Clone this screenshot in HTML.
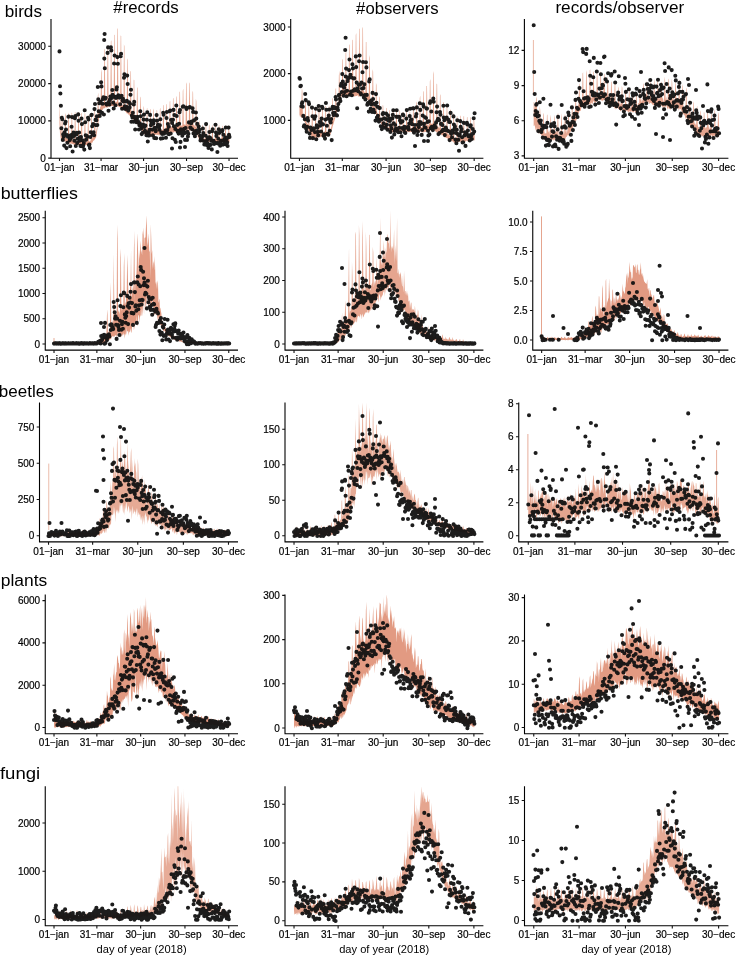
<!DOCTYPE html><html><head><meta charset="utf-8"><style>html,body{margin:0;padding:0;background:#fff;}svg{display:block;will-change:transform;}text{font-family:"Liberation Sans",sans-serif;}</style></head><body>
<svg width="736" height="955" viewBox="0 0 736 955"><g opacity="0.999">
<rect width="736" height="955" fill="#fff"/>
<polygon points="59.50,101.4 59.97,115.6 60.43,123.3 60.90,135.1 61.37,136.4 61.84,115.4 62.30,114.4 62.77,136.5 63.24,136.5 63.70,136.8 64.17,137.2 64.64,136.4 65.10,114.9 65.57,113.0 66.04,137.2 66.51,137.6 66.97,138.4 67.44,138.9 67.91,137.8 68.37,114.3 68.84,112.5 69.31,139.7 69.77,140.2 70.24,139.9 70.71,139.6 71.18,139.3 71.64,112.5 72.11,113.3 72.58,140.7 73.04,140.6 73.51,140.7 73.98,141.3 74.45,140.8 74.91,111.8 75.38,112.5 75.85,141.9 76.31,141.6 76.78,141.5 77.25,140.6 77.71,142.5 78.18,111.9 78.65,112.1 79.12,141.6 79.58,142.1 80.05,140.9 80.52,141.5 80.98,142.5 81.45,113.0 81.92,113.2 82.38,141.3 82.85,141.1 83.32,142.1 83.79,140.6 84.25,141.8 84.72,113.2 85.19,113.4 85.65,142.5 86.12,140.9 86.59,141.3 87.05,142.0 87.52,141.2 87.99,115.3 88.46,115.2 88.92,141.7 89.39,141.1 89.86,141.5 90.32,141.0 90.79,139.6 91.26,112.8 91.73,114.3 92.19,138.8 92.66,137.6 93.13,136.6 93.59,136.2 94.06,135.4 94.53,110.9 94.99,110.2 95.46,135.4 95.93,133.0 96.40,130.0 96.86,127.6 97.33,125.3 97.80,96.3 98.26,92.5 98.73,114.6 99.20,112.7 99.66,109.5 100.13,106.7 100.60,107.5 101.07,72.5 101.53,68.7 102.00,105.5 102.47,105.8 102.93,105.1 103.40,104.9 103.87,102.9 104.34,50.0 104.80,48.4 105.27,102.9 105.74,102.7 106.20,102.5 106.67,102.8 107.14,102.4 107.60,46.3 108.07,45.0 108.54,103.1 109.01,103.4 109.47,101.5 109.94,102.5 110.41,102.8 110.87,41.5 111.34,40.3 111.81,100.9 112.27,101.6 112.74,101.7 113.21,102.0 113.68,102.0 114.14,34.7 114.61,35.1 115.08,102.8 115.54,102.0 116.01,101.1 116.48,102.0 116.95,102.0 117.41,29.3 117.88,28.1 118.35,102.4 118.81,102.6 119.28,102.4 119.75,103.3 120.21,103.3 120.68,35.6 121.15,35.9 121.62,104.4 122.08,104.7 122.55,105.0 123.02,105.9 123.48,105.3 123.95,44.3 124.42,46.5 124.88,107.3 125.35,106.7 125.82,107.2 126.29,107.3 126.75,108.9 127.22,58.2 127.69,59.9 128.15,111.2 128.62,110.9 129.09,111.4 129.55,110.4 130.02,112.7 130.49,71.0 130.96,71.4 131.42,113.9 131.89,113.6 132.36,114.2 132.82,114.2 133.29,116.9 133.76,79.7 134.23,79.9 134.69,116.9 135.16,117.0 135.63,118.0 136.09,116.6 136.56,119.1 137.03,87.0 137.49,88.2 137.96,120.8 138.43,121.5 138.90,121.9 139.36,122.5 139.83,124.0 140.30,96.6 140.76,97.8 141.23,124.0 141.70,125.1 142.16,126.2 142.63,125.9 143.10,128.0 143.57,105.8 144.03,108.0 144.50,128.7 144.97,131.1 145.43,131.3 145.90,129.4 146.37,130.8 146.84,108.7 147.30,108.0 147.77,129.7 148.24,130.1 148.70,130.9 149.17,131.1 149.64,129.6 150.10,108.7 150.57,109.6 151.04,130.0 151.51,129.6 151.97,130.2 152.44,129.6 152.91,130.1 153.37,108.4 153.84,110.2 154.31,131.1 154.77,129.3 155.24,129.4 155.71,129.4 156.18,130.1 156.64,110.1 157.11,110.4 157.58,128.9 158.04,129.1 158.51,131.2 158.98,129.3 159.45,130.0 159.91,108.8 160.38,107.9 160.85,129.2 161.31,129.7 161.78,129.5 162.25,130.3 162.71,130.1 163.18,104.8 163.65,105.5 164.12,128.5 164.58,129.7 165.05,128.1 165.52,127.4 165.98,128.7 166.45,104.0 166.92,104.6 167.38,126.7 167.85,127.3 168.32,128.5 168.79,128.1 169.25,128.0 169.72,101.8 170.19,100.7 170.65,127.4 171.12,127.1 171.59,126.1 172.05,128.1 172.52,125.5 172.99,98.4 173.46,98.1 173.92,127.1 174.39,127.5 174.86,126.2 175.32,125.8 175.79,125.6 176.26,97.4 176.73,95.8 177.19,126.1 177.66,126.3 178.13,124.5 178.59,125.9 179.06,124.9 179.53,92.0 179.99,91.5 180.46,125.1 180.93,125.9 181.40,125.7 181.86,125.3 182.33,125.7 182.80,91.0 183.26,88.4 183.73,124.5 184.20,124.5 184.66,124.6 185.13,124.8 185.60,124.9 186.07,84.1 186.53,82.2 187.00,123.9 187.47,124.5 187.93,124.3 188.40,122.5 188.87,121.7 189.34,82.3 189.80,83.5 190.27,124.5 190.74,125.2 191.20,125.0 191.67,125.4 192.14,124.6 192.60,90.7 193.07,92.6 193.54,125.2 194.01,124.9 194.47,125.3 194.94,126.8 195.41,127.3 195.87,98.6 196.34,101.6 196.81,131.1 197.27,131.3 197.74,131.8 198.21,134.2 198.68,136.2 199.14,119.9 199.61,122.7 200.08,139.4 200.54,138.4 201.01,139.4 201.48,138.7 201.95,139.1 202.41,125.6 202.88,124.5 203.35,139.2 203.81,138.3 204.28,138.4 204.75,138.4 205.21,139.5 205.68,125.7 206.15,124.7 206.62,139.3 207.08,138.6 207.55,138.2 208.02,138.8 208.48,139.9 208.95,125.5 209.42,124.6 209.88,138.7 210.35,138.9 210.82,138.5 211.29,139.3 211.75,138.9 212.22,126.1 212.69,125.1 213.15,139.1 213.62,140.2 214.09,138.6 214.55,138.7 215.02,138.7 215.49,125.9 215.96,125.5 216.42,138.2 216.89,139.1 217.36,138.1 217.82,139.0 218.29,138.7 218.76,125.8 219.23,124.9 219.69,138.6 220.16,138.9 220.63,139.0 221.09,137.7 221.56,138.3 222.03,126.1 222.49,125.8 222.96,138.3 223.43,138.9 223.90,138.7 224.36,138.4 224.83,139.4 225.30,124.9 225.76,125.9 226.23,138.1 226.70,139.3 227.16,138.3 227.63,139.1 228.10,139.0 228.57,126.1 229.03,125.6 229.50,138.8 229.50,142.2 229.03,142.0 228.57,141.6 228.10,142.1 227.63,141.6 227.16,142.8 226.70,142.1 226.23,141.9 225.76,141.8 225.30,141.2 224.83,142.0 224.36,142.3 223.90,142.0 223.43,141.7 222.96,141.8 222.49,141.8 222.03,142.0 221.56,141.9 221.09,142.0 220.63,141.7 220.16,141.2 219.69,142.5 219.23,142.5 218.76,142.1 218.29,142.0 217.82,141.9 217.36,142.3 216.89,142.0 216.42,141.6 215.96,142.4 215.49,141.5 215.02,142.0 214.55,141.8 214.09,141.6 213.62,141.2 213.15,142.1 212.69,142.1 212.22,141.8 211.75,142.4 211.29,141.6 210.82,142.0 210.35,141.7 209.88,142.3 209.42,142.0 208.95,142.0 208.48,142.4 208.02,141.5 207.55,142.0 207.08,141.6 206.62,141.6 206.15,141.8 205.68,141.8 205.21,142.3 204.75,141.7 204.28,142.0 203.81,141.8 203.35,142.3 202.88,141.6 202.41,142.2 201.95,141.9 201.48,141.6 201.01,142.4 200.54,141.9 200.08,141.5 199.61,141.3 199.14,139.6 198.68,138.8 198.21,136.9 197.74,136.7 197.27,134.6 196.81,133.9 196.34,132.6 195.87,131.6 195.41,132.0 194.94,131.5 194.47,131.6 194.01,130.1 193.54,131.4 193.07,132.1 192.60,131.8 192.14,130.7 191.67,130.5 191.20,130.7 190.74,129.1 190.27,130.9 189.80,131.5 189.34,130.8 188.87,129.6 188.40,129.4 187.93,129.6 187.47,130.1 187.00,129.6 186.53,130.2 186.07,130.4 185.60,130.7 185.13,130.1 184.66,130.9 184.20,130.5 183.73,130.2 183.26,131.1 182.80,131.2 182.33,130.6 181.86,130.8 181.40,131.2 180.93,132.1 180.46,132.5 179.99,130.2 179.53,131.7 179.06,131.8 178.59,131.6 178.13,131.9 177.66,131.1 177.19,132.1 176.73,131.4 176.26,132.0 175.79,132.0 175.32,131.6 174.86,132.2 174.39,131.0 173.92,132.5 173.46,132.7 172.99,131.5 172.52,132.5 172.05,132.8 171.59,132.5 171.12,133.1 170.65,133.4 170.19,132.8 169.72,132.8 169.25,133.7 168.79,133.9 168.32,133.8 167.85,133.4 167.38,133.3 166.92,133.3 166.45,133.5 165.98,132.9 165.52,133.8 165.05,133.0 164.58,133.9 164.12,133.8 163.65,134.6 163.18,134.2 162.71,134.6 162.25,135.2 161.78,134.2 161.31,134.6 160.85,135.3 160.38,134.8 159.91,134.5 159.45,135.2 158.98,135.7 158.51,134.4 158.04,134.8 157.58,134.7 157.11,134.9 156.64,134.1 156.18,135.4 155.71,134.8 155.24,134.4 154.77,135.3 154.31,135.1 153.84,135.1 153.37,135.5 152.91,134.2 152.44,135.5 151.97,135.7 151.51,134.9 151.04,135.3 150.57,135.6 150.10,135.9 149.64,135.3 149.17,135.1 148.70,135.2 148.24,134.4 147.77,134.7 147.30,135.1 146.84,134.8 146.37,134.8 145.90,134.8 145.43,134.6 144.97,134.7 144.50,134.3 144.03,134.0 143.57,133.7 143.10,131.8 142.63,131.9 142.16,131.3 141.70,129.8 141.23,130.0 140.76,128.6 140.30,128.1 139.83,127.6 139.36,127.5 138.90,126.4 138.43,126.2 137.96,124.6 137.49,123.9 137.03,124.2 136.56,123.7 136.09,122.9 135.63,122.9 135.16,122.0 134.69,121.6 134.23,120.7 133.76,120.8 133.29,119.8 132.82,118.5 132.36,118.7 131.89,118.3 131.42,117.3 130.96,117.6 130.49,116.7 130.02,116.1 129.55,115.2 129.09,114.6 128.62,114.4 128.15,114.4 127.69,113.6 127.22,113.2 126.75,113.4 126.29,112.6 125.82,112.1 125.35,111.7 124.88,110.2 124.42,110.0 123.95,109.6 123.48,110.0 123.02,108.9 122.55,109.5 122.08,108.1 121.62,108.1 121.15,107.4 120.68,108.0 120.21,107.6 119.75,107.0 119.28,107.2 118.81,106.8 118.35,106.4 117.88,105.7 117.41,106.8 116.95,105.8 116.48,106.0 116.01,106.3 115.54,105.9 115.08,105.9 114.61,106.0 114.14,105.6 113.68,105.9 113.21,106.4 112.74,106.0 112.27,106.0 111.81,105.9 111.34,106.1 110.87,106.1 110.41,106.4 109.94,106.8 109.47,106.7 109.01,106.6 108.54,106.8 108.07,107.1 107.60,107.5 107.14,107.4 106.67,107.5 106.20,107.5 105.74,107.1 105.27,107.8 104.80,108.1 104.34,108.4 103.87,107.9 103.40,108.7 102.93,109.1 102.47,110.2 102.00,110.0 101.53,110.1 101.07,110.7 100.60,111.2 100.13,112.2 99.66,114.7 99.20,117.0 98.73,120.4 98.26,123.8 97.80,126.7 97.33,129.4 96.86,132.8 96.40,135.9 95.93,137.9 95.46,138.1 94.99,139.4 94.53,139.5 94.06,140.6 93.59,140.5 93.13,141.0 92.66,142.2 92.19,142.7 91.73,142.4 91.26,143.9 90.79,143.8 90.32,144.7 89.86,144.8 89.39,145.5 88.92,145.0 88.46,144.7 87.99,144.5 87.52,145.3 87.05,144.7 86.59,145.1 86.12,144.9 85.65,145.0 85.19,145.0 84.72,145.3 84.25,145.2 83.79,145.0 83.32,144.2 82.85,144.9 82.38,145.5 81.92,145.5 81.45,145.1 80.98,144.8 80.52,144.9 80.05,144.9 79.58,144.6 79.12,144.9 78.65,145.0 78.18,145.2 77.71,145.0 77.25,145.3 76.78,144.0 76.31,145.4 75.85,145.0 75.38,144.7 74.91,144.3 74.45,145.2 73.98,145.1 73.51,144.3 73.04,144.2 72.58,144.0 72.11,144.0 71.64,143.5 71.18,143.8 70.71,143.4 70.24,143.4 69.77,143.9 69.31,143.3 68.84,142.4 68.37,142.4 67.91,143.3 67.44,142.4 66.97,142.3 66.51,142.4 66.04,141.9 65.57,141.1 65.10,142.0 64.64,141.5 64.17,141.1 63.70,141.3 63.24,140.4 62.77,141.2 62.30,139.8 61.84,139.7 61.37,140.4 60.90,139.7 60.43,135.9 59.97,132.9 59.50,123.6" fill="#E0957B" fill-opacity="0.9"/>
<path d="M59.5 51.4h0M60.0 86.2h0M60.4 93.5h0M60.9 105.7h0M61.4 128.2h0M61.8 117.7h0M62.3 119.2h0M62.8 139.9h0M63.2 134.4h0M63.7 136.7h0M64.2 145.6h0M64.6 132.4h0M65.1 123.5h0M65.6 121.7h0M66.0 129.5h0M66.5 148.1h0M67.0 135.1h0M67.4 142.7h0M67.9 136.8h0M68.4 116.8h0M68.8 116.6h0M69.3 136.2h0M69.8 140.1h0M70.2 146.3h0M70.7 138.3h0M71.2 135.1h0M71.6 126.8h0M72.1 117.1h0M72.6 151.5h0M73.0 136.7h0M73.5 132.5h0M74.0 135.9h0M74.4 140.7h0M74.9 118.3h0M75.4 116.1h0M75.8 146.0h0M76.3 134.4h0M76.8 132.8h0M77.2 143.1h0M77.7 138.7h0M78.2 114.4h0M78.6 120.8h0M79.1 132.5h0M79.6 140.8h0M80.0 137.3h0M80.5 145.9h0M81.0 137.0h0M81.5 118.5h0M81.9 124.1h0M82.4 140.2h0M82.9 146.6h0M83.3 145.2h0M83.8 143.0h0M84.3 149.6h0M84.7 110.3h0M85.2 122.3h0M85.7 135.3h0M86.1 139.8h0M86.6 135.8h0M87.1 136.7h0M87.5 136.7h0M88.0 117.7h0M88.5 119.5h0M88.9 145.1h0M89.4 144.6h0M89.9 148.1h0M90.3 137.0h0M90.8 132.3h0M91.3 115.2h0M91.7 114.8h0M92.2 126.2h0M92.7 134.6h0M93.1 124.1h0M93.6 132.2h0M94.1 135.3h0M94.5 109.1h0M95.0 104.0h0M95.5 119.9h0M95.9 125.1h0M96.4 120.3h0M96.9 116.4h0M97.3 125.0h0M97.8 87.0h0M98.3 99.2h0M98.7 111.3h0M99.2 103.3h0M99.7 115.9h0M100.1 111.6h0M100.6 101.9h0M101.1 82.3h0M101.5 86.4h0M102.0 112.8h0M102.5 103.7h0M102.9 99.1h0M103.4 97.2h0M103.9 114.5h0M104.3 58.6h0M104.8 68.2h0M105.3 98.8h0M105.7 97.7h0M106.2 103.7h0M106.7 104.6h0M107.1 103.5h0M107.6 52.9h0M108.1 47.4h0M108.5 110.7h0M109.0 101.7h0M109.5 104.5h0M109.9 99.6h0M110.4 96.6h0M110.9 47.3h0M111.3 50.4h0M111.8 97.9h0M112.3 90.0h0M112.7 94.9h0M113.2 102.6h0M113.7 108.5h0M114.1 63.5h0M114.6 55.5h0M115.1 96.9h0M115.5 105.3h0M116.0 97.9h0M116.5 89.5h0M116.9 87.2h0M117.4 57.1h0M117.9 63.7h0M118.3 95.3h0M118.8 96.0h0M119.3 97.6h0M119.7 97.3h0M120.2 104.3h0M120.7 56.3h0M121.1 53.9h0M121.6 95.9h0M122.1 108.7h0M122.5 100.5h0M123.0 98.9h0M123.5 101.5h0M124.0 77.7h0M124.4 74.2h0M124.9 106.2h0M125.4 109.0h0M125.8 101.5h0M126.3 106.7h0M126.8 100.8h0M127.2 75.6h0M127.7 84.0h0M128.2 110.6h0M128.6 108.9h0M129.1 102.4h0M129.6 107.4h0M130.0 103.8h0M130.5 94.8h0M131.0 89.8h0M131.4 121.8h0M131.9 115.5h0M132.4 117.5h0M132.8 112.7h0M133.3 121.8h0M133.8 104.5h0M134.2 101.9h0M134.7 116.7h0M135.2 129.5h0M135.6 118.4h0M136.1 122.1h0M136.6 121.1h0M137.0 118.5h0M137.5 116.8h0M138.0 121.3h0M138.4 122.7h0M138.9 129.5h0M139.4 125.3h0M139.8 123.2h0M140.3 111.3h0M140.8 116.2h0M141.2 128.6h0M141.7 134.1h0M142.2 126.9h0M142.6 132.7h0M143.1 124.6h0M143.6 119.6h0M144.0 114.6h0M144.5 127.0h0M145.0 130.7h0M145.4 125.6h0M145.9 131.9h0M146.4 135.3h0M146.8 119.7h0M147.3 112.3h0M147.8 141.5h0M148.2 135.5h0M148.7 132.4h0M149.2 135.4h0M149.6 129.9h0M150.1 114.9h0M150.6 120.5h0M151.0 125.2h0M151.5 123.3h0M152.0 123.4h0M152.4 129.6h0M152.9 135.4h0M153.4 123.6h0M153.8 120.4h0M154.3 137.9h0M154.8 127.8h0M155.2 129.8h0M155.7 131.2h0M156.2 138.3h0M156.6 115.1h0M157.1 120.7h0M157.6 126.8h0M158.0 124.8h0M158.5 125.0h0M159.0 127.9h0M159.4 129.7h0M159.9 125.3h0M160.4 119.3h0M160.8 138.6h0M161.3 132.8h0M161.8 132.6h0M162.2 133.9h0M162.7 138.2h0M163.2 112.8h0M163.6 114.7h0M164.1 133.6h0M164.6 132.9h0M165.0 132.2h0M165.5 130.5h0M166.0 137.8h0M166.5 118.0h0M166.9 112.0h0M167.4 130.0h0M167.9 124.0h0M168.3 133.9h0M168.8 126.7h0M169.3 134.1h0M169.7 111.2h0M170.2 110.5h0M170.7 133.5h0M171.1 120.0h0M171.6 119.7h0M172.1 122.9h0M172.5 138.2h0M173.0 119.8h0M173.5 109.9h0M173.9 126.2h0M174.4 115.1h0M174.9 139.8h0M175.3 128.9h0M175.8 142.0h0M176.3 105.5h0M176.7 116.0h0M177.2 124.9h0M177.7 131.7h0M178.1 130.7h0M178.6 133.6h0M179.1 123.7h0M179.5 112.3h0M180.0 110.1h0M180.5 141.9h0M180.9 129.4h0M181.4 131.7h0M181.9 133.5h0M182.3 135.8h0M182.8 106.7h0M183.3 106.3h0M183.7 130.1h0M184.2 128.7h0M184.7 133.1h0M185.1 139.9h0M185.6 128.0h0M186.1 107.5h0M186.5 108.9h0M187.0 140.0h0M187.5 131.7h0M187.9 136.4h0M188.4 133.7h0M188.9 122.4h0M189.3 107.5h0M189.8 107.0h0M190.3 127.6h0M190.7 127.9h0M191.2 123.2h0M191.7 121.6h0M192.1 129.3h0M192.6 108.2h0M193.1 111.9h0M193.5 133.4h0M194.0 120.4h0M194.5 132.2h0M194.9 136.3h0M195.4 131.0h0M195.9 112.5h0M196.3 118.6h0M196.8 133.1h0M197.3 123.9h0M197.7 132.3h0M198.2 129.8h0M198.7 126.5h0M199.1 131.9h0M199.6 129.9h0M200.1 135.7h0M200.5 140.4h0M201.0 138.6h0M201.5 139.9h0M201.9 137.5h0M202.4 135.9h0M202.9 128.5h0M203.3 133.0h0M203.8 141.0h0M204.3 144.5h0M204.7 141.5h0M205.2 143.0h0M205.7 135.8h0M206.1 124.1h0M206.6 145.0h0M207.1 140.0h0M207.5 143.3h0M208.0 138.0h0M208.5 147.9h0M209.0 137.4h0M209.4 132.0h0M209.9 137.6h0M210.4 144.9h0M210.8 138.9h0M211.3 140.8h0M211.8 149.4h0M212.2 131.3h0M212.7 129.3h0M213.2 141.5h0M213.6 140.7h0M214.1 143.9h0M214.6 142.6h0M215.0 143.2h0M215.5 124.8h0M216.0 132.6h0M216.4 135.9h0M216.9 143.0h0M217.4 152.0h0M217.8 143.4h0M218.3 138.8h0M218.8 129.2h0M219.2 132.9h0M219.7 142.8h0M220.2 145.7h0M220.6 143.2h0M221.1 140.8h0M221.6 144.7h0M222.0 131.4h0M222.5 130.1h0M223.0 144.6h0M223.4 134.7h0M223.9 140.8h0M224.4 139.0h0M224.8 142.0h0M225.3 137.5h0M225.8 127.5h0M226.2 144.5h0M226.7 138.9h0M227.2 142.4h0M227.6 146.0h0M228.1 137.1h0M228.6 127.6h0M229.0 134.8h0M229.5 136.9h0M104.6 34.0h0M104.2 40.0h0M185.0 147.0h0M180.0 147.5h0M172.0 148.5h0" stroke="#111" stroke-opacity="0.95" stroke-width="4.10" stroke-linecap="round" fill="none"/>
<polygon points="299.46,105.5 299.94,107.1 300.42,106.4 300.90,108.5 301.38,107.9 301.87,87.3 302.35,91.0 302.83,113.7 303.31,115.5 303.79,115.9 304.27,116.4 304.75,119.5 305.23,97.1 305.72,99.4 306.20,122.0 306.68,122.5 307.16,123.3 307.64,124.1 308.12,125.3 308.60,103.4 309.08,104.4 309.57,127.3 310.05,128.5 310.53,129.3 311.01,130.1 311.49,131.2 311.97,107.9 312.45,108.4 312.93,132.2 313.42,133.3 313.90,132.8 314.38,131.3 314.86,131.7 315.34,107.5 315.82,106.0 316.30,133.6 316.78,131.5 317.27,132.9 317.75,131.5 318.23,133.5 318.71,106.9 319.19,106.4 319.67,130.8 320.15,131.3 320.63,132.5 321.12,131.7 321.60,132.8 322.08,106.5 322.56,105.8 323.04,131.8 323.52,133.0 324.00,131.3 324.49,131.7 324.97,131.5 325.45,105.5 325.93,106.0 326.41,131.3 326.89,131.9 327.37,131.7 327.85,131.6 328.34,132.0 328.82,106.5 329.30,105.4 329.78,129.7 330.26,131.9 330.74,128.7 331.22,127.0 331.70,125.8 332.19,97.9 332.67,98.5 333.15,120.9 333.63,118.0 334.11,117.7 334.59,117.1 335.07,114.2 335.55,89.5 336.04,87.8 336.52,108.3 337.00,106.4 337.48,106.8 337.96,103.9 338.44,102.4 338.92,74.9 339.40,70.6 339.89,97.7 340.37,95.6 340.85,95.0 341.33,93.2 341.81,90.3 342.29,59.7 342.77,58.9 343.25,89.1 343.74,89.2 344.22,90.9 344.70,91.0 345.18,90.5 345.66,53.2 346.14,51.6 346.62,89.9 347.10,91.4 347.59,89.8 348.07,90.2 348.55,89.9 349.03,45.6 349.51,44.1 349.99,90.9 350.47,90.8 350.95,90.3 351.44,89.1 351.92,89.8 352.40,40.3 352.88,39.4 353.36,90.4 353.84,90.6 354.32,91.9 354.80,91.7 355.29,90.1 355.77,35.0 356.25,33.1 356.73,90.9 357.21,89.6 357.69,89.9 358.17,92.1 358.66,89.2 359.14,28.7 359.62,28.8 360.10,92.3 360.58,90.6 361.06,89.9 361.54,90.5 362.02,90.6 362.51,26.7 362.99,28.6 363.47,90.4 363.95,91.3 364.43,93.2 364.91,91.1 365.39,94.0 365.87,42.1 366.36,42.0 366.84,93.7 367.32,95.0 367.80,95.0 368.28,94.3 368.76,97.2 369.24,55.1 369.72,57.8 370.21,98.6 370.69,99.4 371.17,100.3 371.65,101.3 372.13,103.0 372.61,69.3 373.09,71.5 373.57,106.3 374.06,105.1 374.54,106.8 375.02,107.3 375.50,110.8 375.98,82.9 376.46,85.0 376.94,112.5 377.42,113.1 377.91,113.7 378.39,114.9 378.87,116.3 379.35,96.3 379.83,97.5 380.31,118.9 380.79,119.6 381.27,122.3 381.76,121.8 382.24,122.6 382.72,105.1 383.20,105.6 383.68,123.8 384.16,123.5 384.64,124.4 385.12,124.3 385.61,125.3 386.09,108.1 386.57,107.9 387.05,126.2 387.53,127.1 388.01,127.1 388.49,126.9 388.98,128.9 389.46,110.3 389.94,110.0 390.42,128.6 390.90,128.3 391.38,129.0 391.86,128.4 392.34,128.5 392.83,109.8 393.31,108.8 393.79,128.9 394.27,128.9 394.75,128.7 395.23,128.4 395.71,128.6 396.19,110.8 396.68,110.9 397.16,128.8 397.64,127.9 398.12,129.3 398.60,128.5 399.08,128.7 399.56,110.5 400.04,110.5 400.53,128.8 401.01,128.6 401.49,127.6 401.97,129.5 402.45,127.5 402.93,111.7 403.41,112.3 403.89,128.8 404.38,128.3 404.86,127.6 405.34,128.1 405.82,129.8 406.30,111.1 406.78,110.8 407.26,128.5 407.74,127.6 408.23,129.0 408.71,128.6 409.19,127.7 409.67,111.3 410.15,111.8 410.63,128.3 411.11,128.7 411.59,128.2 412.08,127.3 412.56,126.8 413.04,107.7 413.52,106.5 414.00,127.1 414.48,128.0 414.96,128.0 415.44,127.3 415.93,127.0 416.41,102.9 416.89,101.4 417.37,127.2 417.85,126.5 418.33,126.0 418.81,126.9 419.30,126.2 419.78,98.0 420.26,95.4 420.74,126.7 421.22,126.8 421.70,127.2 422.18,126.7 422.66,126.2 423.15,92.0 423.63,90.8 424.11,126.0 424.59,125.6 425.07,126.2 425.55,125.2 426.03,126.3 426.51,86.0 427.00,86.0 427.48,125.3 427.96,125.0 428.44,126.1 428.92,122.4 429.40,123.7 429.88,81.4 430.36,79.0 430.85,123.6 431.33,123.4 431.81,124.0 432.29,124.0 432.77,122.8 433.25,71.0 433.73,73.9 434.21,122.6 434.70,122.6 435.18,124.7 435.66,126.3 436.14,127.2 436.62,83.5 437.10,84.3 437.58,126.5 438.06,128.0 438.55,126.3 439.03,127.7 439.51,128.4 439.99,93.9 440.47,95.6 440.95,128.4 441.43,129.9 441.91,130.6 442.40,130.7 442.88,131.2 443.36,102.2 443.84,102.0 444.32,131.5 444.80,133.2 445.28,132.2 445.76,131.9 446.25,133.4 446.73,105.6 447.21,105.3 447.69,134.3 448.17,133.5 448.65,134.6 449.13,134.9 449.61,136.1 450.10,109.4 450.58,109.8 451.06,136.5 451.54,137.3 452.02,137.7 452.50,136.2 452.98,137.8 453.47,112.4 453.95,114.3 454.43,137.8 454.91,138.5 455.39,139.2 455.87,139.0 456.35,138.4 456.83,116.4 457.32,116.2 457.80,138.6 458.28,138.0 458.76,138.0 459.24,138.4 459.72,138.1 460.20,115.4 460.68,115.9 461.17,139.0 461.65,138.2 462.13,138.3 462.61,137.4 463.09,138.4 463.57,116.5 464.05,116.1 464.53,137.5 465.02,137.6 465.50,136.9 465.98,137.2 466.46,136.5 466.94,117.5 467.42,116.8 467.90,136.8 468.38,137.1 468.87,136.9 469.35,135.6 469.83,136.5 470.31,117.5 470.79,116.9 471.27,137.7 471.75,136.5 472.23,136.8 472.72,136.4 473.20,135.7 473.68,118.0 474.16,117.4 474.64,136.1 474.64,140.0 474.16,140.5 473.68,140.3 473.20,139.6 472.72,140.5 472.23,140.0 471.75,140.0 471.27,140.1 470.79,140.6 470.31,140.8 469.83,140.4 469.35,140.1 468.87,140.9 468.38,141.3 467.90,140.8 467.42,141.4 466.94,141.1 466.46,140.2 465.98,141.2 465.50,141.4 465.02,141.9 464.53,141.5 464.05,142.1 463.57,142.0 463.09,141.8 462.61,141.5 462.13,142.1 461.65,141.7 461.17,141.7 460.68,141.7 460.20,141.8 459.72,141.6 459.24,141.9 458.76,142.3 458.28,141.9 457.80,142.6 457.32,142.7 456.83,143.0 456.35,142.6 455.87,142.6 455.39,143.1 454.91,143.2 454.43,142.6 453.95,143.1 453.47,141.8 452.98,141.8 452.50,141.1 452.02,141.5 451.54,141.3 451.06,139.8 450.58,140.8 450.10,140.2 449.61,139.8 449.13,139.1 448.65,139.3 448.17,138.7 447.69,138.5 447.21,138.7 446.73,137.8 446.25,138.0 445.76,137.9 445.28,137.0 444.80,136.6 444.32,136.9 443.84,136.6 443.36,135.5 442.88,135.6 442.40,134.8 441.91,135.6 441.43,135.0 440.95,133.3 440.47,133.3 439.99,133.8 439.51,134.1 439.03,133.6 438.55,133.1 438.06,132.6 437.58,132.9 437.10,131.2 436.62,132.7 436.14,132.1 435.66,131.4 435.18,130.9 434.70,130.3 434.21,130.7 433.73,129.5 433.25,129.9 432.77,129.4 432.29,131.3 431.81,130.7 431.33,129.6 430.85,130.4 430.36,130.0 429.88,131.7 429.40,131.2 428.92,132.0 428.44,130.7 427.96,130.3 427.48,131.9 427.00,130.9 426.51,131.8 426.03,131.6 425.55,132.0 425.07,131.7 424.59,131.7 424.11,132.3 423.63,132.5 423.15,131.9 422.66,132.8 422.18,132.2 421.70,132.0 421.22,131.6 420.74,131.4 420.26,131.8 419.78,132.2 419.30,132.2 418.81,132.3 418.33,131.3 417.85,131.9 417.37,132.0 416.89,132.2 416.41,131.9 415.93,131.8 415.44,132.7 414.96,132.3 414.48,131.4 414.00,132.4 413.52,132.4 413.04,131.8 412.56,131.8 412.08,131.6 411.59,132.1 411.11,132.2 410.63,131.8 410.15,132.0 409.67,132.2 409.19,131.7 408.71,132.3 408.23,131.4 407.74,131.6 407.26,132.3 406.78,132.1 406.30,131.6 405.82,131.6 405.34,132.1 404.86,132.2 404.38,131.9 403.89,132.4 403.41,132.2 402.93,132.0 402.45,131.6 401.97,132.0 401.49,131.6 401.01,131.8 400.53,131.9 400.04,132.1 399.56,131.6 399.08,131.5 398.60,132.0 398.12,132.5 397.64,131.8 397.16,131.8 396.68,131.8 396.19,132.4 395.71,131.6 395.23,131.9 394.75,131.7 394.27,131.7 393.79,132.0 393.31,132.2 392.83,132.2 392.34,132.2 391.86,132.6 391.38,132.0 390.90,131.9 390.42,132.0 389.94,131.7 389.46,131.7 388.98,130.9 388.49,130.6 388.01,130.8 387.53,130.1 387.05,129.6 386.57,129.5 386.09,129.4 385.61,128.0 385.12,128.1 384.64,127.6 384.16,128.1 383.68,127.5 383.20,127.2 382.72,126.6 382.24,126.4 381.76,125.4 381.27,124.3 380.79,123.1 380.31,122.7 379.83,121.4 379.35,120.5 378.87,119.8 378.39,118.7 377.91,117.7 377.42,116.9 376.94,116.4 376.46,115.1 375.98,114.0 375.50,114.1 375.02,111.9 374.54,111.0 374.06,110.5 373.57,109.7 373.09,109.0 372.61,107.6 372.13,107.1 371.65,106.4 371.17,105.9 370.69,103.6 370.21,103.4 369.72,102.6 369.24,101.6 368.76,100.7 368.28,100.1 367.80,99.9 367.32,99.7 366.84,99.0 366.36,98.5 365.87,97.9 365.39,97.7 364.91,98.0 364.43,98.0 363.95,97.2 363.47,97.3 362.99,96.8 362.51,96.1 362.02,95.7 361.54,95.7 361.06,95.7 360.58,95.8 360.10,96.1 359.62,96.7 359.14,96.2 358.66,97.1 358.17,95.4 357.69,95.6 357.21,95.3 356.73,96.1 356.25,95.9 355.77,95.8 355.29,96.2 354.80,96.4 354.32,96.3 353.84,96.3 353.36,96.1 352.88,96.0 352.40,96.0 351.92,96.2 351.44,95.4 350.95,95.6 350.47,95.4 349.99,96.4 349.51,95.0 349.03,95.6 348.55,95.8 348.07,96.1 347.59,95.1 347.10,95.6 346.62,94.8 346.14,95.6 345.66,95.7 345.18,95.7 344.70,94.6 344.22,94.5 343.74,95.9 343.25,94.0 342.77,95.1 342.29,95.0 341.81,95.6 341.33,97.1 340.85,98.6 340.37,100.7 339.89,102.3 339.40,103.4 338.92,105.4 338.44,106.8 337.96,108.5 337.48,109.7 337.00,111.8 336.52,113.3 336.04,114.0 335.55,117.1 335.07,118.2 334.59,120.0 334.11,121.8 333.63,123.2 333.15,125.1 332.67,126.3 332.19,128.4 331.70,129.4 331.22,131.5 330.74,133.8 330.26,134.8 329.78,136.1 329.30,136.1 328.82,136.9 328.34,135.6 327.85,136.9 327.37,136.1 326.89,136.1 326.41,136.2 325.93,136.4 325.45,137.1 324.97,136.9 324.49,136.0 324.00,136.4 323.52,137.5 323.04,137.6 322.56,137.1 322.08,137.2 321.60,136.3 321.12,136.8 320.63,136.9 320.15,137.0 319.67,137.3 319.19,137.4 318.71,137.7 318.23,137.5 317.75,137.3 317.27,136.9 316.78,137.9 316.30,138.0 315.82,137.6 315.34,137.6 314.86,137.4 314.38,138.0 313.90,137.6 313.42,138.3 312.93,138.2 312.45,137.9 311.97,138.1 311.49,136.2 311.01,135.5 310.53,134.4 310.05,133.4 309.57,132.6 309.08,131.3 308.60,130.8 308.12,129.6 307.64,127.3 307.16,127.4 306.68,125.9 306.20,125.2 305.72,124.7 305.23,122.9 304.75,122.1 304.27,121.2 303.79,119.9 303.31,119.1 302.83,117.5 302.35,117.9 301.87,116.9 301.38,117.9 300.90,117.0 300.42,116.5 299.94,114.4 299.46,117.0" fill="#E0957B" fill-opacity="0.9"/>
<path d="M299.5 78.0h0M299.9 78.8h0M300.4 86.2h0M300.9 85.7h0M301.4 106.2h0M301.9 103.4h0M302.3 102.2h0M302.8 106.8h0M303.3 115.9h0M303.8 126.4h0M304.3 125.4h0M304.8 119.3h0M305.2 94.0h0M305.7 100.1h0M306.2 128.8h0M306.7 131.8h0M307.2 126.9h0M307.6 118.0h0M308.1 120.6h0M308.6 102.3h0M309.1 104.1h0M309.6 133.6h0M310.0 137.9h0M310.5 127.5h0M311.0 128.2h0M311.5 129.9h0M312.0 107.6h0M312.5 116.2h0M312.9 138.1h0M313.4 128.8h0M313.9 128.4h0M314.4 118.7h0M314.9 132.1h0M315.3 116.3h0M315.8 108.7h0M316.3 139.2h0M316.8 125.2h0M317.3 127.8h0M317.7 131.9h0M318.2 135.2h0M318.7 106.0h0M319.2 110.2h0M319.7 122.1h0M320.2 125.7h0M320.6 122.2h0M321.1 131.5h0M321.6 118.6h0M322.1 106.7h0M322.6 108.1h0M323.0 124.4h0M323.5 135.7h0M324.0 134.3h0M324.5 135.3h0M325.0 138.6h0M325.4 119.6h0M325.9 103.0h0M326.4 109.7h0M326.9 125.7h0M327.4 133.8h0M327.9 118.6h0M328.3 134.7h0M328.8 115.6h0M329.3 109.5h0M329.8 130.7h0M330.3 121.6h0M330.7 122.5h0M331.2 119.0h0M331.7 140.1h0M332.2 108.7h0M332.7 106.8h0M333.1 113.1h0M333.6 115.1h0M334.1 107.1h0M334.6 112.8h0M335.1 108.2h0M335.6 97.0h0M336.0 99.4h0M336.5 115.1h0M337.0 115.5h0M337.5 107.5h0M338.0 110.0h0M338.4 104.0h0M338.9 95.1h0M339.4 94.9h0M339.9 98.7h0M340.4 101.1h0M340.8 85.8h0M341.3 83.9h0M341.8 92.0h0M342.3 74.1h0M342.8 81.6h0M343.3 86.6h0M343.7 95.8h0M344.2 87.8h0M344.7 92.1h0M345.2 84.4h0M345.7 76.5h0M346.1 68.6h0M346.6 96.2h0M347.1 90.8h0M347.6 81.1h0M348.1 78.6h0M348.5 77.6h0M349.0 70.1h0M349.5 59.5h0M350.0 94.7h0M350.5 74.8h0M351.0 91.6h0M351.4 77.5h0M351.9 95.2h0M352.4 64.2h0M352.9 68.4h0M353.4 90.8h0M353.8 78.4h0M354.3 78.2h0M354.8 89.3h0M355.3 90.3h0M355.8 56.4h0M356.2 67.1h0M356.7 82.6h0M357.2 108.2h0M357.7 88.3h0M358.2 91.3h0M358.7 84.6h0M359.1 61.3h0M359.6 55.5h0M360.1 84.6h0M360.6 93.3h0M361.1 94.4h0M361.5 82.5h0M362.0 88.5h0M362.5 72.3h0M363.0 62.0h0M363.5 88.1h0M363.9 97.4h0M364.4 84.3h0M364.9 95.0h0M365.4 99.4h0M365.9 62.3h0M366.4 67.4h0M366.8 94.9h0M367.3 104.8h0M367.8 103.2h0M368.3 102.9h0M368.8 111.6h0M369.2 81.4h0M369.7 79.4h0M370.2 101.3h0M370.7 108.8h0M371.2 104.4h0M371.6 100.4h0M372.1 111.9h0M372.6 92.9h0M373.1 99.0h0M373.6 109.7h0M374.1 103.7h0M374.5 112.2h0M375.0 104.4h0M375.5 120.6h0M376.0 94.1h0M376.5 102.7h0M376.9 117.5h0M377.4 106.7h0M377.9 115.8h0M378.4 119.3h0M378.9 121.6h0M379.3 107.9h0M379.8 108.0h0M380.3 119.9h0M380.8 126.2h0M381.3 119.5h0M381.8 129.1h0M382.2 126.5h0M382.7 114.1h0M383.2 113.0h0M383.7 123.3h0M384.2 118.2h0M384.6 118.6h0M385.1 127.8h0M385.6 127.1h0M386.1 113.6h0M386.6 119.2h0M387.0 124.8h0M387.5 129.7h0M388.0 115.4h0M388.5 120.6h0M389.0 120.4h0M389.5 118.5h0M389.9 120.9h0M390.4 131.9h0M390.9 125.2h0M391.4 128.4h0M391.9 137.6h0M392.3 118.4h0M392.8 114.8h0M393.3 110.3h0M393.8 123.4h0M394.3 134.5h0M394.8 130.9h0M395.2 125.0h0M395.7 128.7h0M396.2 116.7h0M396.7 110.3h0M397.2 116.9h0M397.6 128.9h0M398.1 132.1h0M398.6 116.7h0M399.1 127.7h0M399.6 117.1h0M400.0 120.4h0M400.5 132.3h0M401.0 122.6h0M401.5 136.3h0M402.0 128.0h0M402.5 121.3h0M402.9 114.6h0M403.4 115.2h0M403.9 129.6h0M404.4 126.7h0M404.9 132.5h0M405.3 132.9h0M405.8 127.5h0M406.3 118.6h0M406.8 110.1h0M407.3 127.2h0M407.7 128.1h0M408.2 127.0h0M408.7 129.4h0M409.2 123.5h0M409.7 116.1h0M410.2 108.8h0M410.6 120.4h0M411.1 122.4h0M411.6 119.6h0M412.1 124.3h0M412.6 130.0h0M413.0 108.2h0M413.5 108.4h0M414.0 132.6h0M414.5 128.9h0M415.0 125.0h0M415.4 129.9h0M415.9 116.4h0M416.4 114.0h0M416.9 107.4h0M417.4 135.0h0M417.9 131.4h0M418.3 124.6h0M418.8 127.1h0M419.3 122.1h0M419.8 103.3h0M420.3 109.9h0M420.7 122.2h0M421.2 123.9h0M421.7 134.9h0M422.2 130.0h0M422.7 115.6h0M423.1 104.3h0M423.6 106.6h0M424.1 123.8h0M424.6 127.1h0M425.1 117.3h0M425.6 127.7h0M426.0 118.0h0M426.5 108.4h0M427.0 108.6h0M427.5 121.9h0M428.0 130.7h0M428.4 135.5h0M428.9 121.2h0M429.4 134.4h0M429.9 103.0h0M430.4 101.4h0M430.8 128.1h0M431.3 111.5h0M431.8 126.9h0M432.3 127.7h0M432.8 130.1h0M433.3 98.5h0M433.7 101.8h0M434.2 127.0h0M434.7 125.3h0M435.2 127.0h0M435.7 127.5h0M436.1 122.4h0M436.6 112.3h0M437.1 106.6h0M437.6 120.1h0M438.1 118.8h0M438.5 134.1h0M439.0 120.1h0M439.5 133.0h0M440.0 112.0h0M440.5 114.8h0M441.0 123.9h0M441.4 123.8h0M441.9 131.2h0M442.4 125.1h0M442.9 129.7h0M443.4 105.7h0M443.8 117.5h0M444.3 120.2h0M444.8 135.1h0M445.3 130.2h0M445.8 127.5h0M446.2 128.8h0M446.7 117.6h0M447.2 105.5h0M447.7 130.8h0M448.2 119.6h0M448.7 131.3h0M449.1 122.0h0M449.6 140.1h0M450.1 122.0h0M450.6 112.9h0M451.1 133.6h0M451.5 132.0h0M452.0 137.3h0M452.5 130.6h0M453.0 132.6h0M453.5 116.4h0M453.9 124.6h0M454.4 128.9h0M454.9 126.4h0M455.4 139.6h0M455.9 133.0h0M456.4 143.2h0M456.8 129.8h0M457.3 120.3h0M457.8 134.1h0M458.3 139.7h0M458.8 135.1h0M459.2 135.6h0M459.7 134.4h0M460.2 121.1h0M460.7 126.9h0M461.2 131.4h0M461.6 129.0h0M462.1 137.3h0M462.6 142.5h0M463.1 142.3h0M463.6 122.7h0M464.1 123.0h0M464.5 135.5h0M465.0 132.2h0M465.5 145.9h0M466.0 133.9h0M466.5 133.1h0M466.9 122.8h0M467.4 124.4h0M467.9 130.5h0M468.4 135.9h0M468.9 136.4h0M469.3 135.4h0M469.8 140.5h0M470.3 126.4h0M470.8 125.4h0M471.3 135.5h0M471.8 139.0h0M472.2 134.0h0M472.7 129.0h0M473.2 133.3h0M473.7 118.3h0M474.2 131.6h0M474.6 113.3h0M345.6 37.8h0M345.2 50.0h0M415.0 146.0h0M424.0 141.0h0M428.0 141.0h0M459.0 150.7h0" stroke="#111" stroke-opacity="0.95" stroke-width="4.10" stroke-linecap="round" fill="none"/>
<polygon points="533.67,102.2 534.18,101.7 534.69,109.5 535.20,103.0 535.71,104.3 536.22,96.5 536.73,98.9 537.24,118.2 537.75,120.5 538.26,117.4 538.77,121.6 539.28,122.8 539.79,105.6 540.30,111.0 540.81,126.2 541.32,124.2 541.82,126.0 542.33,129.3 542.84,131.1 543.35,112.7 543.86,114.5 544.37,131.5 544.88,133.8 545.39,133.3 545.90,133.3 546.41,133.3 546.92,115.6 547.43,114.3 547.94,132.4 548.45,132.1 548.96,130.0 549.47,131.2 549.98,134.8 550.49,114.6 551.00,118.2 551.50,132.3 552.01,135.5 552.52,130.9 553.03,132.8 553.54,131.5 554.05,118.0 554.56,114.9 555.07,131.6 555.58,132.7 556.09,130.4 556.60,130.8 557.11,134.8 557.62,114.3 558.13,112.8 558.64,135.8 559.15,135.7 559.66,130.9 560.17,132.7 560.68,135.1 561.19,117.3 561.69,113.2 562.20,130.7 562.71,132.2 563.22,130.6 563.73,134.4 564.24,133.3 564.75,114.5 565.26,114.9 565.77,132.4 566.28,128.5 566.79,133.5 567.30,130.7 567.81,127.8 568.32,113.1 568.83,112.5 569.34,126.8 569.85,124.8 570.36,122.5 570.87,121.9 571.38,123.7 571.88,106.5 572.39,104.2 572.90,119.2 573.41,118.5 573.92,118.6 574.43,112.6 574.94,114.1 575.45,98.2 575.96,99.5 576.47,109.8 576.98,108.0 577.49,107.6 578.00,105.5 578.51,104.3 579.02,83.3 579.53,85.1 580.04,102.9 580.55,99.1 581.06,106.5 581.56,101.6 582.07,101.6 582.58,73.4 583.09,72.2 583.60,97.8 584.11,98.3 584.62,100.4 585.13,97.6 585.64,97.4 586.15,69.9 586.66,73.0 587.17,100.4 587.68,100.1 588.19,101.2 588.70,97.2 589.21,98.3 589.72,70.3 590.23,69.3 590.74,96.6 591.25,97.2 591.75,98.2 592.26,97.6 592.77,96.2 593.28,71.2 593.79,72.2 594.30,97.7 594.81,95.0 595.32,95.8 595.83,98.4 596.34,96.3 596.85,71.6 597.36,74.4 597.87,93.8 598.38,95.0 598.89,93.4 599.40,94.1 599.91,92.7 600.42,70.9 600.93,72.4 601.43,93.1 601.94,94.9 602.45,94.9 602.96,91.7 603.47,91.1 603.98,73.6 604.49,74.3 605.00,92.5 605.51,92.7 606.02,93.0 606.53,94.5 607.04,94.3 607.55,75.2 608.06,80.8 608.57,98.6 609.08,98.0 609.59,97.9 610.10,97.4 610.61,98.7 611.12,82.3 611.62,81.2 612.13,99.4 612.64,101.4 613.15,100.0 613.66,103.0 614.17,100.1 614.68,84.2 615.19,81.6 615.70,102.7 616.21,101.9 616.72,102.1 617.23,103.5 617.74,104.0 618.25,88.2 618.76,86.5 619.27,105.2 619.78,102.6 620.29,103.0 620.80,105.1 621.31,102.8 621.81,85.7 622.32,87.7 622.83,108.2 623.34,107.2 623.85,105.8 624.36,104.0 624.87,108.1 625.38,90.2 625.89,89.4 626.40,103.8 626.91,105.9 627.42,104.3 627.93,107.0 628.44,107.9 628.95,90.0 629.46,90.7 629.97,105.8 630.48,108.0 630.99,108.1 631.49,104.7 632.00,105.5 632.51,95.0 633.02,90.8 633.53,105.3 634.04,106.5 634.55,106.7 635.06,106.7 635.57,106.6 636.08,92.2 636.59,93.9 637.10,106.2 637.61,105.8 638.12,103.4 638.63,102.7 639.14,103.9 639.65,88.0 640.16,89.4 640.67,100.4 641.18,98.4 641.68,102.3 642.19,100.8 642.70,99.3 643.21,84.7 643.72,83.1 644.23,98.2 644.74,96.3 645.25,96.3 645.76,94.5 646.27,94.9 646.78,80.4 647.29,83.8 647.80,98.4 648.31,98.4 648.82,96.3 649.33,98.4 649.84,96.8 650.35,83.0 650.86,81.6 651.37,97.9 651.87,99.4 652.38,98.4 652.89,100.8 653.40,96.0 653.91,82.8 654.42,78.6 654.93,99.5 655.44,97.3 655.95,98.0 656.46,99.8 656.97,98.8 657.48,80.4 657.99,80.0 658.50,98.8 659.01,99.5 659.52,97.5 660.03,97.5 660.54,97.3 661.05,81.7 661.55,81.9 662.06,96.4 662.57,98.3 663.08,98.3 663.59,103.8 664.10,98.0 664.61,76.4 665.12,80.8 665.63,97.7 666.14,101.7 666.65,96.1 667.16,99.3 667.67,99.9 668.18,78.5 668.69,79.7 669.20,97.2 669.71,96.8 670.22,99.3 670.73,100.4 671.24,99.0 671.74,78.4 672.25,82.7 672.76,101.2 673.27,94.5 673.78,101.2 674.29,101.9 674.80,99.0 675.31,84.3 675.82,81.7 676.33,99.9 676.84,96.9 677.35,102.1 677.86,97.6 678.37,101.9 678.88,79.3 679.39,80.7 679.90,102.1 680.41,102.1 680.92,103.2 681.42,103.6 681.93,104.8 682.44,87.1 682.95,84.0 683.46,109.4 683.97,106.6 684.48,108.1 684.99,110.0 685.50,108.5 686.01,88.8 686.52,88.0 687.03,114.2 687.54,113.9 688.05,114.0 688.56,112.4 689.07,114.1 689.58,100.0 690.09,101.0 690.60,118.7 691.11,117.5 691.61,115.7 692.12,120.7 692.63,123.1 693.14,101.2 693.65,103.6 694.16,119.9 694.67,123.7 695.18,123.2 695.69,124.7 696.20,125.0 696.71,108.2 697.22,105.6 697.73,124.9 698.24,126.9 698.75,127.1 699.26,129.8 699.77,129.2 700.28,112.1 700.79,110.3 701.30,127.8 701.80,126.9 702.31,129.6 702.82,127.6 703.33,126.9 703.84,112.2 704.35,112.4 704.86,125.4 705.37,128.1 705.88,128.5 706.39,126.6 706.90,127.9 707.41,112.3 707.92,111.1 708.43,124.8 708.94,127.7 709.45,129.5 709.96,126.4 710.47,128.3 710.98,114.8 711.48,111.4 711.99,130.3 712.50,130.2 713.01,129.8 713.52,129.3 714.03,131.3 714.54,108.9 715.05,111.5 715.56,129.5 716.07,129.7 716.58,128.8 717.09,127.4 717.60,127.0 718.11,112.1 718.62,114.2 719.13,127.5 719.13,135.2 718.62,136.9 718.11,136.3 717.60,138.1 717.09,134.9 716.58,136.3 716.07,135.1 715.56,137.2 715.05,134.7 714.54,136.7 714.03,135.8 713.52,135.6 713.01,136.7 712.50,136.3 711.99,136.5 711.48,135.3 710.98,134.7 710.47,137.2 709.96,137.5 709.45,135.5 708.94,136.9 708.43,135.9 707.92,135.9 707.41,134.4 706.90,136.3 706.39,137.4 705.88,137.4 705.37,136.1 704.86,134.8 704.35,135.9 703.84,135.4 703.33,135.9 702.82,136.2 702.31,136.4 701.80,135.7 701.30,135.1 700.79,137.2 700.28,135.3 699.77,134.6 699.26,135.5 698.75,135.9 698.24,132.8 697.73,135.1 697.22,132.6 696.71,134.9 696.20,131.1 695.69,131.5 695.18,132.1 694.67,129.2 694.16,128.0 693.65,129.3 693.14,125.6 692.63,127.8 692.12,126.7 691.61,125.7 691.11,126.8 690.60,125.4 690.09,125.4 689.58,123.3 689.07,123.6 688.56,119.9 688.05,120.5 687.54,120.4 687.03,119.4 686.52,117.2 686.01,117.6 685.50,118.9 684.99,116.5 684.48,115.0 683.97,114.8 683.46,114.2 682.95,113.3 682.44,112.8 681.93,111.2 681.42,110.8 680.92,108.7 680.41,109.5 679.90,108.2 679.39,108.8 678.88,111.0 678.37,108.5 677.86,108.6 677.35,107.3 676.84,107.0 676.33,109.1 675.82,107.1 675.31,108.9 674.80,108.9 674.29,108.9 673.78,108.7 673.27,108.7 672.76,106.4 672.25,108.7 671.74,106.2 671.24,106.6 670.73,108.3 670.22,110.2 669.71,108.8 669.20,109.0 668.69,108.4 668.18,106.7 667.67,109.8 667.16,108.0 666.65,106.4 666.14,103.5 665.63,107.5 665.12,107.2 664.61,106.3 664.10,108.3 663.59,105.9 663.08,107.7 662.57,107.4 662.06,106.0 661.55,106.0 661.05,105.1 660.54,104.7 660.03,105.2 659.52,107.7 659.01,104.9 658.50,107.3 657.99,106.7 657.48,103.9 656.97,104.2 656.46,104.8 655.95,105.1 655.44,104.1 654.93,104.2 654.42,104.7 653.91,104.6 653.40,105.7 652.89,104.8 652.38,104.8 651.87,103.8 651.37,103.3 650.86,103.0 650.35,102.6 649.84,104.1 649.33,103.8 648.82,101.7 648.31,103.0 647.80,101.6 647.29,102.7 646.78,103.2 646.27,102.6 645.76,101.3 645.25,103.4 644.74,102.0 644.23,102.7 643.72,103.9 643.21,104.9 642.70,104.8 642.19,105.9 641.68,106.7 641.18,107.1 640.67,107.4 640.16,107.2 639.65,108.7 639.14,110.0 638.63,110.1 638.12,110.0 637.61,111.8 637.10,111.1 636.59,112.5 636.08,112.7 635.57,113.1 635.06,111.6 634.55,110.0 634.04,112.6 633.53,111.5 633.02,112.8 632.51,112.1 632.00,111.6 631.49,111.1 630.99,112.0 630.48,111.4 629.97,111.7 629.46,111.1 628.95,112.9 628.44,111.7 627.93,112.2 627.42,110.8 626.91,110.4 626.40,111.2 625.89,109.9 625.38,111.7 624.87,110.3 624.36,112.1 623.85,110.3 623.34,110.9 622.83,109.4 622.32,109.4 621.81,110.3 621.31,110.3 620.80,111.4 620.29,110.7 619.78,109.4 619.27,109.5 618.76,108.7 618.25,109.6 617.74,108.0 617.23,107.6 616.72,108.2 616.21,108.8 615.70,107.7 615.19,109.8 614.68,108.2 614.17,107.1 613.66,106.7 613.15,106.3 612.64,105.1 612.13,106.9 611.62,104.3 611.12,103.6 610.61,105.0 610.10,103.9 609.59,105.0 609.08,106.3 608.57,104.6 608.06,102.3 607.55,103.5 607.04,102.9 606.53,102.7 606.02,101.1 605.51,100.9 605.00,100.1 604.49,99.9 603.98,100.1 603.47,100.1 602.96,101.4 602.45,100.7 601.94,99.9 601.43,100.7 600.93,100.6 600.42,99.5 599.91,99.0 599.40,100.5 598.89,100.3 598.38,99.2 597.87,100.2 597.36,99.5 596.85,101.4 596.34,102.0 595.83,101.8 595.32,102.7 594.81,101.9 594.30,103.2 593.79,101.1 593.28,101.3 592.77,103.0 592.26,104.2 591.75,103.4 591.25,102.5 590.74,103.4 590.23,105.2 589.72,103.4 589.21,104.5 588.70,104.3 588.19,104.7 587.68,104.3 587.17,105.0 586.66,104.6 586.15,104.0 585.64,106.3 585.13,104.8 584.62,105.2 584.11,105.4 583.60,106.4 583.09,105.6 582.58,107.1 582.07,105.8 581.56,106.2 581.06,108.9 580.55,111.1 580.04,111.1 579.53,110.5 579.02,112.2 578.51,113.4 578.00,112.9 577.49,114.8 576.98,118.5 576.47,120.4 575.96,120.3 575.45,121.8 574.94,121.4 574.43,124.3 573.92,126.0 573.41,126.0 572.90,128.2 572.39,128.7 571.88,129.1 571.38,129.5 570.87,132.5 570.36,130.9 569.85,134.2 569.34,133.1 568.83,136.2 568.32,134.7 567.81,136.0 567.30,134.6 566.79,137.1 566.28,136.7 565.77,137.6 565.26,139.8 564.75,139.2 564.24,140.3 563.73,140.2 563.22,140.3 562.71,140.9 562.20,141.4 561.69,139.7 561.19,139.4 560.68,141.6 560.17,140.1 559.66,140.1 559.15,141.4 558.64,140.4 558.13,140.1 557.62,141.2 557.11,139.8 556.60,139.7 556.09,140.6 555.58,137.9 555.07,140.8 554.56,139.0 554.05,140.4 553.54,140.4 553.03,138.6 552.52,140.1 552.01,140.5 551.50,140.3 551.00,139.7 550.49,139.5 549.98,140.1 549.47,142.7 548.96,139.7 548.45,141.1 547.94,139.5 547.43,142.3 546.92,141.1 546.41,137.8 545.90,140.8 545.39,138.4 544.88,138.1 544.37,139.9 543.86,140.5 543.35,135.6 542.84,135.7 542.33,136.2 541.82,136.2 541.32,135.1 540.81,134.3 540.30,133.9 539.79,133.0 539.28,133.1 538.77,134.2 538.26,130.1 537.75,130.1 537.24,129.2 536.73,132.4 536.22,127.3 535.71,130.8 535.20,128.1 534.69,124.5 534.18,126.2 533.67,125.8" fill="#E0957B" fill-opacity="0.85"/>
<path d="M533.40 40.0V95.0" stroke="#E0957B" stroke-width="0.8" stroke-opacity="0.85"/>
<path d="M533.7 25.3h0M534.2 72.0h0M534.7 94.0h0M535.2 115.0h0M535.7 111.0h0M536.2 104.8h0M536.7 104.1h0M537.2 112.3h0M537.7 116.4h0M538.3 131.1h0M538.8 115.7h0M539.3 120.9h0M539.8 102.2h0M540.3 122.9h0M540.8 120.5h0M541.3 131.9h0M541.8 129.4h0M542.3 125.5h0M542.8 137.6h0M543.4 98.7h0M543.9 127.4h0M544.4 126.6h0M544.9 125.9h0M545.4 138.0h0M545.9 145.6h0M546.4 127.1h0M546.9 140.0h0M547.4 122.9h0M547.9 144.7h0M548.4 139.9h0M549.0 145.1h0M549.5 141.1h0M550.0 140.6h0M550.5 104.7h0M551.0 126.3h0M551.5 124.2h0M552.0 136.6h0M552.5 131.2h0M553.0 146.4h0M553.5 132.0h0M554.1 123.1h0M554.6 126.3h0M555.1 144.5h0M555.6 146.3h0M556.1 136.3h0M556.6 136.7h0M557.1 139.7h0M557.6 129.4h0M558.1 116.9h0M558.6 148.9h0M559.1 137.7h0M559.7 140.8h0M560.2 138.0h0M560.7 139.2h0M561.2 133.0h0M561.7 105.0h0M562.2 127.4h0M562.7 141.7h0M563.2 140.0h0M563.7 141.6h0M564.2 143.7h0M564.8 126.2h0M565.3 118.4h0M565.8 127.7h0M566.3 146.8h0M566.8 145.8h0M567.3 122.1h0M567.8 143.9h0M568.3 112.5h0M568.8 115.2h0M569.3 123.5h0M569.8 125.8h0M570.4 124.3h0M570.9 134.8h0M571.4 140.9h0M571.9 107.4h0M572.4 121.9h0M572.9 130.1h0M573.4 117.4h0M573.9 122.3h0M574.4 113.8h0M574.9 124.9h0M575.5 99.9h0M576.0 92.5h0M576.5 114.1h0M577.0 107.7h0M577.5 117.0h0M578.0 108.9h0M578.5 98.7h0M579.0 80.1h0M579.5 88.1h0M580.0 100.9h0M580.5 101.8h0M581.1 103.0h0M581.6 105.3h0M582.1 104.5h0M582.6 49.0h0M583.1 52.1h0M583.6 91.3h0M584.1 98.5h0M584.6 106.8h0M585.1 98.0h0M585.6 103.7h0M586.2 53.9h0M586.7 48.9h0M587.2 102.9h0M587.7 97.2h0M588.2 100.6h0M588.7 98.9h0M589.2 107.0h0M589.7 61.2h0M590.2 75.8h0M590.7 106.5h0M591.2 83.8h0M591.8 91.8h0M592.3 92.1h0M592.8 95.1h0M593.3 77.2h0M593.8 57.9h0M594.3 93.4h0M594.8 95.4h0M595.3 104.6h0M595.8 94.1h0M596.3 99.5h0M596.8 71.5h0M597.4 62.7h0M597.9 94.5h0M598.4 95.7h0M598.9 103.0h0M599.4 88.6h0M599.9 97.6h0M600.4 63.0h0M600.9 74.3h0M601.4 93.1h0M601.9 88.1h0M602.5 84.7h0M603.0 85.5h0M603.5 96.3h0M604.0 57.1h0M604.5 56.5h0M605.0 94.4h0M605.5 79.2h0M606.0 103.3h0M606.5 99.6h0M607.0 81.5h0M607.5 99.1h0M608.1 73.2h0M608.6 98.6h0M609.1 102.3h0M609.6 106.1h0M610.1 105.4h0M610.6 95.0h0M611.1 75.6h0M611.6 74.0h0M612.1 102.1h0M612.6 99.3h0M613.2 95.1h0M613.7 105.0h0M614.2 104.0h0M614.7 71.5h0M615.2 82.5h0M615.7 103.2h0M616.2 124.6h0M616.7 106.3h0M617.2 104.9h0M617.7 95.0h0M618.2 92.6h0M618.8 76.3h0M619.3 99.4h0M619.8 97.3h0M620.3 97.4h0M620.8 108.3h0M621.3 98.0h0M621.8 96.2h0M622.3 101.3h0M622.8 100.9h0M623.3 116.3h0M623.9 111.5h0M624.4 106.1h0M624.9 115.1h0M625.4 83.8h0M625.9 91.9h0M626.4 106.0h0M626.9 107.9h0M627.4 99.3h0M627.9 106.4h0M628.4 106.6h0M628.9 89.2h0M629.5 99.9h0M630.0 114.2h0M630.5 103.9h0M631.0 99.5h0M631.5 103.1h0M632.0 116.7h0M632.5 93.3h0M633.0 95.6h0M633.5 109.1h0M634.0 108.4h0M634.6 101.9h0M635.1 105.9h0M635.6 93.5h0M636.1 94.5h0M636.6 88.8h0M637.1 109.7h0M637.6 112.7h0M638.1 113.8h0M638.6 108.8h0M639.1 106.9h0M639.6 91.1h0M640.2 96.1h0M640.7 108.6h0M641.2 105.5h0M641.7 112.7h0M642.2 104.8h0M642.7 106.5h0M643.2 93.8h0M643.7 89.9h0M644.2 95.2h0M644.7 98.3h0M645.3 98.9h0M645.8 107.6h0M646.3 103.3h0M646.8 84.2h0M647.3 84.4h0M647.8 89.0h0M648.3 97.6h0M648.8 92.6h0M649.3 88.7h0M649.8 91.1h0M650.3 80.0h0M650.9 85.6h0M651.4 92.4h0M651.9 95.1h0M652.4 99.1h0M652.9 87.4h0M653.4 96.1h0M653.9 101.0h0M654.4 86.6h0M654.9 107.9h0M655.4 98.9h0M656.0 104.4h0M656.5 86.6h0M657.0 93.3h0M657.5 92.8h0M658.0 79.8h0M658.5 96.3h0M659.0 105.7h0M659.5 102.8h0M660.0 90.1h0M660.5 95.4h0M661.0 84.7h0M661.6 88.1h0M662.1 94.1h0M662.6 88.4h0M663.1 103.7h0M663.6 87.6h0M664.1 109.2h0M664.6 63.3h0M665.1 71.0h0M665.6 103.6h0M666.1 114.4h0M666.6 84.0h0M667.2 102.1h0M667.7 91.5h0M668.2 102.6h0M668.7 67.4h0M669.2 104.4h0M669.7 88.5h0M670.2 98.3h0M670.7 95.7h0M671.2 106.6h0M671.7 70.1h0M672.3 92.3h0M672.8 106.1h0M673.3 96.2h0M673.8 102.4h0M674.3 94.5h0M674.8 109.6h0M675.3 75.7h0M675.8 80.4h0M676.3 100.6h0M676.8 106.6h0M677.3 100.0h0M677.9 93.4h0M678.4 100.7h0M678.9 86.9h0M679.4 82.9h0M679.9 91.7h0M680.4 115.7h0M680.9 113.6h0M681.4 102.9h0M681.9 99.6h0M682.4 91.9h0M683.0 99.6h0M683.5 96.8h0M684.0 108.5h0M684.5 111.1h0M685.0 110.8h0M685.5 94.4h0M686.0 94.1h0M686.5 111.7h0M687.0 107.0h0M687.5 120.7h0M688.0 123.1h0M688.6 116.7h0M689.1 121.7h0M689.6 109.4h0M690.1 102.8h0M690.6 116.5h0M691.1 121.3h0M691.6 121.0h0M692.1 126.5h0M692.6 113.5h0M693.1 118.5h0M693.7 117.2h0M694.2 135.7h0M694.7 129.2h0M695.2 118.7h0M695.7 133.0h0M696.2 110.3h0M696.7 112.7h0M697.2 116.0h0M697.7 118.9h0M698.2 135.1h0M698.7 116.6h0M699.3 136.0h0M699.8 130.8h0M700.3 117.4h0M700.8 122.8h0M701.3 128.3h0M701.8 123.6h0M702.3 123.6h0M702.8 122.7h0M703.3 125.2h0M703.8 121.4h0M704.4 120.7h0M704.9 142.4h0M705.4 136.7h0M705.9 138.9h0M706.4 123.1h0M706.9 134.6h0M707.4 84.4h0M707.9 111.1h0M708.4 143.7h0M708.9 120.4h0M709.4 137.4h0M710.0 123.0h0M710.5 131.5h0M711.0 111.8h0M711.5 109.4h0M712.0 125.4h0M712.5 120.0h0M713.0 131.2h0M713.5 138.0h0M714.0 119.6h0M714.5 115.5h0M715.1 128.8h0M715.6 131.4h0M716.1 129.5h0M716.6 128.0h0M717.1 135.4h0M717.6 128.5h0M718.1 106.5h0M718.6 108.9h0M719.1 133.2h0M641.0 72.0h0M625.0 78.0h0M635.0 119.0h0M639.0 125.0h0M656.0 134.0h0M663.0 137.0h0M670.0 140.0h0M663.0 118.0h0M702.0 148.5h0M688.0 79.0h0M689.0 85.0h0M696.0 90.0h0M703.0 106.0h0" stroke="#111" stroke-opacity="0.95" stroke-width="4.10" stroke-linecap="round" fill="none"/>
<polygon points="54.01,343.0 54.49,343.0 54.97,343.0 55.46,343.1 55.94,342.9 56.42,343.0 56.90,343.0 57.38,342.9 57.86,342.7 58.34,342.8 58.83,342.8 59.31,342.9 59.79,343.0 60.27,342.7 60.75,343.0 61.23,343.2 61.71,342.7 62.20,343.2 62.68,342.9 63.16,343.2 63.64,342.9 64.12,343.1 64.60,342.9 65.08,342.9 65.56,342.9 66.05,343.1 66.53,342.5 67.01,342.6 67.49,343.1 67.97,342.9 68.45,343.0 68.93,343.1 69.42,343.0 69.90,342.2 70.38,343.1 70.86,343.2 71.34,343.0 71.82,343.0 72.30,343.1 72.79,342.9 73.27,342.4 73.75,342.3 74.23,343.0 74.71,343.1 75.19,343.1 75.67,343.1 76.16,343.4 76.64,342.9 77.12,343.0 77.60,343.0 78.08,343.3 78.56,343.3 79.04,343.2 79.53,342.8 80.01,342.7 80.49,342.4 80.97,343.1 81.45,342.9 81.93,343.0 82.41,343.0 82.89,343.1 83.38,342.8 83.86,341.5 84.34,343.2 84.82,343.2 85.30,343.2 85.78,343.1 86.26,343.1 86.75,342.1 87.23,342.8 87.71,343.0 88.19,343.0 88.67,343.2 89.15,342.8 89.63,343.0 90.12,342.8 90.60,341.4 91.08,343.3 91.56,343.2 92.04,342.9 92.52,342.9 93.00,343.1 93.49,342.5 93.97,341.6 94.45,343.2 94.93,342.9 95.41,343.1 95.89,342.9 96.37,342.8 96.86,341.6 97.34,342.1 97.82,342.8 98.30,343.3 98.78,342.5 99.26,341.8 99.74,341.6 100.23,338.8 100.71,337.5 101.19,340.1 101.67,339.3 102.15,340.0 102.63,339.3 103.11,339.5 103.59,335.2 104.08,333.9 104.56,337.9 105.04,336.1 105.52,336.7 106.00,336.2 106.48,333.1 106.96,314.9 107.45,309.2 107.93,334.4 108.41,333.1 108.89,330.7 109.37,330.5 109.85,329.4 110.33,300.5 110.82,282.3 111.30,325.8 111.78,326.0 112.26,325.1 112.74,320.1 113.22,322.5 113.70,252.8 114.19,297.1 114.67,317.3 115.15,315.7 115.63,309.9 116.11,314.3 116.59,320.2 117.07,238.5 117.56,224.8 118.04,309.4 118.52,311.5 119.00,311.8 119.48,314.5 119.96,309.1 120.44,248.5 120.93,257.4 121.41,307.9 121.89,310.7 122.37,308.7 122.85,303.9 123.33,304.3 123.81,266.3 124.29,253.1 124.78,304.2 125.26,301.7 125.74,305.6 126.22,290.6 126.70,298.3 127.18,254.6 127.66,267.0 128.15,285.3 128.63,299.9 129.11,303.5 129.59,301.0 130.07,286.2 130.55,286.7 131.03,249.5 131.52,297.9 132.00,295.5 132.48,286.1 132.96,291.2 133.44,286.0 133.92,248.1 134.40,230.8 134.89,300.7 135.37,277.7 135.85,281.9 136.33,277.4 136.81,264.2 137.29,233.0 137.77,241.6 138.26,257.0 138.74,275.5 139.22,249.3 139.70,259.0 140.18,249.2 140.66,240.5 141.14,250.2 141.62,252.0 142.11,255.2 142.59,230.6 143.07,234.9 143.55,227.3 144.03,248.7 144.51,237.9 144.99,237.6 145.48,237.6 145.96,226.7 146.44,215.2 146.92,227.4 147.40,246.3 147.88,242.6 148.36,233.3 148.85,242.4 149.33,252.0 149.81,250.5 150.29,278.7 150.77,224.1 151.25,237.7 151.73,254.0 152.22,249.9 152.70,269.3 153.18,261.0 153.66,263.3 154.14,270.5 154.62,256.1 155.10,266.6 155.59,284.3 156.07,281.2 156.55,284.5 157.03,289.4 157.51,280.3 157.99,283.3 158.47,303.1 158.96,301.0 159.44,298.6 159.92,309.3 160.40,307.4 160.88,311.2 161.36,313.5 161.84,320.5 162.32,320.5 162.81,323.6 163.29,323.8 163.77,324.4 164.25,324.3 164.73,325.4 165.21,327.1 165.69,328.2 166.18,329.4 166.66,331.5 167.14,332.5 167.62,329.8 168.10,328.2 168.58,333.5 169.06,333.7 169.55,333.7 170.03,334.8 170.51,334.9 170.99,330.2 171.47,332.7 171.95,336.2 172.43,335.8 172.92,335.8 173.40,337.2 173.88,337.0 174.36,336.1 174.84,335.5 175.32,338.5 175.80,338.0 176.29,338.7 176.77,338.8 177.25,339.0 177.73,336.2 178.21,337.3 178.69,339.6 179.17,339.4 179.66,340.2 180.14,339.8 180.62,340.5 181.10,338.7 181.58,339.1 182.06,341.0 182.54,341.2 183.02,341.6 183.51,341.4 183.99,341.7 184.47,341.2 184.95,341.3 185.43,342.2 185.91,342.2 186.39,341.9 186.88,342.2 187.36,342.0 187.84,341.3 188.32,342.0 188.80,342.4 189.28,342.0 189.76,342.3 190.25,341.9 190.73,341.8 191.21,340.9 191.69,341.3 192.17,342.1 192.65,342.0 193.13,342.1 193.62,342.3 194.10,342.3 194.58,341.5 195.06,341.6 195.54,342.4 196.02,342.3 196.50,342.5 196.99,342.5 197.47,342.3 197.95,341.8 198.43,341.7 198.91,342.3 199.39,342.2 199.87,342.4 200.36,342.2 200.84,342.4 201.32,341.3 201.80,342.4 202.28,342.3 202.76,342.4 203.24,342.3 203.72,342.5 204.21,342.4 204.69,342.3 205.17,341.3 205.65,342.6 206.13,342.6 206.61,342.6 207.09,342.1 207.58,342.5 208.06,342.0 208.54,342.1 209.02,342.7 209.50,342.7 209.98,342.7 210.46,342.6 210.95,342.5 211.43,342.5 211.91,342.1 212.39,342.6 212.87,342.7 213.35,342.7 213.83,342.6 214.32,342.7 214.80,342.6 215.28,342.1 215.76,342.5 216.24,342.7 216.72,342.8 217.20,342.2 217.69,342.9 218.17,341.8 218.65,343.1 219.13,342.8 219.61,343.0 220.09,342.7 220.57,342.8 221.05,342.8 221.54,342.7 222.02,342.4 222.50,342.8 222.98,342.9 223.46,342.9 223.94,342.9 224.42,342.8 224.91,342.9 225.39,342.2 225.87,342.8 226.35,343.0 226.83,343.0 227.31,342.9 227.79,342.9 228.28,343.8 228.76,343.5 229.24,343.0 229.24,344.2 228.76,344.0 228.28,343.8 227.79,343.9 227.31,344.0 226.83,343.9 226.35,343.9 225.87,344.0 225.39,343.8 224.91,343.9 224.42,344.0 223.94,344.0 223.46,343.9 222.98,343.9 222.50,343.8 222.02,343.9 221.54,343.9 221.05,343.9 220.57,343.8 220.09,343.7 219.61,343.8 219.13,343.6 218.65,343.8 218.17,343.9 217.69,343.7 217.20,343.6 216.72,343.7 216.24,343.6 215.76,343.7 215.28,343.7 214.80,343.5 214.32,343.7 213.83,343.8 213.35,343.7 212.87,343.7 212.39,343.6 211.91,343.7 211.43,343.5 210.95,343.5 210.46,343.5 209.98,343.6 209.50,343.6 209.02,343.5 208.54,343.6 208.06,343.5 207.58,343.5 207.09,343.4 206.61,343.4 206.13,343.7 205.65,343.3 205.17,343.4 204.69,343.3 204.21,343.6 203.72,343.4 203.24,343.4 202.76,343.5 202.28,343.3 201.80,343.4 201.32,343.4 200.84,343.4 200.36,343.4 199.87,343.3 199.39,343.5 198.91,343.4 198.43,343.5 197.95,343.2 197.47,343.4 196.99,343.2 196.50,343.2 196.02,343.4 195.54,343.2 195.06,343.3 194.58,343.3 194.10,343.2 193.62,343.3 193.13,343.1 192.65,343.3 192.17,343.2 191.69,343.1 191.21,343.1 190.73,343.1 190.25,343.2 189.76,343.3 189.28,343.3 188.80,343.0 188.32,343.2 187.84,343.0 187.36,343.1 186.88,343.1 186.39,343.1 185.91,342.9 185.43,343.0 184.95,343.1 184.47,342.9 183.99,342.7 183.51,342.6 183.02,342.6 182.54,342.3 182.06,341.9 181.58,342.0 181.10,341.6 180.62,341.5 180.14,341.5 179.66,341.4 179.17,341.5 178.69,341.0 178.21,340.9 177.73,341.0 177.25,340.6 176.77,340.9 176.29,340.6 175.80,340.3 175.32,340.0 174.84,339.8 174.36,339.7 173.88,339.4 173.40,339.3 172.92,338.4 172.43,338.5 171.95,338.2 171.47,337.7 170.99,337.5 170.51,337.2 170.03,336.6 169.55,336.5 169.06,336.5 168.58,335.8 168.10,335.9 167.62,335.4 167.14,335.1 166.66,334.3 166.18,332.9 165.69,333.1 165.21,332.4 164.73,331.3 164.25,330.6 163.77,331.3 163.29,331.0 162.81,328.5 162.32,329.7 161.84,326.3 161.36,325.8 160.88,324.7 160.40,325.4 159.92,322.8 159.44,324.0 158.96,321.5 158.47,318.7 157.99,316.1 157.51,321.2 157.03,315.1 156.55,313.5 156.07,307.2 155.59,312.9 155.10,315.2 154.62,313.2 154.14,315.6 153.66,304.4 153.18,311.9 152.70,300.2 152.22,301.5 151.73,306.6 151.25,307.5 150.77,300.5 150.29,307.4 149.81,314.3 149.33,298.3 148.85,309.1 148.36,304.4 147.88,304.7 147.40,292.7 146.92,292.8 146.44,306.6 145.96,299.9 145.48,310.9 144.99,302.3 144.51,298.5 144.03,314.7 143.55,302.0 143.07,304.5 142.59,310.7 142.11,315.8 141.62,315.5 141.14,307.3 140.66,316.5 140.18,314.9 139.70,322.8 139.22,316.9 138.74,315.3 138.26,314.9 137.77,325.7 137.29,325.6 136.81,314.7 136.33,324.6 135.85,322.3 135.37,324.8 134.89,322.1 134.40,327.2 133.92,330.5 133.44,322.9 132.96,324.5 132.48,324.8 132.00,327.5 131.52,332.3 131.03,332.8 130.55,328.3 130.07,331.0 129.59,332.8 129.11,331.2 128.63,335.8 128.15,331.1 127.66,331.3 127.18,331.2 126.70,334.9 126.22,326.5 125.74,335.6 125.26,333.6 124.78,338.7 124.29,333.8 123.81,335.3 123.33,332.5 122.85,335.9 122.37,333.7 121.89,337.3 121.41,333.4 120.93,337.5 120.44,336.7 119.96,334.7 119.48,335.8 119.00,335.8 118.52,334.9 118.04,331.4 117.56,334.1 117.07,337.3 116.59,336.1 116.11,335.2 115.63,335.8 115.15,334.8 114.67,337.4 114.19,335.6 113.70,337.5 113.22,336.1 112.74,336.8 112.26,335.9 111.78,336.6 111.30,338.5 110.82,339.0 110.33,338.9 109.85,339.9 109.37,339.6 108.89,340.8 108.41,339.4 107.93,340.5 107.45,341.9 106.96,341.0 106.48,340.9 106.00,341.2 105.52,343.3 105.04,342.6 104.56,341.9 104.08,342.9 103.59,343.6 103.11,343.3 102.63,343.7 102.15,343.6 101.67,343.5 101.19,343.8 100.71,343.6 100.23,343.9 99.74,344.2 99.26,343.8 98.78,344.1 98.30,344.0 97.82,344.0 97.34,344.2 96.86,344.2 96.37,344.1 95.89,343.9 95.41,344.0 94.93,343.9 94.45,344.0 93.97,344.0 93.49,344.0 93.00,344.0 92.52,344.0 92.04,344.0 91.56,343.9 91.08,344.0 90.60,344.0 90.12,344.0 89.63,344.0 89.15,344.0 88.67,344.0 88.19,344.1 87.71,343.9 87.23,344.0 86.75,344.1 86.26,344.0 85.78,343.9 85.30,343.8 84.82,343.9 84.34,344.0 83.86,344.0 83.38,344.0 82.89,344.1 82.41,343.9 81.93,343.9 81.45,344.1 80.97,343.9 80.49,344.0 80.01,343.9 79.53,344.0 79.04,344.0 78.56,344.0 78.08,343.9 77.60,344.0 77.12,343.9 76.64,344.0 76.16,343.9 75.67,344.1 75.19,343.9 74.71,344.0 74.23,343.9 73.75,344.1 73.27,344.0 72.79,344.1 72.30,344.2 71.82,344.1 71.34,343.9 70.86,343.9 70.38,343.9 69.90,344.0 69.42,343.9 68.93,344.0 68.45,344.1 67.97,343.9 67.49,344.1 67.01,344.0 66.53,344.1 66.05,344.0 65.56,344.2 65.08,344.1 64.60,344.0 64.12,344.0 63.64,343.9 63.16,343.8 62.68,344.0 62.20,344.0 61.71,344.0 61.23,344.0 60.75,344.1 60.27,344.1 59.79,344.1 59.31,344.1 58.83,344.1 58.34,344.0 57.86,343.9 57.38,344.1 56.90,344.1 56.42,343.9 55.94,343.9 55.46,344.1 54.97,344.2 54.49,343.9 54.01,343.9" fill="#E0957B" fill-opacity="0.95"/>
<path d="M54.00 338.0V344.0" stroke="#E0957B" stroke-width="0.8" stroke-opacity="0.95"/>
<path d="M54.0 343.6h0M54.5 343.3h0M55.0 343.5h0M55.5 343.4h0M55.9 343.4h0M56.4 343.5h0M56.9 343.6h0M57.4 343.5h0M57.9 343.4h0M58.3 343.6h0M58.8 343.4h0M59.3 343.4h0M59.8 343.4h0M60.3 343.7h0M60.8 343.5h0M61.2 343.7h0M61.7 343.5h0M62.2 343.4h0M62.7 343.3h0M63.2 343.5h0M63.6 343.5h0M64.1 343.6h0M64.6 343.5h0M65.1 343.3h0M65.6 343.4h0M66.0 343.6h0M66.5 343.5h0M67.0 343.4h0M67.5 343.5h0M68.0 343.5h0M68.5 343.4h0M68.9 343.4h0M69.4 343.5h0M69.9 343.5h0M70.4 343.3h0M70.9 343.5h0M71.3 343.5h0M71.8 343.4h0M72.3 343.4h0M72.8 343.3h0M73.3 343.4h0M73.7 343.3h0M74.2 343.5h0M74.7 343.5h0M75.2 343.3h0M75.7 343.5h0M76.2 343.2h0M76.6 343.3h0M77.1 343.4h0M77.6 343.5h0M78.1 343.3h0M78.6 343.6h0M79.0 343.4h0M79.5 343.6h0M80.0 343.6h0M80.5 343.4h0M81.0 343.4h0M81.5 343.2h0M81.9 343.4h0M82.4 343.2h0M82.9 343.6h0M83.4 343.4h0M83.9 343.6h0M84.3 343.2h0M84.8 343.3h0M85.3 343.5h0M85.8 343.4h0M86.3 343.5h0M86.7 343.4h0M87.2 343.5h0M87.7 343.4h0M88.2 343.5h0M88.7 343.6h0M89.2 343.3h0M89.6 343.3h0M90.1 343.4h0M90.6 343.3h0M91.1 343.5h0M91.6 343.3h0M92.0 343.5h0M92.5 343.4h0M93.0 343.4h0M93.5 343.6h0M94.0 343.2h0M94.4 343.3h0M94.9 343.4h0M95.4 343.2h0M95.9 343.4h0M96.4 343.5h0M96.9 343.5h0M97.3 343.1h0M97.8 342.7h0M98.3 341.8h0M98.8 342.5h0M99.3 341.9h0M99.7 342.5h0M100.2 340.7h0M100.7 343.5h0M101.2 336.1h0M101.7 340.8h0M102.2 339.6h0M102.6 335.5h0M103.1 337.6h0M103.6 337.4h0M104.1 334.9h0M104.6 343.7h0M105.0 322.9h0M105.5 343.1h0M106.0 337.6h0M106.5 335.5h0M107.0 340.1h0M107.4 338.0h0M107.9 335.8h0M108.4 336.5h0M108.9 334.2h0M109.4 336.4h0M109.9 344.3h0M110.3 325.0h0M110.8 330.0h0M111.3 324.3h0M111.8 324.9h0M112.3 328.0h0M112.7 327.2h0M113.2 329.1h0M113.7 302.0h0M114.2 307.0h0M114.7 312.2h0M115.1 318.6h0M115.6 316.4h0M116.1 324.8h0M116.6 338.9h0M117.1 318.6h0M117.6 300.2h0M118.0 325.0h0M118.5 327.0h0M119.0 330.0h0M119.5 335.0h0M120.0 320.8h0M120.4 306.1h0M120.9 295.2h0M121.4 329.7h0M121.9 324.2h0M122.4 321.8h0M122.9 328.7h0M123.3 307.2h0M123.8 292.6h0M124.3 293.3h0M124.8 314.4h0M125.3 317.8h0M125.7 322.8h0M126.2 316.1h0M126.7 312.4h0M127.2 295.9h0M127.7 306.0h0M128.1 324.1h0M128.6 303.3h0M129.1 307.6h0M129.6 297.7h0M130.1 302.5h0M130.6 291.8h0M131.0 284.1h0M131.5 312.9h0M132.0 303.1h0M132.5 313.1h0M133.0 324.9h0M133.4 313.4h0M133.9 282.5h0M134.4 282.4h0M134.9 292.1h0M135.4 306.4h0M135.8 305.4h0M136.3 310.7h0M136.8 322.9h0M137.3 282.4h0M137.8 276.5h0M138.3 309.3h0M138.7 284.6h0M139.2 305.3h0M139.7 300.3h0M140.2 286.3h0M140.7 267.1h0M141.1 269.9h0M141.6 304.5h0M142.1 299.9h0M142.6 300.1h0M143.1 271.8h0M143.6 285.1h0M144.0 278.3h0M144.5 282.6h0M145.0 294.5h0M145.5 292.7h0M146.0 285.4h0M146.4 293.8h0M146.9 308.4h0M147.4 286.6h0M147.9 280.8h0M148.4 302.2h0M148.8 297.1h0M149.3 298.6h0M149.8 306.8h0M150.3 307.1h0M150.8 310.0h0M151.3 298.9h0M151.7 305.0h0M152.2 314.7h0M152.7 297.8h0M153.2 309.9h0M153.7 303.9h0M154.1 304.2h0M154.6 310.6h0M155.1 311.7h0M155.6 326.9h0M156.1 324.8h0M156.5 308.9h0M157.0 322.8h0M157.5 312.3h0M158.0 313.4h0M158.5 322.9h0M159.0 322.6h0M159.4 331.1h0M159.9 320.4h0M160.4 334.6h0M160.9 318.1h0M161.4 322.5h0M161.8 332.9h0M162.3 340.2h0M162.8 326.7h0M163.3 327.6h0M163.8 335.9h0M164.3 324.5h0M164.7 319.0h0M165.2 335.0h0M165.7 336.0h0M166.2 339.5h0M166.7 333.7h0M167.1 330.3h0M167.6 319.8h0M168.1 329.5h0M168.6 339.6h0M169.1 333.7h0M169.5 331.1h0M170.0 341.1h0M170.5 333.2h0M171.0 327.7h0M171.5 328.9h0M172.0 334.9h0M172.4 329.6h0M172.9 337.6h0M173.4 324.3h0M173.9 331.4h0M174.4 328.7h0M174.8 325.6h0M175.3 323.4h0M175.8 338.0h0M176.3 331.2h0M176.8 337.8h0M177.2 339.8h0M177.7 331.1h0M178.2 333.7h0M178.7 330.5h0M179.2 337.7h0M179.7 334.0h0M180.1 338.3h0M180.6 338.5h0M181.1 333.9h0M181.6 335.1h0M182.1 336.4h0M182.5 336.1h0M183.0 336.5h0M183.5 332.6h0M184.0 339.1h0M184.5 340.9h0M185.0 340.8h0M185.4 341.8h0M185.9 337.1h0M186.4 337.2h0M186.9 344.3h0M187.4 335.1h0M187.8 342.8h0M188.3 341.1h0M188.8 344.3h0M189.3 337.7h0M189.8 339.3h0M190.2 342.6h0M190.7 342.2h0M191.2 343.1h0M191.7 339.3h0M192.2 340.6h0M192.7 342.5h0M193.1 341.0h0M193.6 342.4h0M194.1 341.6h0M194.6 342.7h0M195.1 342.5h0M195.5 343.7h0M196.0 343.2h0M196.5 343.4h0M197.0 343.6h0M197.5 343.6h0M197.9 343.4h0M198.4 343.4h0M198.9 343.2h0M199.4 343.3h0M199.9 343.3h0M200.4 343.3h0M200.8 343.2h0M201.3 343.2h0M201.8 343.6h0M202.3 343.2h0M202.8 343.5h0M203.2 343.7h0M203.7 343.7h0M204.2 343.5h0M204.7 343.3h0M205.2 343.6h0M205.7 343.4h0M206.1 343.4h0M206.6 343.1h0M207.1 343.3h0M207.6 343.3h0M208.1 343.4h0M208.5 343.3h0M209.0 343.4h0M209.5 343.4h0M210.0 343.4h0M210.5 343.3h0M210.9 343.5h0M211.4 343.8h0M211.9 343.5h0M212.4 343.4h0M212.9 343.3h0M213.4 343.4h0M213.8 343.4h0M214.3 343.5h0M214.8 343.3h0M215.3 343.4h0M215.8 343.5h0M216.2 343.6h0M216.7 343.4h0M217.2 343.7h0M217.7 343.6h0M218.2 343.1h0M218.6 343.6h0M219.1 343.2h0M219.6 343.5h0M220.1 343.7h0M220.6 343.5h0M221.1 343.6h0M221.5 343.6h0M222.0 343.4h0M222.5 343.5h0M223.0 343.7h0M223.5 343.5h0M223.9 343.5h0M224.4 343.5h0M224.9 343.5h0M225.4 343.5h0M225.9 343.3h0M226.4 343.4h0M226.8 343.5h0M227.3 343.5h0M227.8 343.6h0M228.3 343.4h0M228.8 343.4h0M229.2 343.5h0M101.0 323.0h0M104.0 327.0h0M144.5 248.0h0" stroke="#111" stroke-opacity="0.95" stroke-width="4.10" stroke-linecap="round" fill="none"/>
<polygon points="294.02,343.4 294.51,343.4 295.01,343.4 295.50,343.4 296.00,343.4 296.50,342.9 296.99,342.6 297.49,343.3 297.98,343.3 298.48,343.5 298.97,343.6 299.47,343.5 299.96,343.2 300.46,342.7 300.96,343.4 301.45,343.3 301.95,343.5 302.44,343.3 302.94,343.6 303.43,342.9 303.93,342.9 304.42,343.4 304.92,343.3 305.41,343.4 305.91,343.2 306.41,343.5 306.90,342.7 307.40,342.7 307.89,343.2 308.39,343.4 308.88,343.5 309.38,343.2 309.87,343.4 310.37,342.0 310.87,342.7 311.36,343.1 311.86,343.2 312.35,343.4 312.85,343.2 313.34,343.3 313.84,342.4 314.33,342.3 314.83,343.3 315.32,343.2 315.82,343.4 316.32,343.2 316.81,343.4 317.31,341.9 317.80,342.2 318.30,343.4 318.79,343.3 319.29,343.3 319.78,343.2 320.28,343.0 320.78,342.1 321.27,342.4 321.77,343.2 322.26,343.1 322.76,343.1 323.25,343.3 323.75,342.9 324.24,341.8 324.74,342.2 325.23,343.1 325.73,343.2 326.23,343.0 326.72,343.1 327.22,343.4 327.71,342.0 328.21,342.0 328.70,343.0 329.20,343.0 329.69,343.2 330.19,343.0 330.69,343.2 331.18,341.7 331.68,341.7 332.17,343.1 332.67,342.9 333.16,342.6 333.66,342.9 334.15,342.8 334.65,339.4 335.15,338.3 335.64,340.1 336.14,339.2 336.63,338.1 337.13,336.5 337.62,336.3 338.12,327.8 338.61,326.1 339.11,333.0 339.60,332.9 340.10,331.5 340.60,330.5 341.09,330.5 341.59,321.5 342.08,312.5 342.58,326.3 343.07,327.1 343.57,324.6 344.06,322.4 344.56,320.8 345.06,307.6 345.55,300.3 346.05,317.1 346.54,319.3 347.04,318.9 347.53,318.7 348.03,316.6 348.52,279.7 349.02,246.5 349.51,314.1 350.01,310.5 350.51,311.6 351.00,307.6 351.50,308.9 351.99,262.1 352.49,276.7 352.98,305.7 353.48,299.5 353.97,299.4 354.47,300.7 354.97,292.5 355.46,231.5 355.96,234.6 356.45,296.8 356.95,294.0 357.44,299.2 357.94,300.5 358.43,296.5 358.93,225.0 359.42,235.0 359.92,296.8 360.42,295.4 360.91,299.2 361.41,286.1 361.90,291.1 362.40,220.9 362.89,236.9 363.39,285.6 363.88,290.4 364.38,291.3 364.88,284.6 365.37,292.6 365.87,231.5 366.36,246.9 366.86,287.6 367.35,284.1 367.85,287.9 368.34,289.1 368.84,281.2 369.33,234.9 369.83,234.7 370.33,290.0 370.82,290.3 371.32,283.1 371.81,285.6 372.31,281.7 372.80,246.7 373.30,252.4 373.79,287.5 374.29,284.1 374.79,281.5 375.28,280.6 375.78,284.0 376.27,273.4 376.77,256.1 377.26,277.0 377.76,284.6 378.25,278.9 378.75,274.2 379.24,270.4 379.74,255.4 380.24,217.5 380.73,259.5 381.23,265.5 381.72,260.3 382.22,265.9 382.71,252.4 383.21,258.3 383.70,240.5 384.20,250.0 384.70,256.6 385.19,259.0 385.69,247.8 386.18,253.3 386.68,249.5 387.17,236.3 387.67,233.4 388.16,243.5 388.66,242.8 389.16,236.0 389.65,249.4 390.15,244.8 390.64,210.7 391.14,252.4 391.63,246.1 392.13,248.8 392.62,245.7 393.12,250.7 393.61,242.9 394.11,229.0 394.61,265.2 395.10,245.1 395.60,253.3 396.09,261.1 396.59,248.5 397.08,217.4 397.58,272.4 398.07,273.8 398.57,268.5 399.07,278.1 399.56,273.6 400.06,274.6 400.55,272.0 401.05,275.4 401.54,285.4 402.04,275.3 402.53,286.1 403.03,286.4 403.52,292.4 404.02,270.8 404.52,283.1 405.01,295.2 405.51,291.0 406.00,291.0 406.50,295.8 406.99,290.0 407.49,296.6 407.98,292.8 408.48,301.5 408.98,301.3 409.47,300.1 409.97,309.1 410.46,305.6 410.96,302.5 411.45,302.7 411.95,311.1 412.44,308.4 412.94,309.8 413.43,309.2 413.93,309.8 414.43,311.9 414.92,305.4 415.42,311.8 415.91,319.5 416.41,317.9 416.90,313.9 417.40,315.8 417.89,309.2 418.39,311.4 418.89,321.5 419.38,318.3 419.88,321.6 420.37,322.9 420.87,323.1 421.36,321.9 421.86,313.8 422.35,325.1 422.85,326.0 423.34,328.0 423.84,330.6 424.34,328.4 424.83,332.1 425.33,326.4 425.82,331.8 426.32,331.1 426.81,331.2 427.31,332.0 427.80,333.2 428.30,325.3 428.80,331.9 429.29,335.6 429.79,335.2 430.28,336.8 430.78,335.6 431.27,336.3 431.77,331.6 432.26,328.6 432.76,335.8 433.25,337.6 433.75,336.5 434.25,337.0 434.74,336.9 435.24,330.8 435.73,335.5 436.23,338.4 436.72,338.5 437.22,337.4 437.71,337.2 438.21,337.9 438.71,333.6 439.20,335.7 439.70,337.7 440.19,337.7 440.69,337.4 441.18,337.8 441.68,338.0 442.17,334.2 442.67,335.5 443.17,337.8 443.66,339.3 444.16,338.9 444.65,338.5 445.15,339.4 445.64,336.5 446.14,338.8 446.63,338.5 447.13,339.4 447.62,339.2 448.12,339.5 448.62,339.7 449.11,337.1 449.61,337.5 450.10,338.8 450.60,339.7 451.09,338.9 451.59,339.9 452.08,340.2 452.58,337.1 453.08,339.3 453.57,340.1 454.07,340.7 454.56,340.4 455.06,340.6 455.55,340.2 456.05,339.1 456.54,339.0 457.04,340.5 457.53,340.8 458.03,341.0 458.53,340.9 459.02,340.7 459.52,339.8 460.01,338.7 460.51,341.0 461.00,341.5 461.50,341.3 461.99,341.4 462.49,341.5 462.99,339.2 463.48,340.0 463.98,341.9 464.47,342.0 464.97,341.8 465.46,342.2 465.96,342.3 466.45,341.5 466.95,341.0 467.44,342.5 467.94,342.7 468.44,342.4 468.93,342.7 469.43,342.7 469.92,341.8 470.42,341.6 470.91,342.9 471.41,343.0 471.90,343.0 472.40,343.2 472.90,343.4 473.39,343.1 473.89,342.2 474.38,343.5 474.38,344.0 473.89,344.0 473.39,344.0 472.90,343.8 472.40,343.9 471.90,343.8 471.41,343.7 470.91,343.7 470.42,343.7 469.92,343.6 469.43,343.6 468.93,343.5 468.44,343.4 467.94,343.3 467.44,343.4 466.95,343.3 466.45,343.3 465.96,343.4 465.46,343.2 464.97,343.3 464.47,343.1 463.98,343.1 463.48,343.1 462.99,342.9 462.49,343.0 461.99,342.8 461.50,342.8 461.00,342.4 460.51,343.0 460.01,342.8 459.52,342.6 459.02,342.7 458.53,343.0 458.03,342.4 457.53,342.5 457.04,342.4 456.54,342.0 456.05,342.3 455.55,342.3 455.06,342.7 454.56,342.2 454.07,342.0 453.57,342.6 453.08,342.5 452.58,341.6 452.08,342.1 451.59,342.2 451.09,341.8 450.60,341.9 450.10,341.6 449.61,341.7 449.11,341.5 448.62,341.7 448.12,341.7 447.62,341.9 447.13,341.4 446.63,341.5 446.14,341.7 445.64,341.7 445.15,341.4 444.65,341.2 444.16,341.4 443.66,341.5 443.17,341.6 442.67,340.8 442.17,340.8 441.68,340.6 441.18,341.2 440.69,340.6 440.19,341.4 439.70,341.1 439.20,340.2 438.71,340.7 438.21,341.1 437.71,340.7 437.22,340.8 436.72,340.5 436.23,340.6 435.73,340.6 435.24,340.6 434.74,340.7 434.25,340.4 433.75,339.9 433.25,340.3 432.76,340.5 432.26,340.2 431.77,339.9 431.27,339.7 430.78,339.9 430.28,340.1 429.79,340.2 429.29,339.0 428.80,339.0 428.30,338.8 427.80,338.6 427.31,338.8 426.81,337.4 426.32,337.4 425.82,336.7 425.33,337.3 424.83,337.3 424.34,335.3 423.84,334.9 423.34,334.4 422.85,334.3 422.35,336.2 421.86,334.3 421.36,333.9 420.87,333.7 420.37,334.5 419.88,332.5 419.38,333.2 418.89,331.9 418.39,332.8 417.89,331.7 417.40,330.2 416.90,328.6 416.41,329.5 415.91,328.7 415.42,327.5 414.92,328.0 414.43,325.9 413.93,325.7 413.43,322.7 412.94,325.9 412.44,322.0 411.95,324.6 411.45,326.2 410.96,324.4 410.46,324.1 409.97,321.9 409.47,322.5 408.98,320.0 408.48,321.1 407.98,319.1 407.49,318.5 406.99,316.2 406.50,314.2 406.00,314.3 405.51,312.8 405.01,310.4 404.52,309.3 404.02,310.1 403.52,310.1 403.03,313.2 402.53,307.2 402.04,302.9 401.54,305.4 401.05,307.1 400.55,306.7 400.06,306.6 399.56,303.8 399.07,301.7 398.57,301.2 398.07,297.9 397.58,297.6 397.08,296.6 396.59,298.1 396.09,292.1 395.60,291.8 395.10,298.7 394.61,292.2 394.11,291.5 393.61,291.5 393.12,289.7 392.62,287.4 392.13,283.4 391.63,291.1 391.14,294.1 390.64,295.0 390.15,287.0 389.65,285.7 389.16,283.7 388.66,290.9 388.16,286.8 387.67,286.9 387.17,290.5 386.68,289.0 386.18,289.2 385.69,294.1 385.19,285.1 384.70,297.0 384.20,289.1 383.70,293.1 383.21,290.7 382.71,296.2 382.22,294.8 381.72,296.7 381.23,297.5 380.73,300.5 380.24,297.0 379.74,294.8 379.24,293.9 378.75,299.1 378.25,302.6 377.76,298.4 377.26,297.4 376.77,300.2 376.27,301.1 375.78,302.2 375.28,303.2 374.79,304.6 374.29,303.5 373.79,304.4 373.30,307.1 372.80,305.5 372.31,309.6 371.81,307.6 371.32,309.8 370.82,310.4 370.33,309.0 369.83,312.8 369.33,310.1 368.84,312.6 368.34,313.6 367.85,308.7 367.35,312.4 366.86,313.1 366.36,311.7 365.87,313.2 365.37,311.7 364.88,315.3 364.38,313.3 363.88,316.5 363.39,317.6 362.89,314.9 362.40,313.5 361.90,319.4 361.41,315.9 360.91,314.5 360.42,313.9 359.92,317.8 359.42,316.5 358.93,315.8 358.43,316.1 357.94,316.4 357.44,317.3 356.95,322.4 356.45,321.9 355.96,317.9 355.46,321.4 354.97,322.1 354.47,322.6 353.97,323.4 353.48,323.9 352.98,324.7 352.49,323.2 351.99,324.2 351.50,328.4 351.00,325.0 350.51,324.2 350.01,329.2 349.51,328.2 349.02,329.3 348.52,330.1 348.03,332.0 347.53,331.8 347.04,332.0 346.54,330.3 346.05,333.5 345.55,335.4 345.06,335.4 344.56,336.0 344.06,336.1 343.57,336.7 343.07,336.2 342.58,339.0 342.08,337.5 341.59,338.8 341.09,340.4 340.60,338.8 340.10,339.9 339.60,340.5 339.11,340.3 338.61,342.0 338.12,341.6 337.62,343.3 337.13,342.1 336.63,342.5 336.14,342.9 335.64,343.1 335.15,343.9 334.65,343.6 334.15,344.1 333.66,343.9 333.16,344.2 332.67,344.0 332.17,344.0 331.68,344.0 331.18,344.0 330.69,343.9 330.19,343.9 329.69,344.2 329.20,344.0 328.70,344.2 328.21,344.0 327.71,344.0 327.22,344.0 326.72,344.0 326.23,343.9 325.73,344.0 325.23,343.9 324.74,344.0 324.24,344.0 323.75,344.0 323.25,344.2 322.76,344.0 322.26,344.0 321.77,344.0 321.27,344.0 320.78,344.0 320.28,344.1 319.78,344.0 319.29,344.1 318.79,344.0 318.30,344.0 317.80,344.0 317.31,344.0 316.81,344.0 316.32,344.0 315.82,344.0 315.32,344.0 314.83,344.0 314.33,343.9 313.84,344.1 313.34,344.1 312.85,344.1 312.35,344.0 311.86,344.1 311.36,343.9 310.87,343.9 310.37,344.1 309.87,344.0 309.38,344.1 308.88,344.0 308.39,344.0 307.89,343.9 307.40,343.9 306.90,344.0 306.41,344.0 305.91,344.1 305.41,344.0 304.92,344.0 304.42,343.9 303.93,344.0 303.43,343.9 302.94,344.0 302.44,344.0 301.95,344.0 301.45,344.0 300.96,344.0 300.46,343.9 299.96,344.0 299.47,344.0 298.97,344.0 298.48,344.0 297.98,344.0 297.49,344.0 296.99,344.0 296.50,344.0 296.00,344.1 295.50,344.0 295.01,344.1 294.51,344.0 294.02,344.0" fill="#E0957B" fill-opacity="0.85"/>
<path d="M294.0 343.5h0M294.5 343.5h0M295.0 343.5h0M295.5 343.5h0M296.0 343.6h0M296.5 343.4h0M297.0 343.4h0M297.5 343.5h0M298.0 343.3h0M298.5 343.4h0M299.0 343.5h0M299.5 343.4h0M300.0 343.3h0M300.5 343.5h0M301.0 343.5h0M301.5 343.5h0M301.9 343.3h0M302.4 343.2h0M302.9 343.3h0M303.4 343.3h0M303.9 343.4h0M304.4 343.4h0M304.9 343.3h0M305.4 343.6h0M305.9 343.7h0M306.4 343.6h0M306.9 343.5h0M307.4 343.5h0M307.9 343.6h0M308.4 343.6h0M308.9 343.3h0M309.4 343.4h0M309.9 343.5h0M310.4 343.2h0M310.9 343.7h0M311.4 343.4h0M311.9 343.4h0M312.4 343.5h0M312.8 343.3h0M313.3 343.4h0M313.8 343.3h0M314.3 343.5h0M314.8 343.1h0M315.3 343.4h0M315.8 343.4h0M316.3 343.4h0M316.8 343.6h0M317.3 343.4h0M317.8 343.6h0M318.3 343.3h0M318.8 343.6h0M319.3 343.4h0M319.8 343.2h0M320.3 343.8h0M320.8 343.5h0M321.3 343.5h0M321.8 343.5h0M322.3 343.5h0M322.8 343.5h0M323.3 343.6h0M323.7 343.5h0M324.2 343.4h0M324.7 343.4h0M325.2 343.3h0M325.7 343.4h0M326.2 343.5h0M326.7 343.4h0M327.2 343.4h0M327.7 343.5h0M328.2 343.4h0M328.7 343.7h0M329.2 343.6h0M329.7 343.2h0M330.2 343.6h0M330.7 343.4h0M331.2 343.5h0M331.7 343.0h0M332.2 343.5h0M332.7 343.7h0M333.2 343.4h0M333.7 342.2h0M334.2 342.3h0M334.6 342.6h0M335.1 338.1h0M335.6 341.6h0M336.1 334.9h0M336.6 338.8h0M337.1 339.8h0M337.6 335.9h0M338.1 330.0h0M338.6 326.0h0M339.1 331.3h0M339.6 330.0h0M340.1 321.8h0M340.6 331.4h0M341.1 324.6h0M341.6 323.5h0M342.1 323.3h0M342.6 340.1h0M343.1 337.1h0M343.6 327.0h0M344.1 325.8h0M344.6 331.7h0M345.1 318.0h0M345.6 321.2h0M346.0 321.5h0M346.5 327.5h0M347.0 331.9h0M347.5 326.8h0M348.0 330.8h0M348.5 304.5h0M349.0 320.8h0M349.5 335.3h0M350.0 322.4h0M350.5 335.9h0M351.0 323.4h0M351.5 322.2h0M352.0 292.5h0M352.5 289.5h0M353.0 314.4h0M353.5 307.7h0M354.0 300.3h0M354.5 315.5h0M355.0 307.0h0M355.5 284.4h0M356.0 290.6h0M356.5 305.8h0M356.9 296.5h0M357.4 293.4h0M357.9 303.6h0M358.4 297.3h0M358.9 293.4h0M359.4 272.3h0M359.9 302.3h0M360.4 292.6h0M360.9 296.2h0M361.4 299.6h0M361.9 286.6h0M362.4 278.5h0M362.9 282.4h0M363.4 303.0h0M363.9 297.7h0M364.4 301.3h0M364.9 292.2h0M365.4 300.5h0M365.9 280.5h0M366.4 285.6h0M366.9 297.5h0M367.4 297.7h0M367.8 294.0h0M368.3 308.0h0M368.8 295.3h0M369.3 286.7h0M369.8 264.5h0M370.3 298.9h0M370.8 298.0h0M371.3 301.4h0M371.8 296.4h0M372.3 299.1h0M372.8 268.7h0M373.3 270.9h0M373.8 295.5h0M374.3 308.1h0M374.8 305.3h0M375.3 298.4h0M375.8 295.3h0M376.3 269.8h0M376.8 277.8h0M377.3 306.3h0M377.8 290.4h0M378.3 274.9h0M378.7 286.0h0M379.2 277.6h0M379.7 256.9h0M380.2 271.1h0M380.7 289.2h0M381.2 285.5h0M381.7 276.9h0M382.2 283.3h0M382.7 288.1h0M383.2 270.0h0M383.7 260.8h0M384.2 286.4h0M384.7 286.3h0M385.2 286.2h0M385.7 285.8h0M386.2 277.0h0M386.7 267.4h0M387.2 264.4h0M387.7 280.6h0M388.2 283.0h0M388.7 269.5h0M389.2 281.9h0M389.7 290.1h0M390.1 267.0h0M390.6 280.5h0M391.1 298.2h0M391.6 294.5h0M392.1 294.8h0M392.6 285.6h0M393.1 293.1h0M393.6 285.0h0M394.1 288.9h0M394.6 298.8h0M395.1 301.8h0M395.6 301.9h0M396.1 306.7h0M396.6 307.4h0M397.1 290.5h0M397.6 296.0h0M398.1 312.7h0M398.6 308.8h0M399.1 313.1h0M399.6 305.2h0M400.1 307.1h0M400.6 304.2h0M401.0 302.0h0M401.5 310.1h0M402.0 321.4h0M402.5 306.7h0M403.0 323.3h0M403.5 306.0h0M404.0 305.6h0M404.5 315.1h0M405.0 313.5h0M405.5 318.8h0M406.0 320.8h0M406.5 318.5h0M407.0 327.0h0M407.5 315.4h0M408.0 322.6h0M408.5 320.2h0M409.0 322.0h0M409.5 324.7h0M410.0 338.1h0M410.5 317.6h0M411.0 322.9h0M411.5 314.5h0M411.9 331.8h0M412.4 322.2h0M412.9 324.9h0M413.4 314.4h0M413.9 328.2h0M414.4 316.2h0M414.9 316.7h0M415.4 328.0h0M415.9 325.6h0M416.4 323.9h0M416.9 328.9h0M417.4 332.6h0M417.9 324.7h0M418.4 319.3h0M418.9 326.9h0M419.4 325.5h0M419.9 330.4h0M420.4 325.3h0M420.9 324.9h0M421.4 321.7h0M421.9 329.0h0M422.4 334.3h0M422.8 321.8h0M423.3 335.1h0M423.8 330.6h0M424.3 330.9h0M424.8 319.0h0M425.3 329.6h0M425.8 328.8h0M426.3 335.8h0M426.8 337.3h0M427.3 336.3h0M427.8 334.0h0M428.3 333.9h0M428.8 335.6h0M429.3 331.1h0M429.8 337.4h0M430.3 331.3h0M430.8 339.1h0M431.3 340.1h0M431.8 328.6h0M432.3 335.7h0M432.8 332.2h0M433.3 338.1h0M433.8 335.3h0M434.2 333.2h0M434.7 336.1h0M435.2 331.0h0M435.7 330.8h0M436.2 335.8h0M436.7 337.6h0M437.2 335.5h0M437.7 341.2h0M438.2 338.5h0M438.7 339.4h0M439.2 337.5h0M439.7 342.4h0M440.2 339.2h0M440.7 342.4h0M441.2 341.5h0M441.7 342.7h0M442.2 342.5h0M442.7 342.5h0M443.2 343.5h0M443.7 343.0h0M444.2 343.0h0M444.7 343.0h0M445.1 343.0h0M445.6 343.3h0M446.1 343.4h0M446.6 343.4h0M447.1 343.4h0M447.6 343.3h0M448.1 343.4h0M448.6 343.3h0M449.1 343.6h0M449.6 343.3h0M450.1 343.6h0M450.6 343.3h0M451.1 343.5h0M451.6 343.4h0M452.1 343.5h0M452.6 343.3h0M453.1 343.7h0M453.6 343.2h0M454.1 343.4h0M454.6 343.2h0M455.1 343.4h0M455.6 343.7h0M456.0 343.2h0M456.5 343.8h0M457.0 343.4h0M457.5 343.5h0M458.0 343.4h0M458.5 343.2h0M459.0 343.4h0M459.5 343.2h0M460.0 343.5h0M460.5 343.3h0M461.0 343.4h0M461.5 343.4h0M462.0 343.4h0M462.5 343.4h0M463.0 343.8h0M463.5 343.4h0M464.0 343.6h0M464.5 343.4h0M465.0 343.5h0M465.5 343.5h0M466.0 343.8h0M466.5 343.3h0M466.9 343.6h0M467.4 343.6h0M467.9 343.4h0M468.4 343.6h0M468.9 343.5h0M469.4 343.6h0M469.9 343.7h0M470.4 343.4h0M470.9 343.3h0M471.4 343.6h0M471.9 343.4h0M472.4 343.6h0M472.9 343.6h0M473.4 343.7h0M473.9 343.7h0M474.4 343.4h0M342.0 268.0h0M344.5 284.0h0M380.0 233.0h0M387.0 239.0h0M383.0 252.5h0M378.0 326.6h0M397.0 315.6h0M435.0 326.0h0" stroke="#111" stroke-opacity="0.95" stroke-width="4.10" stroke-linecap="round" fill="none"/>
<polygon points="541.64,338.5 542.13,338.0 542.62,338.3 543.11,338.7 543.60,337.8 544.09,336.9 544.58,337.1 545.06,337.4 545.55,338.3 546.04,337.7 546.53,338.4 547.02,337.7 547.51,336.9 548.00,337.4 548.48,337.7 548.97,338.7 549.46,337.6 549.95,338.1 550.44,338.0 550.93,337.1 551.42,336.8 551.90,338.2 552.39,338.3 552.88,338.0 553.37,337.9 553.86,337.6 554.35,337.2 554.84,337.5 555.33,337.8 555.81,337.8 556.30,338.4 556.79,337.7 557.28,338.4 557.77,337.0 558.26,337.2 558.75,337.9 559.23,338.0 559.72,338.2 560.21,338.1 560.70,338.4 561.19,337.0 561.68,336.7 562.17,337.7 562.65,338.0 563.14,338.0 563.63,338.3 564.12,337.8 564.61,336.7 565.10,336.9 565.59,338.2 566.08,338.2 566.56,338.5 567.05,338.5 567.54,337.7 568.03,337.2 568.52,336.7 569.01,337.9 569.50,337.5 569.98,338.2 570.47,337.3 570.96,337.8 571.45,337.3 571.94,337.1 572.43,337.9 572.92,338.1 573.40,337.3 573.89,337.9 574.38,337.6 574.87,337.2 575.36,337.9 575.85,337.5 576.34,337.7 576.83,338.2 577.31,337.9 577.80,338.2 578.29,336.9 578.78,335.8 579.27,337.1 579.76,337.0 580.25,336.6 580.73,337.0 581.22,335.5 581.71,332.2 582.20,331.9 582.69,335.8 583.18,334.6 583.67,333.6 584.15,332.5 584.64,332.8 585.13,327.5 585.62,326.5 586.11,333.0 586.60,331.3 587.09,330.2 587.58,329.0 588.06,328.3 588.55,321.2 589.04,321.7 589.53,325.6 590.02,326.3 590.51,325.2 591.00,324.8 591.48,325.4 591.97,318.2 592.46,315.6 592.95,323.3 593.44,323.8 593.93,324.0 594.42,321.6 594.90,320.0 595.39,307.6 595.88,305.4 596.37,314.2 596.86,317.5 597.35,315.6 597.84,314.1 598.33,316.7 598.81,296.2 599.30,296.6 599.79,314.8 600.28,307.3 600.77,308.7 601.26,309.2 601.75,313.1 602.23,288.4 602.72,285.1 603.21,309.4 603.70,316.7 604.19,309.8 604.68,304.8 605.17,311.5 605.65,281.2 606.14,278.5 606.63,308.6 607.12,299.9 607.61,303.1 608.10,298.7 608.59,298.0 609.08,278.0 609.56,290.5 610.05,298.7 610.54,301.3 611.03,309.3 611.52,301.2 612.01,300.3 612.50,288.9 612.98,290.5 613.47,304.7 613.96,296.9 614.45,299.4 614.94,305.0 615.43,301.3 615.92,294.0 616.40,295.9 616.89,300.7 617.38,298.8 617.87,301.7 618.36,296.9 618.85,300.4 619.34,292.4 619.83,293.2 620.31,300.7 620.80,294.6 621.29,296.9 621.78,299.4 622.27,291.2 622.76,283.8 623.25,291.3 623.73,291.3 624.22,292.9 624.71,294.0 625.20,288.0 625.69,286.2 626.18,276.4 626.67,273.2 627.15,283.9 627.64,272.1 628.13,278.6 628.62,276.2 629.11,271.2 629.60,261.7 630.09,268.9 630.57,272.5 631.06,271.8 631.55,280.2 632.04,276.9 632.53,279.3 633.02,265.2 633.51,265.3 634.00,265.8 634.48,267.4 634.97,266.9 635.46,263.7 635.95,272.6 636.44,273.1 636.93,265.4 637.42,264.0 637.90,270.2 638.39,269.4 638.88,274.6 639.37,274.7 639.86,270.6 640.35,268.6 640.84,262.3 641.33,273.0 641.81,274.4 642.30,277.0 642.79,272.6 643.28,277.0 643.77,279.8 644.26,282.3 644.75,281.2 645.23,283.4 645.72,282.7 646.21,284.1 646.70,283.5 647.19,279.0 647.68,289.5 648.17,287.8 648.65,291.3 649.14,287.4 649.63,297.3 650.12,290.3 650.61,290.3 651.10,295.7 651.59,293.4 652.07,298.9 652.56,297.4 653.05,297.2 653.54,295.4 654.03,294.8 654.52,301.2 655.01,303.4 655.50,304.2 655.98,300.3 656.47,305.1 656.96,301.4 657.45,302.8 657.94,305.1 658.43,306.7 658.92,309.0 659.40,311.2 659.89,311.8 660.38,307.2 660.87,310.8 661.36,317.2 661.85,314.9 662.34,316.6 662.83,320.1 663.31,320.5 663.80,313.9 664.29,315.6 664.78,322.9 665.27,322.0 665.76,324.5 666.25,323.4 666.73,324.7 667.22,323.6 667.71,323.4 668.20,328.4 668.69,327.9 669.18,327.8 669.67,329.5 670.15,329.9 670.64,328.2 671.13,328.7 671.62,329.9 672.11,331.5 672.60,331.9 673.09,331.6 673.58,332.2 674.06,331.0 674.55,330.1 675.04,333.5 675.53,332.9 676.02,333.5 676.51,333.9 677.00,334.4 677.48,332.2 677.97,332.6 678.46,334.6 678.95,335.8 679.44,335.8 679.93,335.6 680.42,336.0 680.90,333.7 681.39,334.2 681.88,336.0 682.37,337.1 682.86,336.6 683.35,336.1 683.84,335.8 684.33,333.5 684.81,334.3 685.30,336.3 685.79,335.9 686.28,336.9 686.77,336.1 687.26,336.1 687.75,334.4 688.23,334.5 688.72,336.8 689.21,335.7 689.70,336.3 690.19,335.5 690.68,336.9 691.17,334.0 691.65,335.2 692.14,336.6 692.63,336.0 693.12,335.9 693.61,336.2 694.10,335.7 694.59,334.3 695.08,335.6 695.56,335.8 696.05,335.6 696.54,336.3 697.03,336.3 697.52,336.3 698.01,334.5 698.50,335.3 698.98,336.8 699.47,336.9 699.96,336.7 700.45,336.3 700.94,336.4 701.43,336.1 701.92,335.6 702.40,337.2 702.89,337.6 703.38,337.1 703.87,336.4 704.36,335.8 704.85,335.5 705.34,335.0 705.83,336.6 706.31,337.5 706.80,336.5 707.29,336.5 707.78,336.8 708.27,335.3 708.76,335.3 709.25,336.7 709.73,336.1 710.22,337.2 710.71,336.2 711.20,336.6 711.69,335.7 712.18,335.6 712.67,337.3 713.15,336.7 713.64,336.5 714.13,336.2 714.62,336.8 715.11,336.9 715.60,335.7 716.09,338.3 716.57,337.3 717.06,337.6 717.55,336.6 718.04,337.0 718.53,336.3 719.02,336.6 719.51,337.3 719.51,340.2 719.02,339.8 718.53,340.2 718.04,340.0 717.55,339.6 717.06,340.0 716.57,339.9 716.09,339.8 715.60,340.3 715.11,340.4 714.62,340.1 714.13,339.8 713.64,339.9 713.15,340.2 712.67,340.0 712.18,340.3 711.69,339.7 711.20,339.5 710.71,339.5 710.22,339.4 709.73,339.8 709.25,339.7 708.76,339.7 708.27,339.5 707.78,339.2 707.29,339.6 706.80,339.9 706.31,339.7 705.83,339.2 705.34,339.6 704.85,339.4 704.36,339.9 703.87,339.2 703.38,339.6 702.89,340.0 702.40,339.7 701.92,339.6 701.43,339.4 700.94,339.7 700.45,339.5 699.96,339.3 699.47,339.1 698.98,339.5 698.50,339.7 698.01,339.7 697.52,339.5 697.03,339.7 696.54,339.4 696.05,339.9 695.56,339.3 695.08,339.1 694.59,339.3 694.10,339.3 693.61,339.5 693.12,339.2 692.63,339.5 692.14,339.3 691.65,339.3 691.17,339.7 690.68,338.9 690.19,339.1 689.70,339.2 689.21,339.3 688.72,339.2 688.23,339.1 687.75,339.3 687.26,339.3 686.77,339.3 686.28,339.0 685.79,339.3 685.30,339.0 684.81,339.0 684.33,339.3 683.84,339.0 683.35,338.9 682.86,339.6 682.37,339.1 681.88,338.7 681.39,338.7 680.90,338.7 680.42,339.2 679.93,338.3 679.44,338.6 678.95,338.6 678.46,338.4 677.97,337.7 677.48,337.5 677.00,337.2 676.51,337.4 676.02,336.4 675.53,336.7 675.04,336.6 674.55,336.9 674.06,336.2 673.58,335.9 673.09,335.2 672.60,335.1 672.11,334.9 671.62,334.3 671.13,334.6 670.64,334.2 670.15,334.8 669.67,333.7 669.18,333.2 668.69,333.0 668.20,332.6 667.71,332.2 667.22,331.0 666.73,331.4 666.25,330.5 665.76,330.3 665.27,330.4 664.78,329.0 664.29,330.7 663.80,328.4 663.31,327.3 662.83,328.1 662.34,327.9 661.85,325.9 661.36,324.5 660.87,323.5 660.38,324.6 659.89,322.2 659.40,322.4 658.92,322.0 658.43,320.8 657.94,322.3 657.45,319.3 656.96,319.5 656.47,319.5 655.98,321.5 655.50,320.0 655.01,317.7 654.52,315.9 654.03,316.8 653.54,313.8 653.05,316.3 652.56,315.8 652.07,315.8 651.59,316.7 651.10,310.0 650.61,310.7 650.12,313.2 649.63,312.6 649.14,310.4 648.65,306.9 648.17,306.7 647.68,308.9 647.19,309.7 646.70,312.3 646.21,305.6 645.72,308.2 645.23,307.2 644.75,309.3 644.26,302.1 643.77,305.1 643.28,305.3 642.79,302.7 642.30,300.9 641.81,301.1 641.33,301.8 640.84,300.6 640.35,300.9 639.86,300.1 639.37,302.9 638.88,296.6 638.39,301.1 637.90,304.6 637.42,298.7 636.93,302.5 636.44,299.8 635.95,300.3 635.46,299.4 634.97,302.5 634.48,297.7 634.00,299.5 633.51,303.7 633.02,304.7 632.53,301.7 632.04,299.5 631.55,301.1 631.06,304.0 630.57,306.1 630.09,305.0 629.60,303.0 629.11,304.2 628.62,304.4 628.13,307.0 627.64,303.9 627.15,308.5 626.67,308.9 626.18,308.4 625.69,314.0 625.20,310.9 624.71,309.3 624.22,312.3 623.73,311.6 623.25,313.7 622.76,312.9 622.27,309.5 621.78,309.4 621.29,311.8 620.80,313.2 620.31,313.3 619.83,316.3 619.34,317.8 618.85,314.7 618.36,318.2 617.87,316.4 617.38,315.0 616.89,314.5 616.40,319.7 615.92,315.8 615.43,317.5 614.94,319.5 614.45,321.2 613.96,315.7 613.47,320.3 612.98,318.0 612.50,320.2 612.01,320.5 611.52,320.7 611.03,322.5 610.54,319.1 610.05,319.1 609.56,323.3 609.08,323.8 608.59,323.7 608.10,324.2 607.61,325.3 607.12,324.1 606.63,323.7 606.14,326.4 605.65,327.4 605.17,324.4 604.68,324.9 604.19,328.2 603.70,327.7 603.21,328.2 602.72,329.6 602.23,325.1 601.75,329.2 601.26,333.5 600.77,330.9 600.28,332.1 599.79,328.8 599.30,330.7 598.81,328.7 598.33,329.2 597.84,332.5 597.35,331.1 596.86,331.0 596.37,334.1 595.88,331.6 595.39,331.4 594.90,333.2 594.42,335.6 593.93,333.1 593.44,333.6 592.95,334.9 592.46,335.0 591.97,336.3 591.48,334.5 591.00,336.7 590.51,337.2 590.02,335.2 589.53,336.7 589.04,337.6 588.55,336.6 588.06,337.2 587.58,336.5 587.09,336.5 586.60,337.8 586.11,338.1 585.62,337.5 585.13,337.6 584.64,338.3 584.15,338.1 583.67,338.2 583.18,338.5 582.69,338.7 582.20,339.4 581.71,339.2 581.22,338.8 580.73,339.4 580.25,338.8 579.76,339.8 579.27,339.9 578.78,339.7 578.29,339.5 577.80,340.2 577.31,340.0 576.83,339.7 576.34,339.9 575.85,340.2 575.36,339.9 574.87,340.1 574.38,339.8 573.89,340.0 573.40,340.1 572.92,339.9 572.43,339.8 571.94,340.0 571.45,340.2 570.96,340.0 570.47,339.8 569.98,339.5 569.50,340.1 569.01,339.9 568.52,340.2 568.03,340.1 567.54,340.2 567.05,340.1 566.56,340.0 566.08,340.0 565.59,340.3 565.10,340.2 564.61,339.9 564.12,339.9 563.63,339.9 563.14,339.9 562.65,339.7 562.17,340.2 561.68,339.9 561.19,340.1 560.70,339.4 560.21,340.2 559.72,340.1 559.23,340.1 558.75,340.1 558.26,340.0 557.77,340.1 557.28,340.0 556.79,340.0 556.30,340.1 555.81,339.8 555.33,340.1 554.84,340.0 554.35,340.0 553.86,340.0 553.37,340.1 552.88,340.1 552.39,340.3 551.90,340.0 551.42,339.7 550.93,340.0 550.44,339.9 549.95,340.0 549.46,340.2 548.97,339.4 548.48,340.0 548.00,339.9 547.51,340.0 547.02,340.4 546.53,340.0 546.04,340.1 545.55,339.9 545.06,340.1 544.58,339.7 544.09,340.1 543.60,340.2 543.11,340.1 542.62,340.4 542.13,339.6 541.64,340.1" fill="#E0957B" fill-opacity="0.95"/>
<path d="M541.50 216.4V339.0" stroke="#E0957B" stroke-width="0.9" stroke-opacity="0.95"/>
<path d="M541.6 336.3h0M542.1 337.8h0M542.6 340.3h0M543.1 338.7h0M543.6 339.5h0M544.1 339.7h0M544.6 340.0h0M545.6 339.8h0M550.0 339.7h0M552.4 339.8h0M552.9 339.8h0M558.7 339.8h0M574.4 339.9h0M574.9 340.1h0M575.8 339.1h0M576.3 339.1h0M576.8 340.3h0M577.3 337.5h0M577.8 339.2h0M578.8 333.3h0M579.8 334.7h0M580.7 331.8h0M581.7 333.0h0M582.2 335.7h0M582.7 327.6h0M583.2 338.7h0M583.7 337.3h0M584.6 337.7h0M585.1 332.0h0M585.6 333.2h0M586.1 333.6h0M586.6 329.6h0M587.1 333.5h0M587.6 331.0h0M588.1 332.6h0M588.6 328.9h0M589.0 338.1h0M589.5 336.9h0M590.0 333.0h0M590.5 335.5h0M591.0 323.3h0M591.5 335.0h0M592.0 330.6h0M592.5 334.6h0M593.0 332.1h0M593.4 329.3h0M593.9 323.8h0M594.4 325.6h0M595.4 321.9h0M595.9 330.5h0M596.4 327.6h0M596.9 317.9h0M597.3 321.1h0M597.8 322.9h0M598.3 331.3h0M598.8 333.5h0M599.3 322.5h0M599.8 328.3h0M600.3 319.8h0M600.8 326.9h0M601.7 319.6h0M602.2 324.7h0M603.2 319.0h0M603.7 309.4h0M604.2 325.7h0M604.7 327.1h0M605.2 317.9h0M605.7 328.6h0M606.1 321.1h0M606.6 313.8h0M607.1 327.4h0M607.6 328.5h0M608.1 328.9h0M608.6 329.8h0M609.6 320.8h0M610.1 325.8h0M610.5 324.1h0M611.0 312.7h0M611.5 320.4h0M612.5 319.5h0M613.0 316.2h0M613.5 307.4h0M614.0 308.5h0M614.5 311.5h0M615.9 309.4h0M616.4 310.7h0M616.9 314.8h0M617.4 293.7h0M617.9 313.3h0M618.4 309.4h0M618.8 304.8h0M619.3 316.5h0M619.8 320.5h0M620.3 307.8h0M620.8 316.6h0M621.3 309.7h0M621.8 307.1h0M622.3 308.9h0M622.8 310.7h0M623.2 300.8h0M623.7 319.0h0M624.2 308.0h0M624.7 306.0h0M625.2 312.3h0M625.7 308.5h0M626.2 308.1h0M626.7 307.5h0M627.2 308.3h0M627.6 312.3h0M628.1 306.5h0M628.6 308.1h0M629.1 292.8h0M629.6 301.8h0M630.6 300.6h0M631.1 299.6h0M631.6 301.7h0M632.0 303.4h0M632.5 300.9h0M633.5 304.1h0M634.0 303.4h0M634.5 296.9h0M635.0 305.4h0M635.5 298.1h0M636.0 310.0h0M636.4 298.5h0M636.9 292.0h0M637.4 310.2h0M637.9 304.3h0M638.4 310.8h0M638.9 301.7h0M639.4 313.7h0M639.9 312.9h0M640.3 304.9h0M640.8 316.3h0M641.3 305.0h0M641.8 298.9h0M642.3 308.6h0M642.8 307.9h0M643.3 311.6h0M643.8 307.7h0M644.7 308.3h0M645.2 319.3h0M645.7 325.7h0M646.2 309.8h0M646.7 319.9h0M647.2 311.9h0M647.7 312.8h0M648.2 310.5h0M648.7 320.1h0M649.1 320.4h0M649.6 325.9h0M650.1 298.6h0M650.6 316.5h0M651.1 322.8h0M651.6 314.9h0M652.1 340.3h0M653.1 323.9h0M653.5 324.4h0M654.0 318.8h0M654.5 320.6h0M655.0 331.2h0M655.5 326.0h0M656.0 319.7h0M656.5 332.4h0M657.0 333.1h0M657.5 327.2h0M657.9 314.2h0M658.4 328.0h0M658.9 316.6h0M659.4 317.4h0M659.9 334.7h0M660.4 321.6h0M660.9 323.0h0M661.4 328.1h0M661.8 331.6h0M662.3 340.3h0M662.8 329.9h0M663.3 326.4h0M663.8 323.1h0M664.3 329.2h0M665.3 336.5h0M665.8 326.8h0M666.7 339.6h0M667.7 330.3h0M668.2 329.6h0M668.7 327.9h0M669.2 334.6h0M669.7 336.4h0M670.2 332.8h0M670.6 336.6h0M671.1 334.6h0M672.1 333.6h0M673.1 339.9h0M673.6 336.5h0M674.1 334.6h0M674.6 337.6h0M675.0 339.3h0M675.5 337.9h0M676.0 340.2h0M676.5 338.5h0M677.0 337.7h0M677.5 338.8h0M678.0 338.7h0M678.5 338.8h0M679.0 339.2h0M679.4 339.9h0M679.9 338.9h0M680.4 339.4h0M680.9 339.4h0M681.4 339.2h0M681.9 339.6h0M682.4 339.7h0M682.9 339.5h0M684.3 339.7h0M684.8 340.3h0M685.3 339.6h0M685.8 339.4h0M686.3 339.3h0M687.7 339.6h0M688.2 340.1h0M688.7 339.5h0M689.7 339.6h0M690.2 339.0h0M690.7 340.0h0M691.7 339.6h0M692.1 339.9h0M692.6 339.9h0M693.1 340.0h0M693.6 339.8h0M694.1 339.6h0M694.6 340.2h0M695.1 340.3h0M695.6 339.7h0M696.1 340.0h0M696.5 339.6h0M697.0 339.5h0M697.5 339.9h0M698.0 339.5h0M698.5 339.7h0M699.0 340.0h0M699.5 340.0h0M700.0 339.4h0M700.5 339.9h0M701.4 339.6h0M702.4 339.3h0M702.9 339.9h0M704.4 340.2h0M704.8 339.7h0M705.8 339.8h0M706.3 339.6h0M706.8 339.4h0M708.8 339.5h0M710.2 339.5h0M710.7 339.7h0M712.2 340.1h0M713.6 339.7h0M714.6 339.9h0M715.1 339.7h0M716.1 339.6h0M716.6 339.9h0M719.0 339.5h0M553.0 316.0h0M563.5 328.0h0M568.0 334.0h0M633.0 283.0h0M659.6 265.7h0M658.0 290.0h0M661.0 293.0h0M662.0 296.5h0M658.0 301.0h0M655.0 305.0h0M668.0 315.0h0M687.5 316.0h0M700.0 328.0h0M716.5 340.0h0M718.5 340.0h0" stroke="#111" stroke-opacity="0.95" stroke-width="4.10" stroke-linecap="round" fill="none"/>
<polygon points="48.52,532.8 49.02,533.2 49.51,534.0 50.01,533.6 50.51,534.6 51.00,532.4 51.50,532.3 51.99,531.5 52.49,533.6 52.98,533.7 53.48,531.9 53.98,533.0 54.47,531.8 54.97,531.7 55.46,533.0 55.96,533.4 56.45,532.4 56.95,533.1 57.45,532.7 57.94,532.5 58.44,531.6 58.93,532.1 59.43,532.8 59.93,531.4 60.42,532.3 60.92,532.7 61.41,531.3 61.91,531.5 62.40,531.9 62.90,534.7 63.40,534.0 63.89,533.4 64.39,533.6 64.88,531.8 65.38,532.4 65.87,533.5 66.37,534.0 66.87,533.6 67.36,532.8 67.86,533.6 68.35,531.3 68.85,530.5 69.34,532.0 69.84,533.1 70.34,533.4 70.83,533.5 71.33,533.6 71.82,532.0 72.32,530.4 72.81,533.7 73.31,533.5 73.81,531.9 74.30,533.1 74.80,533.5 75.29,530.4 75.79,531.4 76.28,532.7 76.78,532.9 77.28,532.7 77.77,532.2 78.27,532.4 78.76,530.4 79.26,530.9 79.76,532.7 80.25,533.1 80.75,533.3 81.24,531.9 81.74,533.1 82.23,530.5 82.73,530.0 83.23,532.4 83.72,533.2 84.22,533.5 84.71,533.6 85.21,532.7 85.70,530.6 86.20,529.8 86.70,532.0 87.19,533.0 87.69,532.3 88.18,533.2 88.68,532.8 89.17,530.4 89.67,530.8 90.17,531.4 90.66,533.8 91.16,532.9 91.65,533.7 92.15,534.1 92.64,530.0 93.14,529.9 93.64,532.5 94.13,533.6 94.63,532.6 95.12,532.5 95.62,532.1 96.12,526.6 96.61,526.9 97.11,529.5 97.60,529.0 98.10,527.2 98.59,526.0 99.09,528.4 99.59,518.8 100.08,518.3 100.58,524.4 101.07,525.5 101.57,524.3 102.06,518.2 102.56,520.8 103.06,510.3 103.55,509.2 104.05,517.2 104.54,517.4 105.04,511.5 105.53,510.9 106.03,514.4 106.53,500.0 107.02,503.4 107.52,508.8 108.01,510.3 108.51,514.3 109.00,505.1 109.50,511.9 110.00,500.0 110.49,480.7 110.99,494.1 111.48,503.7 111.98,484.3 112.48,477.9 112.97,490.8 113.47,448.9 113.96,445.9 114.46,479.3 114.95,469.0 115.45,466.9 115.95,476.4 116.44,491.4 116.94,444.2 117.43,436.2 117.93,465.5 118.42,476.6 118.92,462.9 119.42,478.8 119.91,464.0 120.41,454.4 120.90,433.3 121.40,470.9 121.89,472.8 122.39,459.6 122.89,465.1 123.38,474.8 123.88,463.6 124.37,450.7 124.87,460.5 125.36,478.1 125.86,454.6 126.36,476.5 126.85,469.8 127.35,442.6 127.84,457.6 128.34,475.8 128.83,459.7 129.33,483.3 129.83,475.3 130.32,466.2 130.82,452.6 131.31,447.9 131.81,474.5 132.31,459.1 132.80,485.3 133.30,478.0 133.79,489.4 134.29,458.1 134.78,466.7 135.28,462.2 135.78,469.9 136.27,472.8 136.77,486.8 137.26,488.5 137.76,458.5 138.25,464.6 138.75,480.2 139.25,483.2 139.74,484.0 140.24,492.8 140.73,486.2 141.23,476.6 141.72,481.5 142.22,484.6 142.72,474.8 143.21,495.7 143.71,489.3 144.20,491.9 144.70,479.0 145.19,488.9 145.69,483.4 146.19,496.2 146.68,509.2 147.18,495.3 147.67,492.0 148.17,487.3 148.67,483.4 149.16,494.0 149.66,492.3 150.15,497.8 150.65,506.9 151.14,498.4 151.64,491.3 152.14,496.0 152.63,501.3 153.13,502.1 153.62,503.0 154.12,508.0 154.61,507.6 155.11,497.7 155.61,491.4 156.10,501.0 156.60,507.1 157.09,502.9 157.59,504.8 158.08,508.5 158.58,513.5 159.08,500.3 159.57,506.7 160.07,514.8 160.56,510.2 161.06,512.1 161.55,504.4 162.05,505.7 162.55,514.4 163.04,506.2 163.54,506.1 164.03,514.5 164.53,515.5 165.02,515.5 165.52,514.9 166.02,511.9 166.51,523.0 167.01,514.3 167.50,519.2 168.00,517.1 168.50,512.2 168.99,513.4 169.49,516.4 169.98,519.2 170.48,518.9 170.97,520.4 171.47,518.5 171.97,519.7 172.46,515.4 172.96,514.7 173.45,517.3 173.95,520.7 174.44,519.8 174.94,526.4 175.44,523.8 175.93,516.7 176.43,516.3 176.92,520.4 177.42,521.3 177.91,521.7 178.41,524.8 178.91,525.6 179.40,519.6 179.90,520.2 180.39,521.6 180.89,528.1 181.38,524.9 181.88,524.4 182.38,523.3 182.87,525.7 183.37,521.1 183.86,524.0 184.36,521.9 184.86,528.6 185.35,524.8 185.85,525.5 186.34,524.5 186.84,524.5 187.33,524.8 187.83,525.6 188.33,522.6 188.82,526.6 189.32,527.2 189.81,525.0 190.31,525.7 190.80,527.1 191.30,528.4 191.80,528.4 192.29,524.1 192.79,528.7 193.28,526.2 193.78,524.7 194.27,527.7 194.77,527.1 195.27,528.5 195.76,528.0 196.26,529.2 196.75,525.4 197.25,527.8 197.74,528.2 198.24,527.3 198.74,528.5 199.23,531.8 199.73,531.2 200.22,527.2 200.72,526.7 201.22,531.5 201.71,529.4 202.21,529.3 202.70,529.0 203.20,528.5 203.69,527.2 204.19,529.7 204.69,530.2 205.18,530.8 205.68,529.0 206.17,530.1 206.67,531.8 207.16,530.2 207.66,529.7 208.16,528.7 208.65,529.0 209.15,531.4 209.64,530.0 210.14,532.9 210.63,527.8 211.13,529.2 211.63,532.4 212.12,529.9 212.62,530.9 213.11,531.0 213.61,529.3 214.10,529.3 214.60,528.5 215.10,532.0 215.59,530.8 216.09,532.4 216.58,530.0 217.08,531.1 217.57,528.2 218.07,529.8 218.57,529.5 219.06,532.0 219.56,530.1 220.05,530.7 220.55,531.0 221.05,529.2 221.54,530.1 222.04,531.5 222.53,533.1 223.03,531.8 223.52,530.5 224.02,530.1 224.52,529.8 225.01,530.3 225.51,530.5 226.00,530.1 226.50,531.2 226.99,531.5 227.49,532.4 227.99,529.5 228.48,529.9 228.98,532.8 228.98,536.2 228.48,535.6 227.99,536.0 227.49,535.8 226.99,536.5 226.50,536.5 226.00,535.8 225.51,536.4 225.01,535.1 224.52,535.9 224.02,535.5 223.52,536.0 223.03,535.6 222.53,536.2 222.04,536.0 221.54,535.7 221.05,536.5 220.55,535.3 220.05,535.9 219.56,535.2 219.06,536.6 218.57,536.4 218.07,535.9 217.57,535.7 217.08,535.0 216.58,534.8 216.09,535.9 215.59,535.1 215.10,536.3 214.60,535.0 214.10,535.5 213.61,535.7 213.11,535.9 212.62,536.1 212.12,536.2 211.63,535.8 211.13,535.7 210.63,535.3 210.14,535.6 209.64,535.6 209.15,534.2 208.65,534.4 208.16,535.4 207.66,534.5 207.16,535.8 206.67,534.8 206.17,536.2 205.68,535.2 205.18,535.0 204.69,534.8 204.19,534.4 203.69,536.1 203.20,534.4 202.70,535.9 202.21,536.5 201.71,534.2 201.22,535.1 200.72,534.6 200.22,534.3 199.73,534.9 199.23,534.9 198.74,536.6 198.24,535.0 197.74,535.4 197.25,534.2 196.75,535.2 196.26,534.9 195.76,533.0 195.27,533.9 194.77,533.9 194.27,534.6 193.78,535.4 193.28,534.1 192.79,535.0 192.29,532.7 191.80,532.8 191.30,533.6 190.80,533.4 190.31,532.7 189.81,533.7 189.32,532.7 188.82,532.7 188.33,533.0 187.83,534.9 187.33,533.8 186.84,531.9 186.34,534.7 185.85,533.0 185.35,533.1 184.86,533.3 184.36,534.5 183.86,532.5 183.37,531.4 182.87,533.2 182.38,534.4 181.88,534.6 181.38,533.9 180.89,533.1 180.39,533.2 179.90,532.3 179.40,532.3 178.91,531.7 178.41,530.7 177.91,532.2 177.42,532.1 176.92,535.3 176.43,532.5 175.93,531.1 175.44,532.9 174.94,531.5 174.44,533.7 173.95,533.2 173.45,529.6 172.96,531.1 172.46,532.6 171.97,528.7 171.47,528.0 170.97,529.2 170.48,529.5 169.98,529.5 169.49,530.5 168.99,530.6 168.50,529.5 168.00,527.1 167.50,530.8 167.01,525.5 166.51,528.8 166.02,529.9 165.52,528.5 165.02,531.4 164.53,527.5 164.03,531.1 163.54,524.3 163.04,528.0 162.55,526.8 162.05,525.5 161.55,530.3 161.06,522.9 160.56,525.2 160.07,524.5 159.57,524.6 159.08,524.5 158.58,523.3 158.08,522.5 157.59,526.7 157.09,526.7 156.60,525.2 156.10,524.2 155.61,526.4 155.11,523.7 154.61,520.5 154.12,525.2 153.62,522.2 153.13,516.8 152.63,523.0 152.14,519.3 151.64,524.0 151.14,523.0 150.65,520.8 150.15,519.8 149.66,517.5 149.16,514.7 148.67,521.5 148.17,519.4 147.67,519.7 147.18,524.0 146.68,516.0 146.19,517.0 145.69,512.3 145.19,515.3 144.70,525.4 144.20,514.8 143.71,517.7 143.21,520.9 142.72,525.0 142.22,515.4 141.72,517.3 141.23,520.9 140.73,513.5 140.24,520.9 139.74,514.8 139.25,514.5 138.75,512.1 138.25,515.5 137.76,508.1 137.26,517.6 136.77,510.9 136.27,508.0 135.78,515.8 135.28,511.5 134.78,511.9 134.29,509.4 133.79,514.3 133.30,512.1 132.80,505.8 132.31,510.5 131.81,520.0 131.31,509.1 130.82,512.7 130.32,508.6 129.83,513.7 129.33,509.3 128.83,507.0 128.34,505.3 127.84,508.7 127.35,512.0 126.85,507.0 126.36,501.7 125.86,503.9 125.36,510.1 124.87,505.2 124.37,515.8 123.88,505.1 123.38,513.7 122.89,511.2 122.39,504.5 121.89,501.9 121.40,504.8 120.90,506.6 120.41,502.9 119.91,513.9 119.42,502.5 118.92,514.3 118.42,510.3 117.93,513.8 117.43,509.3 116.94,512.1 116.44,509.2 115.95,513.2 115.45,522.3 114.95,507.0 114.46,514.9 113.96,505.8 113.47,513.1 112.97,514.9 112.48,514.5 111.98,515.7 111.48,513.5 110.99,525.0 110.49,523.6 110.00,525.8 109.50,524.2 109.00,528.8 108.51,528.2 108.01,528.1 107.52,528.6 107.02,526.1 106.53,533.4 106.03,527.7 105.53,530.8 105.04,533.0 104.54,532.7 104.05,531.0 103.55,531.5 103.06,529.5 102.56,533.1 102.06,532.5 101.57,534.0 101.07,533.4 100.58,532.9 100.08,534.8 99.59,535.7 99.09,535.4 98.59,535.3 98.10,534.5 97.60,533.7 97.11,535.8 96.61,535.3 96.12,535.8 95.62,536.2 95.12,535.8 94.63,535.5 94.13,536.1 93.64,536.0 93.14,536.4 92.64,536.0 92.15,535.6 91.65,536.2 91.16,535.9 90.66,536.3 90.17,536.3 89.67,536.3 89.17,535.5 88.68,535.9 88.18,536.4 87.69,535.8 87.19,536.0 86.70,536.2 86.20,536.3 85.70,536.0 85.21,536.5 84.71,535.8 84.22,536.1 83.72,536.3 83.23,535.6 82.73,535.7 82.23,537.2 81.74,535.5 81.24,536.0 80.75,537.0 80.25,536.0 79.76,535.5 79.26,535.8 78.76,536.2 78.27,536.3 77.77,536.3 77.28,536.2 76.78,535.3 76.28,535.6 75.79,535.8 75.29,535.9 74.80,536.0 74.30,535.9 73.81,536.9 73.31,535.5 72.81,536.1 72.32,535.5 71.82,535.9 71.33,536.0 70.83,535.6 70.34,535.6 69.84,536.6 69.34,536.0 68.85,536.2 68.35,536.5 67.86,535.9 67.36,535.9 66.87,536.1 66.37,537.0 65.87,536.4 65.38,535.7 64.88,536.2 64.39,535.3 63.89,535.6 63.40,535.9 62.90,536.2 62.40,536.4 61.91,535.6 61.41,536.5 60.92,535.9 60.42,536.7 59.93,536.4 59.43,536.1 58.93,535.9 58.44,536.9 57.94,536.0 57.45,536.7 56.95,535.9 56.45,535.8 55.96,535.7 55.46,536.1 54.97,535.8 54.47,536.3 53.98,535.9 53.48,535.7 52.98,535.8 52.49,535.9 51.99,536.0 51.50,535.6 51.00,535.4 50.51,535.9 50.01,535.9 49.51,536.2 49.02,535.6 48.52,535.8" fill="#E0957B" fill-opacity="0.8"/>
<path d="M48.75 463.6V530.0" stroke="#E0957B" stroke-width="0.8" stroke-opacity="0.8"/>
<path d="M48.5 536.0h0M49.0 533.4h0M49.5 535.6h0M50.0 536.0h0M50.5 534.5h0M51.0 533.9h0M51.5 532.1h0M52.0 533.4h0M52.5 532.5h0M53.0 533.4h0M53.5 534.4h0M54.0 535.1h0M54.5 535.6h0M55.0 533.9h0M55.5 532.6h0M56.0 530.9h0M56.5 532.6h0M57.0 533.3h0M57.4 533.7h0M57.9 536.0h0M58.4 534.5h0M58.9 533.8h0M59.4 533.0h0M59.9 531.6h0M60.4 534.4h0M60.9 532.0h0M61.4 532.8h0M61.9 531.8h0M62.4 531.6h0M62.9 533.4h0M63.4 533.9h0M63.9 534.2h0M64.4 534.5h0M64.9 533.8h0M65.4 533.7h0M65.9 532.8h0M66.4 534.6h0M66.9 530.3h0M67.4 536.0h0M67.9 534.8h0M68.4 536.0h0M68.8 534.8h0M69.3 530.5h0M69.8 535.9h0M70.3 534.9h0M70.8 532.0h0M71.3 533.8h0M71.8 533.5h0M72.3 532.2h0M72.8 533.1h0M73.3 535.2h0M73.8 533.9h0M74.3 534.3h0M74.8 532.1h0M75.3 531.7h0M75.8 533.1h0M76.3 531.6h0M76.8 536.0h0M77.3 536.0h0M77.8 534.8h0M78.3 532.3h0M78.8 530.7h0M79.3 532.8h0M79.8 534.9h0M80.3 534.8h0M80.7 533.6h0M81.2 533.6h0M81.7 534.0h0M82.2 536.0h0M82.7 532.9h0M83.2 533.5h0M83.7 532.8h0M84.2 531.9h0M84.7 531.5h0M85.2 534.4h0M85.7 535.5h0M86.2 532.7h0M86.7 533.0h0M87.2 534.9h0M87.7 533.9h0M88.2 534.2h0M88.7 534.4h0M89.2 534.7h0M89.7 532.1h0M90.2 534.9h0M90.7 532.7h0M91.2 531.4h0M91.7 533.1h0M92.1 531.3h0M92.6 534.6h0M93.1 530.6h0M93.6 529.1h0M94.1 533.5h0M94.6 535.2h0M95.1 532.8h0M95.6 534.1h0M96.1 529.8h0M96.6 532.7h0M97.1 528.5h0M97.6 532.7h0M98.1 523.2h0M98.6 529.4h0M99.1 528.7h0M99.6 527.8h0M100.1 528.6h0M100.6 525.8h0M101.1 523.6h0M101.6 523.2h0M102.1 520.6h0M102.6 519.5h0M103.1 520.6h0M103.6 521.5h0M104.0 526.9h0M104.5 509.8h0M105.0 514.4h0M105.5 516.9h0M106.0 511.3h0M106.5 526.3h0M107.0 515.1h0M107.5 519.1h0M108.0 520.6h0M108.5 519.6h0M109.0 509.4h0M109.5 513.7h0M110.0 503.4h0M110.5 502.9h0M111.0 493.2h0M111.5 497.7h0M112.0 470.9h0M112.5 464.1h0M113.0 501.5h0M113.5 463.1h0M114.0 462.5h0M114.5 479.9h0M115.0 497.7h0M115.4 480.6h0M115.9 479.9h0M116.4 487.8h0M116.9 467.5h0M117.4 470.6h0M117.9 477.8h0M118.4 481.6h0M118.9 471.1h0M119.4 485.3h0M119.9 482.7h0M120.4 459.9h0M120.9 484.7h0M121.4 501.1h0M121.9 472.1h0M122.4 468.6h0M122.9 496.0h0M123.4 472.0h0M123.9 474.9h0M124.4 456.3h0M124.9 480.4h0M125.4 472.6h0M125.9 495.1h0M126.4 478.1h0M126.9 500.0h0M127.3 470.8h0M127.8 477.6h0M128.3 480.6h0M128.8 484.8h0M129.3 489.7h0M129.8 500.0h0M130.3 492.1h0M130.8 478.2h0M131.3 473.9h0M131.8 491.7h0M132.3 491.0h0M132.8 479.6h0M133.3 484.1h0M133.8 490.5h0M134.3 480.8h0M134.8 494.1h0M135.3 485.7h0M135.8 497.5h0M136.3 490.5h0M136.8 490.0h0M137.3 484.1h0M137.8 487.6h0M138.3 485.2h0M138.8 484.9h0M139.2 498.6h0M139.7 484.3h0M140.2 500.0h0M140.7 485.0h0M141.2 480.9h0M141.7 492.9h0M142.2 496.2h0M142.7 509.0h0M143.2 490.0h0M143.7 501.5h0M144.2 494.7h0M144.7 495.6h0M145.2 486.6h0M145.7 508.6h0M146.2 497.6h0M146.7 506.8h0M147.2 500.6h0M147.7 499.2h0M148.2 500.2h0M148.7 494.1h0M149.2 497.3h0M149.7 512.8h0M150.2 487.0h0M150.6 501.5h0M151.1 502.6h0M151.6 503.4h0M152.1 503.9h0M152.6 510.5h0M153.1 519.9h0M153.6 507.5h0M154.1 497.3h0M154.6 507.5h0M155.1 508.6h0M155.6 501.8h0M156.1 514.6h0M156.6 522.4h0M157.1 533.8h0M157.6 510.4h0M158.1 510.0h0M158.6 495.9h0M159.1 500.9h0M159.6 521.4h0M160.1 521.5h0M160.6 521.4h0M161.1 512.5h0M161.6 527.5h0M162.1 519.1h0M162.5 504.8h0M163.0 514.6h0M163.5 510.8h0M164.0 520.7h0M164.5 514.2h0M165.0 519.9h0M165.5 509.6h0M166.0 516.8h0M166.5 524.6h0M167.0 511.2h0M167.5 513.3h0M168.0 532.6h0M168.5 525.9h0M169.0 512.6h0M169.5 513.3h0M170.0 518.7h0M170.5 524.1h0M171.0 520.5h0M171.5 521.3h0M172.0 506.7h0M172.5 515.3h0M173.0 514.9h0M173.5 525.9h0M173.9 523.1h0M174.4 519.1h0M174.9 519.6h0M175.4 522.3h0M175.9 518.8h0M176.4 520.2h0M176.9 522.1h0M177.4 529.9h0M177.9 525.6h0M178.4 527.1h0M178.9 516.1h0M179.4 521.2h0M179.9 515.7h0M180.4 521.7h0M180.9 524.7h0M181.4 520.7h0M181.9 520.3h0M182.4 533.5h0M182.9 524.5h0M183.4 523.3h0M183.9 525.8h0M184.4 517.8h0M184.9 528.3h0M185.4 527.6h0M185.8 517.8h0M186.3 519.7h0M186.8 515.8h0M187.3 525.3h0M187.8 523.1h0M188.3 526.6h0M188.8 531.1h0M189.3 526.4h0M189.8 524.5h0M190.3 521.1h0M190.8 529.5h0M191.3 523.4h0M191.8 525.0h0M192.3 529.7h0M192.8 524.5h0M193.3 525.8h0M193.8 524.3h0M194.3 528.1h0M194.8 525.5h0M195.3 531.6h0M195.8 526.2h0M196.3 529.2h0M196.8 535.7h0M197.2 531.1h0M197.7 524.3h0M198.2 527.5h0M198.7 530.6h0M199.2 534.7h0M199.7 533.2h0M200.2 533.8h0M200.7 530.1h0M201.2 530.4h0M201.7 536.0h0M202.2 533.4h0M202.7 535.0h0M203.2 530.7h0M203.7 532.1h0M204.2 531.7h0M204.7 533.2h0M205.2 534.0h0M205.7 531.6h0M206.2 530.3h0M206.7 533.1h0M207.2 533.1h0M207.7 530.5h0M208.2 530.2h0M208.7 536.0h0M209.1 532.4h0M209.6 536.0h0M210.1 531.8h0M210.6 530.1h0M211.1 532.3h0M211.6 535.8h0M212.1 535.8h0M212.6 534.4h0M213.1 533.4h0M213.6 535.7h0M214.1 533.3h0M214.6 536.0h0M215.1 532.5h0M215.6 534.6h0M216.1 533.8h0M216.6 531.9h0M217.1 533.7h0M217.6 534.3h0M218.1 535.3h0M218.6 533.9h0M219.1 535.2h0M219.6 531.1h0M220.1 535.7h0M220.5 534.5h0M221.0 536.0h0M221.5 531.3h0M222.0 536.0h0M222.5 536.0h0M223.0 531.8h0M223.5 535.8h0M224.0 534.9h0M224.5 535.0h0M225.0 532.2h0M225.5 534.4h0M226.0 533.8h0M226.5 533.3h0M227.0 533.9h0M227.5 532.2h0M228.0 533.6h0M228.5 534.0h0M229.0 533.1h0M49.5 523.0h0M61.5 523.0h0M96.0 490.7h0M97.0 491.0h0M103.5 501.7h0M103.5 480.0h0M103.0 450.0h0M104.0 458.5h0M103.0 436.5h0M113.0 408.6h0M120.0 427.0h0M124.0 429.0h0M121.0 437.0h0M126.0 441.6h0M128.0 520.8h0M154.0 489.7h0M154.5 495.4h0M155.0 502.7h0M200.0 517.5h0M205.0 522.0h0M228.0 531.0h0" stroke="#111" stroke-opacity="0.95" stroke-width="4.10" stroke-linecap="round" fill="none"/>
<polygon points="294.02,530.4 294.51,532.0 295.01,531.0 295.50,531.7 296.00,531.3 296.50,528.0 296.99,525.8 297.49,533.0 297.98,533.2 298.48,531.0 298.97,531.8 299.47,530.6 299.96,527.9 300.46,527.7 300.96,532.4 301.45,532.3 301.95,529.5 302.44,531.3 302.94,530.7 303.43,527.7 303.93,526.0 304.42,531.1 304.92,532.0 305.41,530.5 305.91,531.0 306.41,532.7 306.90,526.9 307.40,527.3 307.89,533.2 308.39,530.9 308.88,529.5 309.38,531.2 309.87,532.2 310.37,526.1 310.87,527.1 311.36,532.7 311.86,531.9 312.35,530.9 312.85,532.5 313.34,532.6 313.84,527.7 314.33,526.2 314.83,529.2 315.32,531.6 315.82,531.0 316.32,530.6 316.81,529.8 317.31,526.6 317.80,526.6 318.30,531.0 318.79,529.9 319.29,530.6 319.78,530.3 320.28,530.6 320.78,527.3 321.27,524.8 321.77,531.4 322.26,529.5 322.76,531.7 323.25,529.4 323.75,531.9 324.24,526.6 324.74,525.7 325.23,529.7 325.73,530.6 326.23,529.2 326.72,527.8 327.22,528.9 327.71,525.5 328.21,525.1 328.70,530.9 329.20,528.1 329.69,531.2 330.19,531.1 330.69,531.2 331.18,522.7 331.68,522.2 332.17,527.5 332.67,526.9 333.16,527.8 333.66,525.8 334.15,529.3 334.65,514.7 335.15,514.4 335.64,525.6 336.14,524.5 336.63,523.6 337.13,523.0 337.62,523.5 338.12,514.7 338.61,512.1 339.11,521.7 339.60,521.6 340.10,520.4 340.60,519.0 341.09,520.3 341.59,501.1 342.08,500.0 342.58,517.0 343.07,515.2 343.57,514.8 344.06,510.1 344.56,511.8 345.06,486.2 345.55,490.6 346.05,505.8 346.54,508.4 347.04,504.3 347.53,504.8 348.03,507.6 348.52,476.6 349.02,474.0 349.51,492.0 350.01,500.7 350.51,488.1 351.00,487.8 351.50,488.7 351.99,448.9 352.49,456.2 352.98,474.6 353.48,468.0 353.97,470.5 354.47,467.7 354.97,464.3 355.46,418.7 355.96,440.4 356.45,458.8 356.95,455.1 357.44,446.2 357.94,447.5 358.43,448.3 358.93,403.5 359.42,420.5 359.92,434.8 360.42,453.7 360.91,445.2 361.41,447.5 361.90,440.5 362.40,402.5 362.89,409.7 363.39,445.8 363.88,439.2 364.38,443.2 364.88,434.2 365.37,440.2 365.87,417.8 366.36,402.5 366.86,440.9 367.35,433.1 367.85,442.8 368.34,452.5 368.84,439.7 369.33,413.2 369.83,407.6 370.33,446.7 370.82,439.3 371.32,446.5 371.81,443.5 372.31,460.7 372.80,417.6 373.30,408.8 373.79,451.7 374.29,440.2 374.79,454.3 375.28,439.6 375.78,444.7 376.27,424.6 376.77,425.0 377.26,446.1 377.76,446.2 378.25,458.6 378.75,445.1 379.24,442.2 379.74,438.5 380.24,432.7 380.73,438.7 381.23,434.5 381.72,439.7 382.22,443.3 382.71,439.2 383.21,438.5 383.70,439.4 384.20,436.5 384.70,435.0 385.19,446.4 385.69,436.7 386.18,445.8 386.68,439.1 387.17,435.0 387.67,436.8 388.16,442.7 388.66,447.0 389.16,450.3 389.65,445.8 390.15,445.0 390.64,440.6 391.14,451.6 391.63,458.6 392.13,456.2 392.62,462.7 393.12,453.2 393.61,448.4 394.11,467.2 394.61,457.6 395.10,470.5 395.60,462.8 396.09,466.3 396.59,462.4 397.08,468.6 397.58,471.8 398.07,472.6 398.57,471.3 399.07,472.8 399.56,474.2 400.06,480.2 400.55,469.4 401.05,475.6 401.54,480.9 402.04,482.2 402.53,480.8 403.03,479.0 403.52,486.4 404.02,477.0 404.52,477.1 405.01,485.5 405.51,480.1 406.00,484.8 406.50,485.1 406.99,491.3 407.49,485.5 407.98,486.1 408.48,488.9 408.98,494.0 409.47,489.2 409.97,492.0 410.46,496.1 410.96,489.8 411.45,490.3 411.95,500.6 412.44,494.9 412.94,500.1 413.43,500.0 413.93,496.3 414.43,493.4 414.92,494.8 415.42,499.9 415.91,499.9 416.41,502.6 416.90,507.5 417.40,502.3 417.89,498.5 418.39,497.5 418.89,506.6 419.38,508.7 419.88,503.5 420.37,507.0 420.87,506.2 421.36,503.8 421.86,507.0 422.35,510.4 422.85,513.2 423.34,508.2 423.84,511.1 424.34,509.7 424.83,512.9 425.33,509.0 425.82,510.8 426.32,506.9 426.81,512.3 427.31,512.5 427.80,515.1 428.30,510.4 428.80,507.6 429.29,516.4 429.79,514.8 430.28,515.7 430.78,514.9 431.27,516.9 431.77,511.1 432.26,513.9 432.76,515.6 433.25,517.4 433.75,515.7 434.25,519.9 434.74,515.9 435.24,518.1 435.73,515.0 436.23,520.6 436.72,519.2 437.22,519.0 437.71,522.4 438.21,522.7 438.71,521.2 439.20,519.6 439.70,519.9 440.19,522.3 440.69,522.2 441.18,522.2 441.68,521.1 442.17,521.3 442.67,518.7 443.17,522.5 443.66,525.7 444.16,523.9 444.65,523.6 445.15,522.7 445.64,521.0 446.14,521.9 446.63,524.6 447.13,523.2 447.62,524.1 448.12,524.2 448.62,525.7 449.11,523.7 449.61,522.6 450.10,524.9 450.60,524.3 451.09,525.3 451.59,524.8 452.08,526.5 452.58,524.0 453.08,524.2 453.57,526.1 454.07,525.9 454.56,524.5 455.06,525.1 455.55,527.4 456.05,525.2 456.54,524.5 457.04,526.1 457.53,526.7 458.03,526.3 458.53,527.4 459.02,528.3 459.52,524.3 460.01,526.0 460.51,527.6 461.00,529.0 461.50,530.6 461.99,528.4 462.49,529.0 462.99,525.2 463.48,527.0 463.98,528.9 464.47,529.3 464.97,529.6 465.46,529.5 465.96,529.0 466.45,528.1 466.95,527.9 467.44,529.7 467.94,530.1 468.44,529.7 468.93,530.6 469.43,532.8 469.92,528.4 470.42,528.7 470.91,530.5 471.41,530.8 471.90,530.2 472.40,532.2 472.90,531.0 473.39,530.7 473.89,529.5 474.38,532.8 474.38,534.3 473.89,534.7 473.39,535.3 472.90,534.5 472.40,534.2 471.90,534.2 471.41,534.5 470.91,534.8 470.42,534.1 469.92,534.2 469.43,533.7 468.93,533.0 468.44,533.6 467.94,533.8 467.44,533.7 466.95,533.7 466.45,533.9 465.96,532.0 465.46,532.6 464.97,532.7 464.47,532.2 463.98,533.3 463.48,532.0 462.99,532.5 462.49,532.4 461.99,532.3 461.50,531.7 461.00,532.0 460.51,531.7 460.01,532.1 459.52,531.5 459.02,530.9 458.53,531.4 458.03,531.6 457.53,531.0 457.04,530.9 456.54,530.3 456.05,531.0 455.55,530.5 455.06,530.6 454.56,531.5 454.07,529.7 453.57,530.5 453.08,529.3 452.58,530.2 452.08,530.2 451.59,529.5 451.09,529.6 450.60,528.7 450.10,529.1 449.61,529.2 449.11,529.5 448.62,529.0 448.12,529.3 447.62,527.8 447.13,528.5 446.63,527.7 446.14,528.1 445.64,527.8 445.15,529.3 444.65,528.5 444.16,528.4 443.66,528.1 443.17,527.6 442.67,527.4 442.17,526.8 441.68,526.1 441.18,527.3 440.69,527.9 440.19,526.5 439.70,527.1 439.20,526.4 438.71,526.3 438.21,525.4 437.71,527.0 437.22,525.1 436.72,525.0 436.23,524.9 435.73,524.2 435.24,524.5 434.74,524.1 434.25,524.5 433.75,522.4 433.25,525.0 432.76,523.8 432.26,521.6 431.77,521.3 431.27,523.2 430.78,521.2 430.28,522.1 429.79,522.1 429.29,520.4 428.80,521.8 428.30,521.6 427.80,519.4 427.31,521.3 426.81,520.8 426.32,518.6 425.82,518.9 425.33,518.8 424.83,516.7 424.34,518.7 423.84,519.0 423.34,516.1 422.85,519.3 422.35,516.0 421.86,517.5 421.36,513.8 420.87,513.3 420.37,514.7 419.88,515.9 419.38,513.9 418.89,514.0 418.39,515.6 417.89,509.9 417.40,513.9 416.90,513.0 416.41,512.5 415.91,511.4 415.42,510.8 414.92,510.9 414.43,509.5 413.93,510.5 413.43,506.8 412.94,508.4 412.44,511.1 411.95,507.6 411.45,508.6 410.96,506.3 410.46,507.2 409.97,507.4 409.47,503.5 408.98,502.0 408.48,504.2 407.98,502.9 407.49,502.7 406.99,502.2 406.50,502.0 406.00,498.5 405.51,498.9 405.01,499.5 404.52,499.2 404.02,500.2 403.52,496.6 403.03,492.4 402.53,491.5 402.04,493.7 401.54,493.0 401.05,491.7 400.55,493.3 400.06,488.9 399.56,488.1 399.07,485.9 398.57,485.5 398.07,486.3 397.58,489.1 397.08,487.0 396.59,484.8 396.09,483.6 395.60,481.9 395.10,480.2 394.61,480.8 394.11,481.8 393.61,475.3 393.12,479.2 392.62,474.8 392.13,478.9 391.63,475.7 391.14,475.2 390.64,469.7 390.15,469.2 389.65,473.9 389.16,478.0 388.66,474.5 388.16,472.2 387.67,476.8 387.17,467.7 386.68,470.5 386.18,470.3 385.69,469.1 385.19,467.7 384.70,470.9 384.20,472.6 383.70,475.3 383.21,472.8 382.71,470.8 382.22,474.6 381.72,474.4 381.23,470.4 380.73,479.2 380.24,476.5 379.74,473.5 379.24,474.4 378.75,477.5 378.25,474.5 377.76,468.3 377.26,474.0 376.77,469.8 376.27,480.3 375.78,472.2 375.28,470.6 374.79,475.1 374.29,477.0 373.79,476.8 373.30,475.8 372.80,482.7 372.31,478.6 371.81,476.5 371.32,486.8 370.82,476.0 370.33,472.8 369.83,476.3 369.33,477.8 368.84,478.3 368.34,478.3 367.85,471.9 367.35,485.0 366.86,475.4 366.36,471.8 365.87,471.6 365.37,481.1 364.88,478.3 364.38,485.3 363.88,475.0 363.39,479.7 362.89,480.8 362.40,484.6 361.90,488.7 361.41,475.2 360.91,471.7 360.42,488.6 359.92,477.5 359.42,477.3 358.93,471.9 358.43,485.8 357.94,483.7 357.44,485.4 356.95,475.5 356.45,481.2 355.96,494.8 355.46,493.4 354.97,500.0 354.47,508.5 353.97,495.1 353.48,506.0 352.98,503.1 352.49,502.9 351.99,506.4 351.50,509.7 351.00,509.3 350.51,513.0 350.01,509.8 349.51,516.5 349.02,516.4 348.52,519.3 348.03,522.4 347.53,523.8 347.04,521.6 346.54,524.8 346.05,522.0 345.55,529.1 345.06,523.4 344.56,524.6 344.06,527.1 343.57,526.4 343.07,523.2 342.58,527.6 342.08,530.0 341.59,526.8 341.09,529.2 340.60,529.1 340.10,530.3 339.60,530.2 339.11,532.1 338.61,528.0 338.12,528.6 337.62,529.5 337.13,530.4 336.63,532.2 336.14,534.4 335.64,532.8 335.15,534.9 334.65,534.0 334.15,532.8 333.66,532.4 333.16,533.5 332.67,535.0 332.17,533.9 331.68,535.3 331.18,534.9 330.69,535.8 330.19,535.5 329.69,535.8 329.20,533.7 328.70,534.7 328.21,534.5 327.71,535.2 327.22,535.2 326.72,535.8 326.23,534.3 325.73,536.4 325.23,535.3 324.74,536.0 324.24,534.6 323.75,535.3 323.25,535.1 322.76,535.3 322.26,534.9 321.77,534.4 321.27,535.3 320.78,534.9 320.28,536.4 319.78,535.8 319.29,535.3 318.79,536.5 318.30,534.6 317.80,535.2 317.31,534.7 316.81,534.9 316.32,534.7 315.82,535.8 315.32,535.9 314.83,535.9 314.33,535.9 313.84,535.7 313.34,536.2 312.85,535.6 312.35,536.3 311.86,535.6 311.36,534.9 310.87,534.7 310.37,536.0 309.87,535.8 309.38,536.4 308.88,536.2 308.39,535.1 307.89,535.4 307.40,536.3 306.90,535.4 306.41,535.4 305.91,536.2 305.41,536.8 304.92,535.4 304.42,536.0 303.93,534.9 303.43,535.3 302.94,536.0 302.44,535.6 301.95,535.8 301.45,536.4 300.96,535.9 300.46,535.0 299.96,536.0 299.47,535.5 298.97,535.6 298.48,536.6 297.98,535.3 297.49,534.7 296.99,535.9 296.50,536.0 296.00,536.1 295.50,535.9 295.01,535.9 294.51,536.5 294.02,535.8" fill="#E0957B" fill-opacity="0.8"/>
<path d="M294.0 532.1h0M294.5 536.0h0M295.0 531.0h0M295.5 532.3h0M296.0 535.5h0M296.5 529.3h0M297.0 530.3h0M297.5 532.4h0M298.0 534.5h0M298.5 531.0h0M299.0 530.2h0M299.5 536.0h0M300.0 530.9h0M300.5 536.0h0M301.0 531.4h0M301.5 531.4h0M301.9 528.7h0M302.4 533.4h0M302.9 534.1h0M303.4 532.0h0M303.9 525.4h0M304.4 533.3h0M304.9 536.0h0M305.4 525.9h0M305.9 534.2h0M306.4 533.6h0M306.9 536.0h0M307.4 533.8h0M307.9 532.0h0M308.4 533.6h0M308.9 532.5h0M309.4 533.2h0M309.9 534.3h0M310.4 533.4h0M310.9 531.4h0M311.4 531.4h0M311.9 534.6h0M312.4 529.3h0M312.8 534.9h0M313.3 530.9h0M313.8 533.6h0M314.3 529.3h0M314.8 532.0h0M315.3 530.1h0M315.8 532.1h0M316.3 527.5h0M316.8 533.3h0M317.3 536.0h0M317.8 531.0h0M318.3 532.3h0M318.8 532.0h0M319.3 531.2h0M319.8 529.6h0M320.3 529.8h0M320.8 536.0h0M321.3 532.0h0M321.8 532.8h0M322.3 530.3h0M322.8 532.8h0M323.3 536.0h0M323.7 528.7h0M324.2 534.8h0M324.7 533.4h0M325.2 534.1h0M325.7 530.0h0M326.2 530.8h0M326.7 529.4h0M327.2 528.7h0M327.7 531.2h0M328.2 531.0h0M328.7 534.5h0M329.2 533.8h0M329.7 527.4h0M330.2 531.0h0M330.7 528.2h0M331.2 529.8h0M331.7 529.6h0M332.2 530.9h0M332.7 529.6h0M333.2 529.3h0M333.7 531.8h0M334.2 528.4h0M334.6 534.0h0M335.1 520.4h0M335.6 532.2h0M336.1 528.5h0M336.6 529.5h0M337.1 526.8h0M337.6 532.0h0M338.1 523.0h0M338.6 512.6h0M339.1 528.2h0M339.6 524.4h0M340.1 525.8h0M340.6 528.2h0M341.1 528.1h0M341.6 490.0h0M342.1 481.4h0M342.6 523.7h0M343.1 525.1h0M343.6 512.6h0M344.1 520.5h0M344.6 510.9h0M345.1 480.7h0M345.6 495.8h0M346.0 522.0h0M346.5 526.7h0M347.0 505.0h0M347.5 510.9h0M348.0 517.2h0M348.5 470.8h0M349.0 485.6h0M349.5 502.6h0M350.0 518.0h0M350.5 511.6h0M351.0 507.5h0M351.5 497.8h0M352.0 473.4h0M352.5 468.5h0M353.0 467.5h0M353.5 498.6h0M354.0 481.1h0M354.5 484.1h0M355.0 478.6h0M355.5 449.9h0M356.0 462.6h0M356.5 480.2h0M356.9 485.1h0M357.4 468.0h0M357.9 456.4h0M358.4 458.3h0M358.9 441.4h0M359.4 449.1h0M359.9 456.9h0M360.4 469.1h0M360.9 475.1h0M361.4 459.6h0M361.9 462.0h0M362.4 434.3h0M362.9 440.1h0M363.4 463.1h0M363.9 457.6h0M364.4 458.4h0M364.9 466.9h0M365.4 465.0h0M365.9 446.4h0M366.4 460.6h0M366.9 462.2h0M367.4 463.3h0M367.8 455.5h0M368.3 460.7h0M368.8 455.1h0M369.3 429.9h0M369.8 433.8h0M370.3 457.5h0M370.8 468.6h0M371.3 461.1h0M371.8 463.4h0M372.3 459.7h0M372.8 448.4h0M373.3 444.3h0M373.8 465.4h0M374.3 457.3h0M374.8 468.4h0M375.3 464.2h0M375.8 463.6h0M376.3 455.5h0M376.8 451.1h0M377.3 463.3h0M377.8 457.3h0M378.3 463.4h0M378.7 464.9h0M379.2 460.7h0M379.7 462.3h0M380.2 463.1h0M380.7 456.3h0M381.2 457.8h0M381.7 462.2h0M382.2 478.7h0M382.7 474.0h0M383.2 455.7h0M383.7 446.5h0M384.2 453.1h0M384.7 455.9h0M385.2 467.2h0M385.7 467.3h0M386.2 467.2h0M386.7 451.4h0M387.2 458.5h0M387.7 456.9h0M388.2 469.5h0M388.7 461.5h0M389.2 458.8h0M389.7 472.1h0M390.1 467.2h0M390.6 466.4h0M391.1 464.5h0M391.6 468.1h0M392.1 474.9h0M392.6 481.0h0M393.1 482.8h0M393.6 482.2h0M394.1 478.2h0M394.6 479.0h0M395.1 489.1h0M395.6 477.2h0M396.1 480.0h0M396.6 482.0h0M397.1 496.3h0M397.6 494.7h0M398.1 493.7h0M398.6 485.2h0M399.1 504.6h0M399.6 504.9h0M400.1 501.5h0M400.6 482.9h0M401.0 500.6h0M401.5 494.5h0M402.0 499.6h0M402.5 502.5h0M403.0 500.9h0M403.5 500.4h0M404.0 498.9h0M404.5 501.5h0M405.0 511.6h0M405.5 507.8h0M406.0 507.4h0M406.5 506.8h0M407.0 504.8h0M407.5 508.4h0M408.0 501.4h0M408.5 509.8h0M409.0 505.2h0M409.5 508.3h0M410.0 501.7h0M410.5 504.9h0M411.0 505.5h0M411.5 506.4h0M411.9 514.3h0M412.4 525.3h0M412.9 512.0h0M413.4 511.8h0M413.9 503.8h0M414.4 508.3h0M414.9 517.0h0M415.4 513.9h0M415.9 510.7h0M416.4 516.3h0M416.9 510.2h0M417.4 512.1h0M417.9 516.7h0M418.4 511.9h0M418.9 517.7h0M419.4 510.9h0M419.9 509.3h0M420.4 515.4h0M420.9 517.5h0M421.4 511.4h0M421.9 513.9h0M422.4 515.4h0M422.8 523.1h0M423.3 509.3h0M423.8 520.0h0M424.3 516.0h0M424.8 518.5h0M425.3 512.7h0M425.8 504.1h0M426.3 513.2h0M426.8 517.8h0M427.3 516.2h0M427.8 525.4h0M428.3 517.1h0M428.8 521.7h0M429.3 523.3h0M429.8 528.2h0M430.3 516.7h0M430.8 513.6h0M431.3 524.2h0M431.8 516.9h0M432.3 516.8h0M432.8 520.8h0M433.3 518.3h0M433.8 514.3h0M434.2 521.8h0M434.7 522.7h0M435.2 520.5h0M435.7 517.8h0M436.2 532.8h0M436.7 524.5h0M437.2 528.8h0M437.7 529.1h0M438.2 528.9h0M438.7 524.1h0M439.2 516.5h0M439.7 529.4h0M440.2 531.3h0M440.7 535.0h0M441.2 530.1h0M441.7 525.6h0M442.2 524.2h0M442.7 519.1h0M443.2 529.4h0M443.7 532.4h0M444.2 535.5h0M444.7 527.0h0M445.1 523.7h0M445.6 523.8h0M446.1 521.1h0M446.6 534.5h0M447.1 534.1h0M447.6 525.4h0M448.1 530.8h0M448.6 535.8h0M449.1 525.9h0M449.6 525.8h0M450.1 527.4h0M450.6 527.5h0M451.1 528.7h0M451.6 534.6h0M452.1 532.4h0M452.6 534.6h0M453.1 536.0h0M453.6 524.3h0M454.1 530.5h0M454.6 531.0h0M455.1 526.0h0M455.6 533.3h0M456.0 528.3h0M456.5 530.3h0M457.0 535.1h0M457.5 534.1h0M458.0 530.2h0M458.5 526.5h0M459.0 534.5h0M459.5 532.8h0M460.0 532.4h0M460.5 528.5h0M461.0 530.0h0M461.5 536.0h0M462.0 532.0h0M462.5 533.6h0M463.0 531.9h0M463.5 531.6h0M464.0 533.1h0M464.5 531.4h0M465.0 535.7h0M465.5 531.8h0M466.0 534.2h0M466.5 533.8h0M466.9 536.0h0M467.4 534.0h0M467.9 534.4h0M468.4 529.7h0M468.9 534.7h0M469.4 529.6h0M469.9 530.4h0M470.4 534.0h0M470.9 531.3h0M471.4 529.8h0M471.9 534.0h0M472.4 530.6h0M472.9 531.1h0M473.4 533.8h0M473.9 532.4h0M474.4 534.1h0M306.0 524.0h0M306.5 527.0h0M342.0 488.5h0M345.0 479.7h0M348.0 466.5h0M351.5 472.0h0M351.0 478.0h0M360.0 487.0h0M362.5 416.0h0M380.0 422.5h0M376.0 436.0h0M379.0 444.5h0M374.0 483.0h0M376.0 495.0h0M378.0 504.6h0M435.0 499.0h0M435.0 507.6h0M403.0 519.0h0M408.0 519.0h0M413.0 518.0h0" stroke="#111" stroke-opacity="0.95" stroke-width="4.10" stroke-linecap="round" fill="none"/>
<polygon points="528.28,491.4 528.80,504.3 529.33,502.2 529.85,493.4 530.37,495.2 530.90,481.7 531.42,496.1 531.94,505.7 532.47,495.2 532.99,484.4 533.52,505.8 534.04,501.3 534.56,496.9 535.09,488.8 535.61,504.0 536.13,494.9 536.66,501.9 537.18,502.7 537.70,501.2 538.23,490.3 538.75,490.9 539.28,510.1 539.80,497.2 540.32,497.2 540.85,494.3 541.37,492.1 541.89,497.2 542.42,489.9 542.94,488.8 543.46,499.5 543.99,498.7 544.51,495.8 545.03,502.4 545.56,490.9 546.08,493.3 546.61,494.5 547.13,507.2 547.65,495.0 548.18,493.4 548.70,501.3 549.22,495.1 549.75,501.5 550.27,498.4 550.79,504.5 551.32,497.9 551.84,499.3 552.37,499.7 552.89,507.5 553.41,503.4 553.94,500.1 554.46,499.0 554.98,498.2 555.51,504.0 556.03,500.9 556.55,498.9 557.08,498.2 557.60,512.4 558.12,500.6 558.65,500.0 559.17,502.5 559.70,507.0 560.22,497.8 560.74,499.5 561.27,505.9 561.79,504.9 562.31,506.1 562.84,504.9 563.36,499.9 563.88,498.1 564.41,501.9 564.93,496.3 565.46,501.3 565.98,509.0 566.50,505.3 567.03,497.2 567.55,495.5 568.07,503.1 568.60,500.7 569.12,502.1 569.64,500.4 570.17,503.4 570.69,494.1 571.21,495.4 571.74,499.0 572.26,505.4 572.79,501.7 573.31,500.1 573.83,502.8 574.36,495.8 574.88,499.1 575.40,498.6 575.93,488.2 576.45,512.0 576.97,500.1 577.50,502.2 578.02,496.5 578.55,483.6 579.07,496.1 579.59,503.6 580.12,498.9 580.64,496.5 581.16,496.9 581.69,485.0 582.21,491.7 582.73,491.1 583.26,497.3 583.78,491.1 584.30,491.3 584.83,494.1 585.35,502.4 585.88,474.0 586.40,489.0 586.92,502.1 587.45,489.2 587.97,495.1 588.49,504.1 589.02,491.2 589.54,480.4 590.06,491.3 590.59,492.4 591.11,491.2 591.64,489.3 592.16,491.7 592.68,483.6 593.21,475.6 593.73,475.7 594.25,484.8 594.78,485.5 595.30,492.6 595.82,485.9 596.35,492.7 596.87,478.5 597.39,484.4 597.92,489.7 598.44,482.0 598.97,490.3 599.49,489.5 600.01,498.5 600.54,481.0 601.06,478.3 601.58,478.1 602.11,488.1 602.63,478.2 603.15,493.9 603.68,489.8 604.20,471.0 604.73,479.7 605.25,483.7 605.77,494.3 606.30,498.2 606.82,499.0 607.34,494.0 607.87,487.9 608.39,484.8 608.91,495.9 609.44,490.2 609.96,485.5 610.48,481.5 611.01,489.9 611.53,476.7 612.06,490.3 612.58,484.8 613.10,471.8 613.63,489.5 614.15,480.6 614.67,488.7 615.20,479.2 615.72,478.0 616.24,493.8 616.77,483.3 617.29,484.0 617.82,506.1 618.34,480.8 618.86,495.2 619.39,488.0 619.91,498.3 620.43,490.3 620.96,492.6 621.48,500.1 622.00,499.3 622.53,486.7 623.05,492.3 623.58,490.8 624.10,491.9 624.62,492.3 625.15,495.4 625.67,494.2 626.19,493.1 626.72,489.1 627.24,500.9 627.76,490.2 628.29,505.8 628.81,490.2 629.33,505.9 629.86,482.9 630.38,488.8 630.91,491.6 631.43,504.1 631.95,498.6 632.48,504.6 633.00,502.3 633.52,502.1 634.05,493.7 634.57,492.7 635.09,498.9 635.62,500.3 636.14,492.4 636.67,504.8 637.19,492.8 637.71,494.1 638.24,491.5 638.76,496.8 639.28,490.8 639.81,500.1 640.33,502.2 640.85,483.3 641.38,489.3 641.90,496.1 642.42,491.9 642.95,482.9 643.47,498.3 644.00,502.3 644.52,491.0 645.04,486.5 645.57,493.8 646.09,487.8 646.61,499.9 647.14,497.6 647.66,488.7 648.18,484.6 648.71,484.2 649.23,477.1 649.76,486.5 650.28,494.5 650.80,495.1 651.33,491.8 651.85,490.2 652.37,487.2 652.90,495.8 653.42,486.5 653.94,497.8 654.47,487.5 654.99,484.6 655.51,488.7 656.04,487.9 656.56,492.6 657.09,496.2 657.61,490.1 658.13,500.0 658.66,484.7 659.18,482.5 659.70,492.2 660.23,501.0 660.75,494.2 661.27,501.8 661.80,500.5 662.32,498.2 662.85,490.7 663.37,491.9 663.89,495.7 664.42,489.4 664.94,500.4 665.46,496.1 665.99,478.6 666.51,495.7 667.03,486.2 667.56,486.5 668.08,490.0 668.60,493.4 669.13,504.5 669.65,499.7 670.18,487.0 670.70,481.6 671.22,496.3 671.75,483.8 672.27,494.4 672.79,488.4 673.32,488.5 673.84,483.7 674.36,484.4 674.89,494.7 675.41,486.2 675.94,494.1 676.46,490.6 676.98,480.4 677.51,483.6 678.03,488.1 678.55,497.2 679.08,487.7 679.60,487.0 680.12,479.2 680.65,479.8 681.17,481.8 681.69,480.2 682.22,492.2 682.74,489.3 683.27,485.4 683.79,485.7 684.31,501.9 684.84,484.7 685.36,491.6 685.88,489.5 686.41,492.6 686.93,489.9 687.45,493.0 687.98,485.0 688.50,480.8 689.03,488.9 689.55,492.4 690.07,497.7 690.60,489.0 691.12,485.8 691.64,481.1 692.17,498.4 692.69,480.8 693.21,482.4 693.74,485.2 694.26,486.1 694.78,494.1 695.31,499.1 695.83,483.0 696.36,483.4 696.88,499.5 697.40,487.2 697.93,498.5 698.45,494.3 698.97,498.5 699.50,492.6 700.02,481.0 700.54,487.5 701.07,503.6 701.59,495.1 702.12,492.6 702.64,497.0 703.16,480.6 703.69,486.3 704.21,498.3 704.73,495.8 705.26,497.5 705.78,492.9 706.30,503.6 706.83,492.7 707.35,496.3 707.87,489.9 708.40,501.3 708.92,505.3 709.45,494.1 709.97,503.4 710.49,498.1 711.02,503.8 711.54,506.3 712.06,507.5 712.59,501.6 713.11,512.7 713.63,513.8 714.16,493.1 714.68,499.6 715.21,506.9 715.73,504.7 716.25,512.4 716.78,508.1 717.30,511.7 717.82,499.0 718.35,496.5 718.87,509.8 718.87,525.1 718.35,516.3 717.82,521.9 717.30,524.4 716.78,523.5 716.25,522.7 715.73,518.7 715.21,522.3 714.68,522.8 714.16,517.5 713.63,519.7 713.11,521.9 712.59,519.8 712.06,523.2 711.54,523.3 711.02,517.4 710.49,518.0 709.97,517.7 709.45,519.2 708.92,514.2 708.40,513.5 707.87,513.7 707.35,513.9 706.83,515.8 706.30,513.9 705.78,513.0 705.26,512.5 704.73,512.0 704.21,516.5 703.69,511.9 703.16,510.8 702.64,508.0 702.12,507.0 701.59,512.2 701.07,513.9 700.54,510.5 700.02,515.8 699.50,509.7 698.97,508.3 698.45,510.8 697.93,507.5 697.40,514.3 696.88,511.0 696.36,510.5 695.83,514.9 695.31,513.1 694.78,506.9 694.26,502.7 693.74,505.7 693.21,511.2 692.69,510.8 692.17,505.0 691.64,507.2 691.12,501.4 690.60,511.4 690.07,509.5 689.55,508.6 689.03,509.0 688.50,513.9 687.98,509.3 687.45,514.7 686.93,511.0 686.41,510.1 685.88,507.3 685.36,506.2 684.84,506.9 684.31,507.7 683.79,508.2 683.27,507.9 682.74,512.3 682.22,505.4 681.69,505.1 681.17,502.7 680.65,504.5 680.12,513.3 679.60,506.0 679.08,512.8 678.55,508.1 678.03,503.7 677.51,509.1 676.98,506.3 676.46,511.1 675.94,502.1 675.41,504.5 674.89,514.1 674.36,509.6 673.84,512.8 673.32,511.1 672.79,514.4 672.27,511.5 671.75,505.4 671.22,501.3 670.70,510.7 670.18,509.0 669.65,511.9 669.13,508.6 668.60,508.5 668.08,507.9 667.56,511.7 667.03,506.3 666.51,509.4 665.99,512.4 665.46,508.6 664.94,509.5 664.42,504.7 663.89,508.5 663.37,513.3 662.85,507.9 662.32,510.6 661.80,513.5 661.27,508.2 660.75,515.2 660.23,504.2 659.70,510.5 659.18,506.7 658.66,511.0 658.13,511.9 657.61,513.1 657.09,513.5 656.56,513.7 656.04,507.3 655.51,515.3 654.99,511.5 654.47,507.0 653.94,506.3 653.42,516.0 652.90,509.6 652.37,510.9 651.85,511.1 651.33,508.9 650.80,510.0 650.28,505.7 649.76,511.3 649.23,508.6 648.71,505.9 648.18,510.6 647.66,509.5 647.14,513.5 646.61,507.3 646.09,512.4 645.57,511.1 645.04,503.9 644.52,509.5 644.00,514.2 643.47,514.4 642.95,512.4 642.42,509.0 641.90,508.8 641.38,510.7 640.85,517.7 640.33,509.7 639.81,516.7 639.28,509.6 638.76,509.7 638.24,512.6 637.71,511.8 637.19,513.1 636.67,511.9 636.14,507.6 635.62,512.6 635.09,516.7 634.57,511.8 634.05,514.7 633.52,520.1 633.00,513.8 632.48,514.7 631.95,513.2 631.43,509.3 630.91,517.2 630.38,515.2 629.86,509.4 629.33,514.3 628.81,513.1 628.29,511.1 627.76,511.4 627.24,513.1 626.72,513.5 626.19,513.0 625.67,516.4 625.15,512.6 624.62,512.0 624.10,509.7 623.58,516.3 623.05,512.9 622.53,511.8 622.00,511.7 621.48,507.8 620.96,512.4 620.43,510.4 619.91,508.8 619.39,513.3 618.86,511.2 618.34,513.0 617.82,509.9 617.29,513.1 616.77,507.6 616.24,510.3 615.72,508.4 615.20,511.8 614.67,504.3 614.15,507.8 613.63,511.9 613.10,508.5 612.58,506.6 612.06,508.7 611.53,513.2 611.01,507.4 610.48,506.5 609.96,504.6 609.44,508.3 608.91,513.1 608.39,510.7 607.87,504.1 607.34,504.6 606.82,502.0 606.30,503.7 605.77,500.0 605.25,511.1 604.73,505.0 604.20,505.1 603.68,511.9 603.15,506.9 602.63,499.7 602.11,508.1 601.58,507.2 601.06,509.2 600.54,507.7 600.01,510.0 599.49,508.5 598.97,512.1 598.44,509.6 597.92,512.0 597.39,509.5 596.87,503.9 596.35,507.1 595.82,511.4 595.30,508.9 594.78,511.9 594.25,511.2 593.73,510.0 593.21,508.9 592.68,511.8 592.16,507.9 591.64,503.2 591.11,511.0 590.59,510.1 590.06,511.1 589.54,511.9 589.02,512.2 588.49,510.7 587.97,509.3 587.45,506.4 586.92,505.6 586.40,509.7 585.88,514.5 585.35,514.6 584.83,512.4 584.30,512.7 583.78,515.8 583.26,516.3 582.73,505.9 582.21,513.5 581.69,510.9 581.16,504.9 580.64,516.9 580.12,510.5 579.59,512.5 579.07,519.0 578.55,518.6 578.02,515.9 577.50,515.4 576.97,517.3 576.45,516.7 575.93,518.9 575.40,517.1 574.88,520.8 574.36,513.9 573.83,511.7 573.31,513.6 572.79,517.3 572.26,514.5 571.74,519.3 571.21,516.6 570.69,515.5 570.17,515.8 569.64,518.3 569.12,524.1 568.60,522.6 568.07,521.8 567.55,520.1 567.03,519.7 566.50,520.8 565.98,521.8 565.46,519.5 564.93,519.4 564.41,520.0 563.88,519.6 563.36,521.0 562.84,518.1 562.31,519.1 561.79,523.7 561.27,522.1 560.74,517.4 560.22,518.1 559.70,522.4 559.17,519.1 558.65,523.7 558.12,522.7 557.60,517.8 557.08,519.3 556.55,517.7 556.03,517.6 555.51,520.5 554.98,516.4 554.46,521.3 553.94,510.1 553.41,513.0 552.89,520.3 552.37,518.7 551.84,513.4 551.32,522.4 550.79,519.9 550.27,513.5 549.75,513.2 549.22,518.5 548.70,516.6 548.18,515.8 547.65,515.7 547.13,515.7 546.61,519.1 546.08,513.8 545.56,514.4 545.03,521.2 544.51,517.2 543.99,514.5 543.46,513.6 542.94,520.7 542.42,514.4 541.89,514.1 541.37,510.9 540.85,514.0 540.32,516.2 539.80,516.1 539.28,513.5 538.75,514.7 538.23,513.7 537.70,511.7 537.18,515.0 536.66,522.0 536.13,516.6 535.61,508.6 535.09,511.8 534.56,517.3 534.04,515.5 533.52,519.9 532.99,518.8 532.47,517.2 531.94,513.7 531.42,516.5 530.90,520.1 530.37,514.9 529.85,517.9 529.33,518.0 528.80,516.7 528.28,514.7" fill="#E0957B" fill-opacity="0.85"/>
<path d="M527.90 434.0V510.0" stroke="#E0957B" stroke-width="0.9" stroke-opacity="0.85"/>
<path d="M716.60 450.0V518.0" stroke="#E0957B" stroke-width="0.9" stroke-opacity="0.85"/>
<path d="M528.3 504.5h0M529.9 516.0h0M530.4 519.7h0M531.4 495.2h0M532.5 512.0h0M533.0 514.0h0M533.5 505.3h0M534.0 516.5h0M534.6 511.8h0M535.6 505.2h0M537.7 511.6h0M538.2 512.6h0M539.8 501.0h0M540.8 502.5h0M541.4 500.1h0M541.9 508.9h0M542.4 504.8h0M542.9 512.2h0M544.5 510.0h0M545.6 522.6h0M546.6 512.2h0M547.1 511.1h0M548.7 501.2h0M549.2 516.6h0M550.8 488.8h0M552.9 498.9h0M553.4 520.6h0M553.9 510.9h0M555.0 513.7h0M556.0 491.2h0M556.6 518.4h0M557.6 506.2h0M558.1 515.3h0M559.7 519.6h0M560.2 501.8h0M561.3 508.8h0M561.8 501.7h0M562.8 503.5h0M564.4 502.7h0M564.9 503.4h0M567.5 522.0h0M568.6 498.6h0M569.1 516.8h0M569.6 507.0h0M570.7 521.9h0M571.2 508.4h0M571.7 497.4h0M572.3 512.4h0M572.8 499.5h0M574.4 510.9h0M574.9 507.4h0M577.5 503.0h0M578.0 512.8h0M579.1 511.8h0M580.6 495.3h0M581.2 507.6h0M581.7 502.5h0M583.3 499.9h0M583.8 469.6h0M584.3 512.6h0M584.8 493.9h0M585.4 489.0h0M586.4 498.8h0M586.9 502.2h0M587.4 489.0h0M588.0 517.2h0M588.5 510.7h0M589.5 496.6h0M590.1 498.4h0M590.6 506.0h0M591.6 494.6h0M593.7 503.3h0M594.8 504.0h0M595.3 508.3h0M595.8 508.5h0M596.3 500.5h0M597.4 499.8h0M599.5 499.1h0M600.5 501.1h0M603.2 506.2h0M603.7 510.6h0M604.7 499.5h0M605.8 486.2h0M606.3 499.3h0M607.3 505.5h0M607.9 491.6h0M608.4 509.5h0M609.4 509.4h0M610.0 489.5h0M610.5 487.0h0M611.0 502.3h0M612.1 501.0h0M614.2 498.6h0M615.2 510.2h0M615.7 511.1h0M616.2 490.0h0M616.8 502.8h0M617.3 508.3h0M617.8 500.6h0M618.9 505.8h0M619.4 489.2h0M620.4 505.8h0M621.5 515.3h0M624.1 493.5h0M625.1 503.9h0M625.7 491.9h0M626.2 512.2h0M627.2 503.9h0M628.3 516.8h0M628.8 509.0h0M629.9 513.6h0M630.4 504.9h0M630.9 505.0h0M631.4 502.7h0M632.0 500.7h0M633.0 507.8h0M633.5 507.3h0M634.0 507.4h0M635.6 493.3h0M636.1 505.7h0M637.2 508.0h0M638.2 499.2h0M639.8 516.1h0M640.3 493.4h0M641.4 511.1h0M642.4 505.7h0M642.9 506.2h0M643.5 499.8h0M644.5 489.8h0M645.6 505.3h0M646.1 508.0h0M646.6 505.3h0M647.1 509.5h0M647.7 499.7h0M648.2 500.7h0M649.2 492.6h0M650.3 523.0h0M651.8 489.3h0M652.9 505.8h0M653.9 503.7h0M654.5 502.4h0M655.0 497.7h0M656.0 503.5h0M657.6 506.2h0M658.1 495.9h0M658.7 499.1h0M661.3 496.7h0M663.9 497.7h0M667.0 512.0h0M667.6 500.3h0M668.6 502.1h0M670.2 488.4h0M671.7 509.5h0M672.3 486.4h0M673.8 493.1h0M674.4 505.2h0M675.4 508.6h0M677.0 499.7h0M677.5 510.0h0M678.0 491.2h0M678.6 508.4h0M679.1 487.9h0M679.6 512.0h0M680.6 489.3h0M681.2 498.9h0M682.2 498.7h0M683.8 515.7h0M684.3 492.5h0M684.8 489.4h0M685.4 495.9h0M685.9 497.8h0M686.9 489.5h0M687.5 503.7h0M688.0 484.3h0M688.5 494.9h0M689.0 495.3h0M689.5 501.3h0M690.1 506.7h0M692.2 505.0h0M692.7 496.8h0M693.7 502.5h0M695.3 497.7h0M695.8 491.2h0M696.4 504.3h0M696.9 504.7h0M697.4 508.1h0M697.9 513.0h0M698.5 491.5h0M699.0 505.8h0M699.5 513.4h0M700.0 503.1h0M700.5 504.1h0M701.1 494.3h0M703.2 511.6h0M705.3 512.9h0M705.8 508.2h0M707.4 515.6h0M707.9 505.1h0M708.4 510.2h0M708.9 498.8h0M709.4 506.9h0M710.0 509.2h0M711.0 498.5h0M714.2 532.4h0M714.7 507.5h0M715.7 509.1h0M717.3 517.9h0M717.8 518.4h0M718.3 520.6h0M529.0 415.2h0M554.7 409.0h0M578.0 427.7h0M590.9 423.0h0M596.0 425.5h0M585.4 436.5h0M589.4 442.3h0M589.0 446.0h0M535.6 453.0h0M603.3 454.0h0M688.2 413.4h0M654.0 440.4h0M701.0 436.8h0M693.7 442.0h0M694.0 447.8h0M718.0 443.4h0M703.0 458.8h0M647.0 460.0h0M650.0 464.4h0M666.0 460.3h0M671.0 464.0h0M697.8 466.6h0M716.5 473.0h0M674.7 473.0h0M649.0 470.0h0M649.3 473.5h0M663.0 477.3h0M682.4 480.2h0M695.6 476.0h0M699.0 478.0h0M665.8 481.7h0M668.4 480.2h0M671.6 481.7h0M647.9 482.0h0M653.0 485.0h0M640.5 486.0h0M639.0 489.6h0M702.0 486.4h0M667.7 488.6h0M670.6 490.0h0M541.5 470.6h0M537.4 480.9h0M545.9 478.0h0M552.9 480.0h0M562.0 479.4h0M566.0 469.7h0M583.0 469.7h0M578.9 476.5h0M585.9 487.0h0M597.9 481.9h0M603.8 467.2h0M607.7 467.5h0M608.9 471.6h0M607.1 473.8h0M616.0 466.8h0M617.7 474.6h0M615.5 481.9h0M543.2 489.2h0M544.7 492.9h0M549.5 486.3h0M550.6 490.0h0M544.0 526.0h0M536.3 527.4h0M532.7 526.6h0M529.7 522.2h0M577.4 528.8h0M579.6 522.2h0M582.5 519.3h0M588.4 522.2h0M592.0 519.3h0M570.0 521.5h0M562.7 519.3h0M559.0 528.0h0M555.4 525.0h0M552.5 524.4h0M573.7 519.3h0M611.8 520.0h0M534.9 519.3h0M537.0 519.3h0M539.3 519.3h0M541.5 519.3h0M543.7 519.3h0M545.9 519.3h0M548.0 519.3h0M550.3 519.3h0M552.5 519.3h0M554.0 519.3h0M532.0 535.4h0M534.0 535.4h0M538.5 535.4h0M540.0 535.4h0M546.6 535.4h0M548.0 535.4h0M556.9 535.4h0M559.0 535.4h0M561.3 535.4h0M563.5 535.4h0M565.7 535.4h0M568.6 535.4h0M564.6 531.0h0M567.9 532.5h0M569.3 531.8h0M625.9 516.5h0M634.7 520.9h0M634.0 526.7h0M637.6 523.0h0M642.0 519.4h0M645.7 523.0h0M654.5 520.0h0M654.5 526.0h0M657.9 522.3h0M659.6 515.0h0M664.8 518.7h0M667.0 528.2h0M669.9 519.4h0M672.0 514.3h0M675.8 520.9h0M677.0 529.7h0M679.4 519.4h0M685.3 528.9h0M684.6 519.4h0M689.0 519.4h0M690.1 529.7h0M692.6 523.0h0M692.3 527.5h0M696.3 535.5h0M694.1 515.0h0M697.8 514.3h0M701.4 527.5h0M703.6 529.7h0M705.8 525.3h0M708.0 523.8h0M710.2 515.0h0M711.7 519.4h0M712.4 523.8h0M714.6 528.9h0M715.4 519.4h0M716.8 514.3h0M705.0 535.5h0M707.0 535.5h0M709.0 535.5h0M711.0 535.5h0M713.0 535.5h0M715.0 535.5h0M717.0 535.5h0M719.0 535.5h0" stroke="#111" stroke-opacity="0.95" stroke-width="4.10" stroke-linecap="round" fill="none"/>
<polygon points="54.01,711.9 54.49,712.0 54.97,718.2 55.46,715.1 55.94,716.7 56.42,712.3 56.90,718.9 57.38,720.0 57.86,723.3 58.34,722.2 58.83,722.2 59.31,723.0 59.79,720.6 60.27,721.3 60.75,721.1 61.23,721.9 61.71,722.1 62.20,722.1 62.68,722.1 63.16,720.3 63.64,719.4 64.12,721.7 64.60,722.3 65.08,721.9 65.56,721.3 66.05,722.2 66.53,720.9 67.01,719.4 67.49,721.8 67.97,721.3 68.45,721.7 68.93,722.2 69.42,723.1 69.90,720.8 70.38,719.4 70.86,723.8 71.34,722.4 71.82,721.9 72.30,721.2 72.79,722.3 73.27,720.5 73.75,721.6 74.23,722.0 74.71,721.6 75.19,722.2 75.67,722.4 76.16,721.9 76.64,720.8 77.12,720.3 77.60,722.7 78.08,724.2 78.56,721.9 79.04,722.2 79.53,722.1 80.01,721.3 80.49,720.8 80.97,722.3 81.45,723.7 81.93,722.2 82.41,722.1 82.89,722.6 83.38,719.4 83.86,720.8 84.34,722.8 84.82,721.6 85.30,722.9 85.78,723.5 86.26,722.6 86.75,720.0 87.23,720.6 87.71,723.0 88.19,721.9 88.67,721.2 89.15,722.4 89.63,722.5 90.12,720.7 90.60,721.4 91.08,723.1 91.56,723.2 92.04,723.3 92.52,723.2 93.00,723.1 93.49,721.2 93.97,721.3 94.45,722.8 94.93,723.1 95.41,722.7 95.89,723.1 96.37,722.4 96.86,718.1 97.34,717.9 97.82,720.4 98.30,719.2 98.78,719.1 99.26,718.6 99.74,718.5 100.23,714.8 100.71,712.2 101.19,714.7 101.67,714.7 102.15,714.4 102.63,711.1 103.11,712.5 103.59,705.9 104.08,703.9 104.56,708.9 105.04,712.4 105.52,706.0 106.00,710.5 106.48,704.5 106.96,690.6 107.45,695.1 107.93,696.2 108.41,702.9 108.89,702.2 109.37,696.2 109.85,698.6 110.33,679.1 110.82,676.2 111.30,690.7 111.78,687.8 112.26,691.1 112.74,689.7 113.22,676.0 113.70,673.2 114.19,663.8 114.67,679.3 115.15,680.8 115.63,675.7 116.11,672.6 116.59,671.8 117.07,657.4 117.56,655.0 118.04,659.3 118.52,662.9 119.00,663.3 119.48,669.5 119.96,666.4 120.44,642.5 120.93,649.3 121.41,646.2 121.89,654.5 122.37,654.4 122.85,649.8 123.33,654.8 123.81,634.0 124.29,629.3 124.78,647.7 125.26,656.0 125.74,632.5 126.22,635.1 126.70,641.9 127.18,622.6 127.66,613.9 128.15,638.5 128.63,633.5 129.11,648.3 129.59,636.5 130.07,617.1 130.55,612.0 131.03,618.6 131.52,634.3 132.00,621.6 132.48,632.6 132.96,623.3 133.44,635.9 133.92,608.7 134.40,612.6 134.89,637.3 135.37,625.9 135.85,631.4 136.33,632.1 136.81,629.5 137.29,610.7 137.77,607.5 138.26,619.0 138.74,623.5 139.22,620.4 139.70,611.3 140.18,605.0 140.66,632.1 141.14,614.3 141.62,607.4 142.11,630.2 142.59,621.3 143.07,604.6 143.55,615.7 144.03,619.1 144.51,607.9 144.99,604.7 145.48,611.7 145.96,597.1 146.44,623.4 146.92,616.6 147.40,609.8 147.88,616.8 148.36,617.4 148.85,631.3 149.33,623.9 149.81,620.4 150.29,611.6 150.77,622.3 151.25,618.5 151.73,628.4 152.22,636.6 152.70,635.1 153.18,639.4 153.66,644.5 154.14,629.8 154.62,626.4 155.10,642.6 155.59,637.3 156.07,646.5 156.55,644.5 157.03,644.2 157.51,640.1 157.99,644.0 158.47,650.0 158.96,657.9 159.44,657.7 159.92,653.4 160.40,651.7 160.88,650.3 161.36,651.4 161.84,671.1 162.32,661.4 162.81,658.8 163.29,657.8 163.77,661.0 164.25,651.0 164.73,660.7 165.21,665.5 165.69,675.5 166.18,677.3 166.66,677.3 167.14,674.7 167.62,662.3 168.10,671.9 168.58,679.4 169.06,681.0 169.55,673.6 170.03,678.9 170.51,683.4 170.99,672.2 171.47,678.3 171.95,683.2 172.43,687.7 172.92,682.4 173.40,689.4 173.88,688.2 174.36,686.1 174.84,685.0 175.32,692.0 175.80,694.7 176.29,697.5 176.77,697.6 177.25,696.7 177.73,691.7 178.21,694.9 178.69,698.0 179.17,702.0 179.66,699.7 180.14,701.9 180.62,705.0 181.10,697.5 181.58,700.2 182.06,705.0 182.54,707.0 183.02,706.5 183.51,708.6 183.99,706.8 184.47,706.9 184.95,705.0 185.43,710.1 185.91,710.9 186.39,711.8 186.88,711.9 187.36,713.4 187.84,710.8 188.32,710.9 188.80,715.2 189.28,716.4 189.76,714.4 190.25,715.5 190.73,714.7 191.21,713.8 191.69,712.9 192.17,716.0 192.65,717.3 193.13,716.1 193.62,717.1 194.10,716.7 194.58,714.8 195.06,714.3 195.54,716.5 196.02,717.9 196.50,718.0 196.99,717.2 197.47,716.8 197.95,715.8 198.43,714.5 198.91,717.5 199.39,719.4 199.87,718.0 200.36,718.6 200.84,717.7 201.32,715.7 201.80,716.3 202.28,717.6 202.76,718.6 203.24,717.1 203.72,718.1 204.21,718.5 204.69,715.7 205.17,716.5 205.65,719.4 206.13,720.0 206.61,719.5 207.09,718.7 207.58,718.6 208.06,716.9 208.54,716.3 209.02,719.4 209.50,719.5 209.98,720.0 210.46,720.0 210.95,720.4 211.43,718.6 211.91,718.5 212.39,720.1 212.87,721.4 213.35,721.0 213.83,721.4 214.32,720.7 214.80,719.2 215.28,719.0 215.76,720.2 216.24,720.7 216.72,721.7 217.20,721.9 217.69,720.7 218.17,719.5 218.65,719.5 219.13,722.6 219.61,721.2 220.09,722.3 220.57,723.1 221.05,721.8 221.54,720.6 222.02,720.3 222.50,722.7 222.98,722.9 223.46,722.7 223.94,723.0 224.42,723.0 224.91,720.0 225.39,721.4 225.87,723.2 226.35,723.0 226.83,723.6 227.31,723.7 227.79,724.3 228.28,721.4 228.76,721.6 229.24,724.1 229.24,727.4 228.76,726.8 228.28,726.9 227.79,726.4 227.31,726.8 226.83,727.0 226.35,726.5 225.87,726.9 225.39,726.9 224.91,726.6 224.42,726.5 223.94,726.9 223.46,726.3 222.98,726.3 222.50,726.3 222.02,726.0 221.54,725.5 221.05,725.9 220.57,725.5 220.09,725.9 219.61,725.9 219.13,725.6 218.65,725.7 218.17,725.4 217.69,725.8 217.20,725.7 216.72,725.1 216.24,724.9 215.76,725.4 215.28,724.9 214.80,725.7 214.32,725.1 213.83,725.0 213.35,725.0 212.87,724.1 212.39,724.6 211.91,724.7 211.43,724.9 210.95,725.0 210.46,724.4 209.98,724.5 209.50,725.1 209.02,723.9 208.54,724.1 208.06,723.9 207.58,724.4 207.09,724.2 206.61,723.5 206.13,724.3 205.65,723.8 205.17,723.9 204.69,724.1 204.21,724.3 203.72,724.7 203.24,723.0 202.76,722.6 202.28,724.3 201.80,722.9 201.32,723.1 200.84,722.6 200.36,722.5 199.87,723.2 199.39,722.8 198.91,723.4 198.43,723.3 197.95,722.7 197.47,723.0 196.99,722.8 196.50,723.0 196.02,722.9 195.54,722.4 195.06,722.1 194.58,722.3 194.10,723.0 193.62,722.5 193.13,722.6 192.65,720.9 192.17,722.0 191.69,721.8 191.21,722.2 190.73,721.3 190.25,721.4 189.76,720.5 189.28,722.3 188.80,720.1 188.32,720.1 187.84,720.7 187.36,719.4 186.88,719.8 186.39,719.4 185.91,720.7 185.43,717.7 184.95,717.7 184.47,717.6 183.99,717.1 183.51,716.3 183.02,715.5 182.54,715.0 182.06,715.0 181.58,713.9 181.10,714.3 180.62,713.7 180.14,712.2 179.66,712.0 179.17,710.6 178.69,711.1 178.21,711.2 177.73,711.7 177.25,709.3 176.77,710.1 176.29,708.3 175.80,707.7 175.32,706.4 174.84,707.2 174.36,706.6 173.88,707.3 173.40,704.7 172.92,705.8 172.43,703.6 171.95,705.5 171.47,703.3 170.99,707.4 170.51,703.3 170.03,703.1 169.55,705.4 169.06,703.0 168.58,704.9 168.10,706.5 167.62,698.2 167.14,696.8 166.66,696.3 166.18,702.7 165.69,699.9 165.21,692.6 164.73,696.6 164.25,692.0 163.77,698.5 163.29,696.5 162.81,696.8 162.32,691.0 161.84,692.6 161.36,692.4 160.88,688.6 160.40,691.9 159.92,685.5 159.44,691.4 158.96,690.0 158.47,693.5 157.99,687.1 157.51,686.2 157.03,686.6 156.55,687.8 156.07,684.8 155.59,687.2 155.10,686.4 154.62,680.2 154.14,680.1 153.66,676.0 153.18,684.6 152.70,679.9 152.22,686.1 151.73,682.7 151.25,678.7 150.77,674.9 150.29,681.8 149.81,674.7 149.33,680.6 148.85,677.2 148.36,682.7 147.88,673.9 147.40,673.5 146.92,675.4 146.44,690.5 145.96,674.8 145.48,673.0 144.99,679.9 144.51,679.1 144.03,675.4 143.55,685.0 143.07,679.2 142.59,683.0 142.11,692.1 141.62,676.8 141.14,689.0 140.66,680.2 140.18,686.9 139.70,682.0 139.22,688.2 138.74,690.0 138.26,697.8 137.77,692.6 137.29,684.2 136.81,691.6 136.33,695.5 135.85,687.1 135.37,672.4 134.89,691.7 134.40,692.9 133.92,691.9 133.44,691.5 132.96,683.1 132.48,698.5 132.00,700.8 131.52,702.1 131.03,695.7 130.55,681.0 130.07,689.0 129.59,691.1 129.11,688.2 128.63,693.7 128.15,707.2 127.66,696.9 127.18,694.1 126.70,699.0 126.22,695.2 125.74,698.3 125.26,695.4 124.78,699.2 124.29,698.5 123.81,699.4 123.33,700.0 122.85,703.2 122.37,699.1 121.89,701.9 121.41,701.1 120.93,708.2 120.44,711.1 119.96,698.9 119.48,711.2 119.00,707.7 118.52,699.9 118.04,711.7 117.56,704.8 117.07,703.9 116.59,710.8 116.11,710.9 115.63,707.1 115.15,707.8 114.67,707.8 114.19,710.6 113.70,711.8 113.22,708.1 112.74,712.8 112.26,716.4 111.78,718.6 111.30,714.0 110.82,718.0 110.33,715.5 109.85,719.3 109.37,719.2 108.89,718.2 108.41,717.8 107.93,717.8 107.45,719.9 106.96,720.6 106.48,720.0 106.00,720.6 105.52,717.8 105.04,722.8 104.56,723.6 104.08,723.9 103.59,724.3 103.11,721.2 102.63,724.2 102.15,723.7 101.67,725.3 101.19,724.8 100.71,725.6 100.23,726.9 99.74,725.7 99.26,726.3 98.78,726.1 98.30,727.0 97.82,726.2 97.34,727.3 96.86,727.6 96.37,726.6 95.89,726.6 95.41,726.7 94.93,727.1 94.45,727.2 93.97,726.7 93.49,727.2 93.00,726.9 92.52,727.2 92.04,726.7 91.56,726.5 91.08,726.7 90.60,727.0 90.12,726.9 89.63,727.3 89.15,727.6 88.67,726.8 88.19,727.1 87.71,726.7 87.23,726.4 86.75,727.9 86.26,727.3 85.78,727.0 85.30,726.6 84.82,726.9 84.34,727.2 83.86,726.8 83.38,727.8 82.89,727.2 82.41,726.6 81.93,727.5 81.45,727.4 80.97,726.8 80.49,727.6 80.01,727.4 79.53,726.9 79.04,727.5 78.56,727.0 78.08,726.3 77.60,727.1 77.12,726.7 76.64,727.6 76.16,726.9 75.67,727.2 75.19,727.5 74.71,726.8 74.23,726.9 73.75,727.3 73.27,727.2 72.79,727.1 72.30,726.9 71.82,726.7 71.34,727.0 70.86,727.2 70.38,726.4 69.90,726.9 69.42,726.4 68.93,727.3 68.45,726.3 67.97,727.3 67.49,726.3 67.01,727.0 66.53,727.3 66.05,727.1 65.56,727.3 65.08,726.8 64.60,727.5 64.12,726.9 63.64,727.2 63.16,727.2 62.68,727.7 62.20,727.6 61.71,727.0 61.23,727.1 60.75,726.9 60.27,727.2 59.79,727.4 59.31,726.5 58.83,726.7 58.34,726.9 57.86,726.8 57.38,725.5 56.90,727.9 56.42,725.9 55.94,727.1 55.46,727.8 54.97,728.1 54.49,726.5 54.01,728.7" fill="#E0957B" fill-opacity="0.95"/>
<path d="M54.0 720.0h0M54.5 711.1h0M55.0 715.5h0M55.5 718.5h0M55.9 720.1h0M56.4 717.0h0M56.9 716.9h0M57.4 725.1h0M57.9 720.5h0M58.3 724.5h0M58.8 717.6h0M59.3 721.7h0M59.8 722.0h0M60.3 722.3h0M60.8 724.5h0M61.2 721.0h0M61.7 726.0h0M62.2 722.8h0M62.7 719.1h0M63.2 725.7h0M63.6 724.1h0M64.1 722.3h0M64.6 724.7h0M65.1 722.2h0M65.6 720.5h0M66.0 722.7h0M66.5 724.1h0M67.0 723.8h0M67.5 720.7h0M68.0 710.6h0M68.5 723.5h0M68.9 724.8h0M69.4 719.2h0M69.9 723.0h0M70.4 724.4h0M70.9 725.0h0M71.3 722.9h0M71.8 724.3h0M72.3 726.1h0M72.8 724.9h0M73.3 724.9h0M73.7 726.7h0M74.2 726.0h0M74.7 727.8h0M75.2 724.8h0M75.7 726.5h0M76.2 727.3h0M76.6 727.8h0M77.1 727.8h0M77.6 723.7h0M78.1 725.3h0M78.6 722.2h0M79.0 723.5h0M79.5 724.2h0M80.0 725.8h0M80.5 723.7h0M81.0 723.8h0M81.5 719.5h0M81.9 724.7h0M82.4 726.8h0M82.9 722.1h0M83.4 724.9h0M83.9 725.0h0M84.3 726.0h0M84.8 726.9h0M85.3 727.8h0M85.8 726.7h0M86.3 725.1h0M86.7 725.0h0M87.2 724.6h0M87.7 725.9h0M88.2 724.8h0M88.7 727.0h0M89.2 725.6h0M89.6 724.5h0M90.1 725.4h0M90.6 724.6h0M91.1 725.6h0M91.6 726.5h0M92.0 725.2h0M92.5 723.3h0M93.0 725.6h0M93.5 723.3h0M94.0 725.5h0M94.4 726.1h0M94.9 726.0h0M95.4 724.2h0M95.9 725.6h0M96.4 720.5h0M96.9 725.8h0M97.3 720.1h0M97.8 723.2h0M98.3 721.8h0M98.8 720.7h0M99.3 721.8h0M99.7 722.4h0M100.2 722.3h0M100.7 720.9h0M101.2 721.3h0M101.7 716.9h0M102.2 721.5h0M102.6 718.0h0M103.1 716.3h0M103.6 717.5h0M104.1 716.6h0M104.6 716.1h0M105.0 712.0h0M105.5 712.8h0M106.0 709.8h0M106.5 711.3h0M107.0 715.5h0M107.4 715.7h0M107.9 715.2h0M108.4 719.8h0M108.9 708.3h0M109.4 704.4h0M109.9 704.8h0M110.3 705.3h0M110.8 705.1h0M111.3 704.4h0M111.8 716.9h0M112.3 698.9h0M112.7 704.3h0M113.2 706.6h0M113.7 706.6h0M114.2 708.6h0M114.7 696.6h0M115.1 696.4h0M115.6 701.6h0M116.1 697.5h0M116.6 700.6h0M117.1 711.8h0M117.6 692.6h0M118.0 705.4h0M118.5 702.9h0M119.0 689.3h0M119.5 683.8h0M120.0 690.8h0M120.4 688.8h0M120.9 675.0h0M121.4 687.9h0M121.9 679.6h0M122.4 678.5h0M122.9 690.1h0M123.3 708.8h0M123.8 676.9h0M124.3 675.4h0M124.8 666.5h0M125.3 666.8h0M125.7 690.4h0M126.2 677.2h0M126.7 671.6h0M127.2 658.8h0M127.7 654.2h0M128.1 686.8h0M128.6 669.7h0M129.1 678.8h0M129.6 675.9h0M130.1 664.1h0M130.6 662.0h0M131.0 652.1h0M131.5 661.3h0M132.0 669.4h0M132.5 647.1h0M133.0 677.4h0M133.4 684.8h0M133.9 671.4h0M134.4 656.3h0M134.9 634.7h0M135.4 647.9h0M135.8 670.1h0M136.3 652.4h0M136.8 665.0h0M137.3 647.6h0M137.8 651.9h0M138.3 653.6h0M138.7 656.6h0M139.2 708.6h0M139.7 656.9h0M140.2 664.6h0M140.7 643.6h0M141.1 667.3h0M141.6 670.5h0M142.1 638.4h0M142.6 661.6h0M143.1 644.8h0M143.6 645.6h0M144.0 659.9h0M144.5 673.7h0M145.0 673.0h0M145.5 644.7h0M146.0 670.0h0M146.4 637.2h0M146.9 646.5h0M147.4 656.7h0M147.9 654.4h0M148.4 664.6h0M148.8 675.3h0M149.3 649.9h0M149.8 701.0h0M150.3 647.8h0M150.8 673.3h0M151.3 672.2h0M151.7 658.5h0M152.2 658.6h0M152.7 666.5h0M153.2 674.3h0M153.7 679.1h0M154.1 647.1h0M154.6 662.9h0M155.1 669.0h0M155.6 660.3h0M156.1 668.2h0M156.5 682.4h0M157.0 673.6h0M157.5 630.6h0M158.0 667.2h0M158.5 703.7h0M159.0 677.4h0M159.4 661.9h0M159.9 675.7h0M160.4 687.1h0M160.9 673.6h0M161.4 673.2h0M161.8 676.7h0M162.3 677.4h0M162.8 680.1h0M163.3 659.9h0M163.8 682.4h0M164.3 689.6h0M164.7 676.5h0M165.2 682.4h0M165.7 696.6h0M166.2 684.4h0M166.7 683.5h0M167.1 685.2h0M167.6 685.4h0M168.1 660.0h0M168.6 699.8h0M169.1 681.1h0M169.5 684.8h0M170.0 695.3h0M170.5 702.2h0M171.0 701.3h0M171.5 687.0h0M172.0 704.7h0M172.4 678.8h0M172.9 696.6h0M173.4 700.7h0M173.9 677.3h0M174.4 694.8h0M174.8 706.9h0M175.3 698.0h0M175.8 693.5h0M176.3 712.9h0M176.8 711.2h0M177.2 701.6h0M177.7 708.0h0M178.2 696.7h0M178.7 721.8h0M179.2 709.9h0M179.7 707.6h0M180.1 711.0h0M180.6 702.9h0M181.1 709.8h0M181.6 720.9h0M182.1 700.5h0M182.5 710.0h0M183.0 709.8h0M183.5 707.8h0M184.0 691.9h0M184.5 702.0h0M185.0 708.7h0M185.4 708.3h0M185.9 701.4h0M186.4 718.0h0M186.9 711.7h0M187.4 710.4h0M187.8 720.0h0M188.3 727.5h0M188.8 720.3h0M189.3 719.1h0M189.8 718.3h0M190.2 722.6h0M190.7 726.6h0M191.2 715.5h0M191.7 719.1h0M192.2 725.9h0M192.7 724.9h0M193.1 722.2h0M193.6 719.1h0M194.1 721.5h0M194.6 712.2h0M195.1 725.5h0M195.5 723.4h0M196.0 718.1h0M196.5 726.4h0M197.0 718.6h0M197.5 722.1h0M197.9 725.5h0M198.4 719.3h0M198.9 721.8h0M199.4 720.4h0M199.9 719.0h0M200.4 725.2h0M200.8 720.0h0M201.3 725.9h0M201.8 727.8h0M202.3 720.2h0M202.8 726.5h0M203.2 722.8h0M203.7 725.2h0M204.2 720.6h0M204.7 726.8h0M205.2 726.7h0M205.7 723.3h0M206.1 717.7h0M206.6 726.9h0M207.1 724.5h0M207.6 725.5h0M208.1 727.6h0M208.5 723.7h0M209.0 725.0h0M209.5 726.8h0M210.0 720.9h0M210.5 727.0h0M210.9 721.0h0M211.4 723.2h0M211.9 722.2h0M212.4 721.0h0M212.9 725.1h0M213.4 721.2h0M213.8 727.4h0M214.3 721.6h0M214.8 725.8h0M215.3 723.8h0M215.8 721.7h0M216.2 726.6h0M216.7 722.4h0M217.2 722.2h0M217.7 724.7h0M218.2 722.3h0M218.6 724.4h0M219.1 723.9h0M219.6 724.0h0M220.1 722.6h0M220.6 727.8h0M221.1 721.5h0M221.5 724.8h0M222.0 725.4h0M222.5 725.7h0M223.0 727.8h0M223.5 727.6h0M223.9 724.5h0M224.4 725.5h0M224.9 723.3h0M225.4 722.9h0M225.9 723.3h0M226.4 723.9h0M226.8 723.9h0M227.3 726.2h0M227.8 718.6h0M228.3 722.8h0M228.8 723.3h0M229.2 724.0h0M138.5 627.0h0M137.0 696.6h0M144.0 700.0h0M161.0 702.5h0" stroke="#111" stroke-opacity="0.95" stroke-width="4.10" stroke-linecap="round" fill="none"/>
<polygon points="294.02,708.9 294.51,705.7 295.01,714.6 295.50,715.3 296.00,714.2 296.50,712.4 296.99,714.1 297.49,719.9 297.98,718.6 298.48,720.2 298.97,720.5 299.47,719.8 299.96,715.8 300.46,715.8 300.96,720.8 301.45,719.5 301.95,721.1 302.44,721.3 302.94,722.0 303.43,715.7 303.93,716.5 304.42,719.3 304.92,720.9 305.41,720.3 305.91,720.5 306.41,721.3 306.90,718.3 307.40,717.3 307.89,721.4 308.39,720.7 308.88,721.3 309.38,719.8 309.87,721.2 310.37,716.6 310.87,716.3 311.36,720.1 311.86,721.5 312.35,720.3 312.85,720.8 313.34,720.2 313.84,716.6 314.33,716.3 314.83,719.7 315.32,720.7 315.82,722.1 316.32,720.8 316.81,721.0 317.31,717.1 317.80,716.2 318.30,721.3 318.79,721.6 319.29,720.2 319.78,720.2 320.28,722.2 320.78,716.6 321.27,716.4 321.77,720.6 322.26,722.6 322.76,722.1 323.25,720.8 323.75,721.5 324.24,716.8 324.74,717.7 325.23,722.3 325.73,722.1 326.23,721.9 326.72,721.5 327.22,721.9 327.71,717.5 328.21,718.6 328.70,722.3 329.20,721.2 329.69,721.3 330.19,721.0 330.69,721.8 331.18,717.4 331.68,718.1 332.17,722.5 332.67,721.9 333.16,722.7 333.66,720.0 334.15,718.0 334.65,713.4 335.15,713.8 335.64,717.4 336.14,714.6 336.63,714.2 337.13,714.1 337.62,713.5 338.12,706.5 338.61,702.6 339.11,709.0 339.60,710.6 340.10,706.8 340.60,706.0 341.09,705.1 341.59,694.7 342.08,690.5 342.58,696.8 343.07,697.5 343.57,700.6 344.06,694.4 344.56,695.2 345.06,684.5 345.55,683.9 346.05,690.9 346.54,689.6 347.04,685.8 347.53,681.8 348.03,686.1 348.52,662.1 349.02,660.7 349.51,676.8 350.01,674.7 350.51,674.9 351.00,661.8 351.50,669.9 351.99,645.0 352.49,646.5 352.98,667.8 353.48,670.8 353.97,660.6 354.47,660.5 354.97,647.3 355.46,628.9 355.96,621.2 356.45,642.3 356.95,657.1 357.44,644.2 357.94,649.6 358.43,641.1 358.93,621.0 359.42,615.3 359.92,633.3 360.42,642.4 360.91,634.4 361.41,645.4 361.90,631.3 362.40,619.0 362.89,617.4 363.39,647.0 363.88,637.9 364.38,643.8 364.88,643.5 365.37,639.7 365.87,610.8 366.36,601.7 366.86,632.1 367.35,641.6 367.85,634.7 368.34,636.2 368.84,628.3 369.33,608.4 369.83,626.8 370.33,630.8 370.82,634.3 371.32,627.9 371.81,640.7 372.31,625.9 372.80,615.4 373.30,606.1 373.79,630.1 374.29,626.2 374.79,633.0 375.28,624.9 375.78,626.0 376.27,611.1 376.77,607.1 377.26,621.7 377.76,631.9 378.25,617.0 378.75,624.2 379.24,613.2 379.74,602.3 380.24,604.2 380.73,603.1 381.23,622.9 381.72,612.7 382.22,621.5 382.71,616.0 383.21,597.1 383.70,616.9 384.20,612.7 384.70,610.1 385.19,603.6 385.69,611.0 386.18,616.5 386.68,594.4 387.17,598.9 387.67,614.1 388.16,621.8 388.66,616.9 389.16,621.8 389.65,624.9 390.15,612.9 390.64,605.4 391.14,619.4 391.63,609.8 392.13,618.2 392.62,627.2 393.12,622.1 393.61,620.6 394.11,615.9 394.61,628.1 395.10,628.8 395.60,626.7 396.09,630.0 396.59,642.6 397.08,629.9 397.58,631.6 398.07,633.2 398.57,630.1 399.07,636.6 399.56,627.7 400.06,632.1 400.55,629.6 401.05,627.4 401.54,637.1 402.04,641.2 402.53,642.5 403.03,627.9 403.52,640.6 404.02,634.1 404.52,629.3 405.01,647.2 405.51,637.7 406.00,642.3 406.50,653.1 406.99,643.9 407.49,644.0 407.98,634.1 408.48,647.7 408.98,640.8 409.47,649.5 409.97,648.2 410.46,644.6 410.96,637.7 411.45,634.0 411.95,655.9 412.44,652.8 412.94,658.1 413.43,659.2 413.93,662.4 414.43,652.6 414.92,647.2 415.42,652.3 415.91,668.0 416.41,666.3 416.90,664.0 417.40,665.3 417.89,656.3 418.39,656.2 418.89,665.0 419.38,670.5 419.88,670.5 420.37,663.8 420.87,664.4 421.36,659.1 421.86,659.0 422.35,668.0 422.85,670.5 423.34,670.2 423.84,671.6 424.34,682.6 424.83,675.1 425.33,668.5 425.82,684.6 426.32,681.8 426.81,677.9 427.31,686.2 427.80,683.3 428.30,676.0 428.80,676.3 429.29,680.4 429.79,690.0 430.28,687.4 430.78,691.8 431.27,688.3 431.77,681.8 432.26,676.7 432.76,691.3 433.25,687.5 433.75,688.5 434.25,688.7 434.74,696.1 435.24,690.1 435.73,686.1 436.23,694.4 436.72,697.7 437.22,695.5 437.71,694.3 438.21,698.3 438.71,696.6 439.20,692.2 439.70,699.8 440.19,697.3 440.69,700.1 441.18,702.5 441.68,700.1 442.17,696.9 442.67,698.2 443.17,704.8 443.66,706.0 444.16,703.0 444.65,703.6 445.15,705.3 445.64,700.8 446.14,701.9 446.63,705.7 447.13,706.8 447.62,707.7 448.12,706.9 448.62,709.0 449.11,705.5 449.61,709.0 450.10,711.0 450.60,709.7 451.09,712.3 451.59,709.3 452.08,710.6 452.58,705.8 453.08,708.2 453.57,710.6 454.07,712.1 454.56,711.9 455.06,712.0 455.55,713.0 456.05,710.2 456.54,710.0 457.04,714.7 457.53,713.1 458.03,715.0 458.53,712.4 459.02,712.0 459.52,711.7 460.01,709.7 460.51,715.2 461.00,718.8 461.50,716.8 461.99,717.2 462.49,717.1 462.99,714.0 463.48,712.9 463.98,718.1 464.47,717.6 464.97,717.6 465.46,717.7 465.96,717.4 466.45,713.9 466.95,715.4 467.44,718.1 467.94,720.0 468.44,719.9 468.93,720.0 469.43,720.3 469.92,716.3 470.42,716.9 470.91,720.6 471.41,720.6 471.90,720.3 472.40,721.1 472.90,720.5 473.39,719.1 473.89,718.3 474.38,721.4 474.38,726.9 473.89,727.6 473.39,726.6 472.90,726.9 472.40,726.6 471.90,725.8 471.41,725.4 470.91,725.2 470.42,725.5 469.92,725.4 469.43,725.3 468.93,724.6 468.44,724.7 467.94,725.3 467.44,724.9 466.95,724.5 466.45,724.1 465.96,724.2 465.46,723.5 464.97,724.1 464.47,724.3 463.98,723.3 463.48,722.2 462.99,723.2 462.49,723.1 461.99,722.4 461.50,723.1 461.00,721.3 460.51,722.5 460.01,722.3 459.52,721.6 459.02,721.6 458.53,722.8 458.03,720.7 457.53,720.6 457.04,720.8 456.54,721.3 456.05,719.1 455.55,720.4 455.06,720.4 454.56,718.8 454.07,719.0 453.57,721.1 453.08,719.1 452.58,719.1 452.08,718.5 451.59,719.4 451.09,717.9 450.60,718.3 450.10,718.0 449.61,718.4 449.11,717.6 448.62,717.5 448.12,717.3 447.62,717.2 447.13,716.9 446.63,716.3 446.14,714.8 445.64,715.0 445.15,715.0 444.65,715.6 444.16,714.2 443.66,715.2 443.17,716.0 442.67,715.3 442.17,713.6 441.68,714.1 441.18,713.3 440.69,713.3 440.19,712.9 439.70,712.7 439.20,710.7 438.71,711.4 438.21,711.3 437.71,711.9 437.22,711.5 436.72,710.1 436.23,714.6 435.73,710.7 435.24,712.4 434.74,709.9 434.25,709.8 433.75,711.3 433.25,710.2 432.76,707.0 432.26,708.1 431.77,706.9 431.27,704.6 430.78,708.1 430.28,709.3 429.79,706.9 429.29,703.6 428.80,707.0 428.30,704.6 427.80,703.2 427.31,704.3 426.81,704.7 426.32,697.2 425.82,698.4 425.33,700.6 424.83,702.2 424.34,701.8 423.84,699.9 423.34,690.8 422.85,696.0 422.35,696.1 421.86,698.1 421.36,694.2 420.87,696.0 420.37,693.7 419.88,696.5 419.38,693.9 418.89,692.0 418.39,692.3 417.89,692.6 417.40,688.7 416.90,690.9 416.41,690.5 415.91,683.6 415.42,687.9 414.92,685.2 414.43,686.4 413.93,687.6 413.43,687.2 412.94,683.9 412.44,683.6 411.95,683.2 411.45,685.6 410.96,677.6 410.46,678.9 409.97,678.9 409.47,680.6 408.98,673.7 408.48,678.0 407.98,676.1 407.49,679.1 406.99,679.2 406.50,677.9 406.00,674.9 405.51,675.9 405.01,677.5 404.52,678.0 404.02,668.6 403.52,669.1 403.03,672.7 402.53,672.9 402.04,670.6 401.54,675.1 401.05,665.5 400.55,668.0 400.06,667.8 399.56,672.0 399.07,666.4 398.57,671.1 398.07,665.9 397.58,671.4 397.08,669.6 396.59,667.4 396.09,666.7 395.60,671.5 395.10,659.3 394.61,659.3 394.11,660.3 393.61,662.5 393.12,659.2 392.62,662.6 392.13,662.6 391.63,653.9 391.14,657.0 390.64,657.4 390.15,656.7 389.65,659.8 389.16,659.3 388.66,654.8 388.16,663.3 387.67,659.9 387.17,655.6 386.68,650.5 386.18,652.5 385.69,655.4 385.19,662.0 384.70,654.7 384.20,652.0 383.70,657.1 383.21,651.3 382.71,657.3 382.22,656.6 381.72,669.6 381.23,658.5 380.73,659.6 380.24,659.7 379.74,658.6 379.24,660.4 378.75,660.9 378.25,658.3 377.76,664.8 377.26,662.9 376.77,659.2 376.27,663.7 375.78,664.6 375.28,662.7 374.79,674.0 374.29,662.8 373.79,664.7 373.30,665.1 372.80,666.3 372.31,665.8 371.81,668.6 371.32,665.0 370.82,666.3 370.33,669.4 369.83,670.9 369.33,670.2 368.84,668.5 368.34,678.1 367.85,672.7 367.35,674.3 366.86,673.4 366.36,671.5 365.87,676.9 365.37,674.8 364.88,672.9 364.38,679.0 363.88,673.1 363.39,674.9 362.89,680.3 362.40,677.0 361.90,678.9 361.41,675.3 360.91,686.4 360.42,681.3 359.92,686.4 359.42,687.0 358.93,685.3 358.43,685.1 357.94,685.6 357.44,681.8 356.95,684.1 356.45,689.2 355.96,687.1 355.46,688.0 354.97,688.5 354.47,692.2 353.97,694.7 353.48,690.7 352.98,695.7 352.49,696.6 351.99,698.8 351.50,702.8 351.00,696.1 350.51,704.1 350.01,704.6 349.51,698.1 349.02,700.5 348.52,703.3 348.03,703.9 347.53,704.8 347.04,705.9 346.54,710.5 346.05,710.6 345.55,712.3 345.06,713.6 344.56,715.6 344.06,713.6 343.57,715.1 343.07,717.1 342.58,718.0 342.08,714.8 341.59,717.7 341.09,719.3 340.60,715.8 340.10,718.3 339.60,719.8 339.11,719.9 338.61,722.0 338.12,722.5 337.62,722.4 337.13,721.6 336.63,723.0 336.14,723.5 335.64,722.4 335.15,724.0 334.65,723.1 334.15,725.1 333.66,725.7 333.16,725.8 332.67,726.4 332.17,725.8 331.68,726.6 331.18,726.2 330.69,725.8 330.19,726.2 329.69,726.0 329.20,725.9 328.70,725.9 328.21,725.2 327.71,725.9 327.22,726.0 326.72,726.5 326.23,725.9 325.73,725.4 325.23,726.0 324.74,726.0 324.24,725.5 323.75,725.8 323.25,725.9 322.76,726.2 322.26,727.1 321.77,726.7 321.27,726.3 320.78,725.9 320.28,726.2 319.78,725.5 319.29,726.9 318.79,726.1 318.30,725.8 317.80,726.5 317.31,725.8 316.81,726.5 316.32,725.9 315.82,726.1 315.32,725.7 314.83,725.9 314.33,726.1 313.84,726.3 313.34,725.9 312.85,725.9 312.35,725.9 311.86,725.8 311.36,725.8 310.87,726.5 310.37,725.8 309.87,724.9 309.38,726.8 308.88,726.5 308.39,725.6 307.89,726.0 307.40,725.5 306.90,725.6 306.41,725.6 305.91,725.7 305.41,726.5 304.92,725.7 304.42,726.4 303.93,726.3 303.43,725.3 302.94,726.0 302.44,725.2 301.95,726.1 301.45,726.3 300.96,726.2 300.46,725.6 299.96,725.6 299.47,726.4 298.97,725.9 298.48,726.7 297.98,726.0 297.49,726.6 296.99,725.4 296.50,727.3 296.00,727.4 295.50,725.9 295.01,725.6 294.51,727.4 294.02,728.4" fill="#E0957B" fill-opacity="0.95"/>
<path d="M294.0 710.6h0M294.5 712.2h0M295.0 707.2h0M295.5 711.8h0M296.0 711.4h0M296.5 719.0h0M297.0 717.0h0M297.5 714.4h0M298.0 716.4h0M298.5 720.2h0M299.0 716.6h0M299.5 718.3h0M300.0 719.4h0M300.5 723.7h0M301.0 722.3h0M301.5 717.2h0M301.9 718.1h0M302.4 717.5h0M302.9 721.2h0M303.4 720.9h0M303.9 724.1h0M304.4 722.8h0M304.9 718.9h0M305.4 719.3h0M305.9 716.6h0M306.4 723.1h0M306.9 723.6h0M307.4 721.5h0M307.9 724.9h0M308.4 716.6h0M308.9 720.1h0M309.4 720.2h0M309.9 723.4h0M310.4 717.5h0M310.9 725.9h0M311.4 722.5h0M311.9 728.3h0M312.4 722.5h0M312.8 721.4h0M313.3 721.6h0M313.8 722.4h0M314.3 722.7h0M314.8 719.0h0M315.3 723.1h0M315.8 724.5h0M316.3 726.5h0M316.8 719.7h0M317.3 723.5h0M317.8 726.5h0M318.3 721.4h0M318.8 720.3h0M319.3 721.0h0M319.8 726.7h0M320.3 720.4h0M320.8 719.0h0M321.3 725.7h0M321.8 720.5h0M322.3 719.6h0M322.8 720.8h0M323.3 721.5h0M323.7 720.7h0M324.2 722.0h0M324.7 726.3h0M325.2 725.9h0M325.7 721.6h0M326.2 722.1h0M326.7 722.9h0M327.2 720.8h0M327.7 723.8h0M328.2 723.5h0M328.7 723.1h0M329.2 718.9h0M329.7 722.1h0M330.2 723.5h0M330.7 722.2h0M331.2 725.4h0M331.7 722.6h0M332.2 722.5h0M332.7 721.4h0M333.2 723.2h0M333.7 723.1h0M334.2 717.7h0M334.6 720.9h0M335.1 722.4h0M335.6 718.6h0M336.1 719.4h0M336.6 718.7h0M337.1 711.9h0M337.6 714.6h0M338.1 708.5h0M338.6 712.6h0M339.1 711.8h0M339.6 703.0h0M340.1 711.4h0M340.6 703.6h0M341.1 705.9h0M341.6 709.6h0M342.1 708.4h0M342.6 709.3h0M343.1 695.8h0M343.6 709.6h0M344.1 693.3h0M344.6 691.3h0M345.1 699.3h0M345.6 696.5h0M346.0 684.1h0M346.5 684.8h0M347.0 675.7h0M347.5 674.0h0M348.0 688.2h0M348.5 689.3h0M349.0 684.2h0M349.5 687.9h0M350.0 690.2h0M350.5 686.9h0M351.0 673.9h0M351.5 680.7h0M352.0 662.7h0M352.5 676.5h0M353.0 669.6h0M353.5 662.7h0M354.0 682.7h0M354.5 661.3h0M355.0 665.9h0M355.5 658.8h0M356.0 682.0h0M356.5 651.9h0M356.9 679.2h0M357.4 660.2h0M357.9 663.7h0M358.4 672.5h0M358.9 646.5h0M359.4 654.8h0M359.9 653.0h0M360.4 657.2h0M360.9 655.9h0M361.4 653.6h0M361.9 649.1h0M362.4 644.6h0M362.9 643.6h0M363.4 652.6h0M363.9 659.2h0M364.4 653.0h0M364.9 650.0h0M365.4 655.6h0M365.9 645.5h0M366.4 633.7h0M366.9 647.8h0M367.4 665.5h0M367.8 652.9h0M368.3 630.6h0M368.8 647.0h0M369.3 644.3h0M369.8 636.9h0M370.3 655.0h0M370.8 634.0h0M371.3 650.9h0M371.8 641.7h0M372.3 656.1h0M372.8 632.2h0M373.3 633.2h0M373.8 650.8h0M374.3 652.7h0M374.8 642.1h0M375.3 625.3h0M375.8 654.3h0M376.3 627.7h0M376.8 631.2h0M377.3 647.0h0M377.8 638.0h0M378.3 645.7h0M378.7 646.7h0M379.2 646.0h0M379.7 648.8h0M380.2 628.3h0M380.7 634.8h0M381.2 650.2h0M381.7 638.6h0M382.2 673.7h0M382.7 640.0h0M383.2 637.2h0M383.7 641.3h0M384.2 669.7h0M384.7 652.9h0M385.2 649.8h0M385.7 639.8h0M386.2 646.5h0M386.7 641.7h0M387.2 625.4h0M387.7 652.4h0M388.2 651.1h0M388.7 646.1h0M389.2 643.8h0M389.7 656.2h0M390.1 663.8h0M390.6 658.0h0M391.1 671.9h0M391.6 671.2h0M392.1 666.4h0M392.6 661.8h0M393.1 668.3h0M393.6 671.5h0M394.1 674.8h0M394.6 674.0h0M395.1 668.5h0M395.6 669.0h0M396.1 673.0h0M396.6 682.8h0M397.1 667.3h0M397.6 671.7h0M398.1 670.2h0M398.6 665.0h0M399.1 677.0h0M399.6 681.4h0M400.1 681.1h0M400.6 676.4h0M401.0 688.4h0M401.5 676.6h0M402.0 675.9h0M402.5 676.4h0M403.0 676.6h0M403.5 683.8h0M404.0 679.7h0M404.5 688.8h0M405.0 678.4h0M405.5 677.6h0M406.0 669.1h0M406.5 680.1h0M407.0 681.3h0M407.5 678.6h0M408.0 672.1h0M408.5 688.3h0M409.0 687.0h0M409.5 681.7h0M410.0 680.2h0M410.5 684.2h0M411.0 688.1h0M411.5 687.3h0M411.9 686.7h0M412.4 696.2h0M412.9 677.8h0M413.4 674.1h0M413.9 679.9h0M414.4 681.7h0M414.9 676.8h0M415.4 677.5h0M415.9 683.5h0M416.4 692.4h0M416.9 696.4h0M417.4 696.0h0M417.9 680.9h0M418.4 691.9h0M418.9 690.1h0M419.4 686.7h0M419.9 683.7h0M420.4 680.9h0M420.9 677.4h0M421.4 687.2h0M421.9 700.1h0M422.4 700.0h0M422.8 677.2h0M423.3 690.5h0M423.8 695.0h0M424.3 693.9h0M424.8 686.4h0M425.3 699.7h0M425.8 684.1h0M426.3 694.5h0M426.8 702.8h0M427.3 682.5h0M427.8 706.2h0M428.3 689.0h0M428.8 698.1h0M429.3 686.7h0M429.8 678.7h0M430.3 683.9h0M430.8 696.7h0M431.3 690.1h0M431.8 695.9h0M432.3 696.6h0M432.8 691.1h0M433.3 702.4h0M433.8 706.0h0M434.2 691.8h0M434.7 692.7h0M435.2 692.5h0M435.7 712.2h0M436.2 691.6h0M436.7 702.7h0M437.2 698.8h0M437.7 700.0h0M438.2 707.2h0M438.7 707.8h0M439.2 705.9h0M439.7 716.6h0M440.2 698.3h0M440.7 714.4h0M441.2 703.9h0M441.7 704.0h0M442.2 699.4h0M442.7 695.4h0M443.2 715.1h0M443.7 693.7h0M444.2 717.6h0M444.7 720.4h0M445.1 708.1h0M445.6 707.5h0M446.1 710.1h0M446.6 718.1h0M447.1 695.5h0M447.6 707.4h0M448.1 695.2h0M448.6 705.5h0M449.1 706.0h0M449.6 719.9h0M450.1 710.0h0M450.6 692.3h0M451.1 719.9h0M451.6 697.9h0M452.1 710.2h0M452.6 721.3h0M453.1 709.4h0M453.6 718.5h0M454.1 714.6h0M454.6 711.0h0M455.1 708.0h0M455.6 711.5h0M456.0 719.9h0M456.5 714.8h0M457.0 716.1h0M457.5 720.3h0M458.0 717.7h0M458.5 718.8h0M459.0 715.5h0M459.5 715.3h0M460.0 721.1h0M460.5 712.0h0M461.0 718.5h0M461.5 717.8h0M462.0 714.4h0M462.5 718.7h0M463.0 722.2h0M463.5 715.5h0M464.0 720.6h0M464.5 718.0h0M465.0 724.6h0M465.5 718.5h0M466.0 720.8h0M466.5 723.3h0M466.9 721.3h0M467.4 728.3h0M467.9 725.8h0M468.4 714.5h0M468.9 723.0h0M469.4 720.0h0M469.9 722.5h0M470.4 718.3h0M470.9 717.8h0M471.4 717.2h0M471.9 718.3h0M472.4 721.1h0M472.9 717.5h0M473.4 718.6h0M473.9 721.2h0M474.4 723.7h0M307.0 711.0h0M335.0 706.0h0M348.5 648.0h0M357.0 632.0h0M371.0 625.5h0M376.0 629.0h0M383.0 623.0h0M384.0 628.0h0" stroke="#111" stroke-opacity="0.95" stroke-width="4.10" stroke-linecap="round" fill="none"/>
<polygon points="533.77,698.6 534.28,699.3 534.79,703.9 535.30,699.9 535.81,703.5 536.31,698.0 536.82,701.4 537.33,702.8 537.84,698.1 538.35,702.2 538.86,702.9 539.37,704.7 539.88,699.6 540.39,700.0 540.90,703.1 541.41,703.3 541.92,702.1 542.43,702.9 542.93,704.3 543.44,698.1 543.95,699.1 544.46,703.0 544.97,703.7 545.48,702.1 545.99,703.2 546.50,699.4 547.01,698.2 547.52,698.5 548.03,699.9 548.54,700.7 549.05,699.1 549.55,699.6 550.06,702.0 550.57,699.9 551.08,697.7 551.59,702.4 552.10,701.1 552.61,701.7 553.12,700.7 553.63,702.2 554.14,698.1 554.65,698.5 555.16,699.5 555.67,699.2 556.17,703.2 556.68,700.2 557.19,701.3 557.70,699.4 558.21,701.3 558.72,703.0 559.23,699.6 559.74,705.3 560.25,704.3 560.76,702.2 561.27,700.4 561.78,702.6 562.29,704.5 562.79,703.4 563.30,704.7 563.81,705.2 564.32,703.6 564.83,700.5 565.34,701.2 565.85,702.4 566.36,702.7 566.87,702.2 567.38,702.6 567.89,702.7 568.40,698.5 568.91,696.7 569.42,699.7 569.92,702.7 570.43,700.2 570.94,700.9 571.45,701.2 571.96,695.8 572.47,694.6 572.98,699.8 573.49,698.6 574.00,698.6 574.51,700.5 575.02,697.4 575.53,692.5 576.04,690.4 576.54,696.5 577.05,693.7 577.56,694.1 578.07,696.4 578.58,694.3 579.09,679.0 579.60,676.3 580.11,693.1 580.62,694.0 581.13,692.3 581.64,696.4 582.15,692.7 582.66,680.7 583.16,678.5 583.67,692.5 584.18,689.3 584.69,692.4 585.20,689.7 585.71,689.2 586.22,682.7 586.73,681.0 587.24,688.4 587.75,688.8 588.26,686.1 588.77,689.2 589.28,684.2 589.78,676.9 590.29,675.3 590.80,687.9 591.31,684.0 591.82,683.1 592.33,679.7 592.84,678.2 593.35,671.2 593.86,671.3 594.37,682.9 594.88,685.9 595.39,673.0 595.90,675.6 596.40,676.6 596.91,661.2 597.42,664.0 597.93,677.4 598.44,669.0 598.95,682.4 599.46,670.2 599.97,668.8 600.48,662.7 600.99,657.9 601.50,671.9 602.01,672.2 602.52,670.7 603.02,660.5 603.53,668.6 604.04,660.2 604.55,660.5 605.06,660.2 605.57,664.5 606.08,659.6 606.59,662.7 607.10,664.2 607.61,647.7 608.12,656.9 608.63,670.2 609.14,656.8 609.65,665.6 610.15,661.0 610.66,652.6 611.17,654.0 611.68,639.4 612.19,657.9 612.70,649.9 613.21,660.9 613.72,651.6 614.23,661.0 614.74,640.8 615.25,647.7 615.76,652.0 616.27,651.0 616.77,653.2 617.28,652.3 617.79,647.4 618.30,641.5 618.81,651.6 619.32,651.1 619.83,649.2 620.34,648.6 620.85,645.5 621.36,659.0 621.87,638.2 622.38,636.6 622.89,641.5 623.39,646.8 623.90,645.1 624.41,647.2 624.92,655.0 625.43,638.8 625.94,629.2 626.45,628.1 626.96,631.0 627.47,634.1 627.98,643.2 628.49,644.8 629.00,623.9 629.51,640.1 630.01,637.4 630.52,639.2 631.03,629.8 631.54,640.1 632.05,627.9 632.56,624.4 633.07,634.2 633.58,635.9 634.09,637.8 634.60,631.7 635.11,641.8 635.62,641.0 636.13,641.4 636.63,628.5 637.14,640.6 637.65,629.1 638.16,647.0 638.67,644.3 639.18,639.7 639.69,630.8 640.20,626.0 640.71,633.0 641.22,639.8 641.73,636.9 642.24,642.5 642.75,645.1 643.25,643.9 643.76,632.6 644.27,641.7 644.78,640.7 645.29,639.4 645.80,645.0 646.31,650.4 646.82,627.3 647.33,634.8 647.84,641.5 648.35,646.2 648.86,638.4 649.37,651.7 649.88,641.1 650.38,635.4 650.89,645.2 651.40,649.3 651.91,645.7 652.42,644.1 652.93,656.6 653.44,643.4 653.95,645.1 654.46,633.7 654.97,654.2 655.48,641.1 655.99,650.9 656.50,653.2 657.00,649.9 657.51,644.0 658.02,643.6 658.53,645.1 659.04,659.3 659.55,656.6 660.06,645.8 660.57,651.9 661.08,650.5 661.59,643.1 662.10,658.8 662.61,662.2 663.12,649.3 663.62,654.8 664.13,658.4 664.64,646.1 665.15,648.6 665.66,658.0 666.17,656.9 666.68,668.0 667.19,660.9 667.70,650.5 668.21,654.7 668.72,645.1 669.23,662.3 669.74,668.9 670.24,657.8 670.75,667.1 671.26,661.2 671.77,655.4 672.28,650.9 672.79,671.9 673.30,664.7 673.81,676.4 674.32,662.3 674.83,670.6 675.34,667.3 675.85,668.1 676.36,666.3 676.86,672.6 677.37,674.0 677.88,676.3 678.39,674.5 678.90,672.9 679.41,667.5 679.92,676.3 680.43,676.3 680.94,681.7 681.45,678.2 681.96,673.0 682.47,674.4 682.98,678.8 683.48,680.8 683.99,685.2 684.50,681.8 685.01,684.9 685.52,684.9 686.03,678.4 686.54,676.2 687.05,685.7 687.56,680.2 688.07,683.8 688.58,679.6 689.09,686.3 689.60,682.8 690.11,684.5 690.61,687.7 691.12,686.5 691.63,686.4 692.14,692.3 692.65,689.1 693.16,682.9 693.67,686.9 694.18,689.7 694.69,695.7 695.20,691.7 695.71,692.0 696.22,694.8 696.73,685.7 697.23,693.4 697.74,693.8 698.25,693.4 698.76,688.4 699.27,694.3 699.78,693.9 700.29,690.2 700.80,688.1 701.31,696.4 701.82,698.0 702.33,701.8 702.84,699.9 703.35,698.7 703.85,694.7 704.36,694.3 704.87,695.9 705.38,701.7 705.89,703.7 706.40,700.0 706.91,702.2 707.42,699.4 707.93,696.9 708.44,703.9 708.95,703.0 709.46,706.7 709.97,704.3 710.47,706.2 710.98,697.4 711.49,700.0 712.00,701.5 712.51,705.4 713.02,705.6 713.53,705.8 714.04,706.1 714.55,701.4 715.06,702.1 715.57,703.9 716.08,702.9 716.59,705.0 717.09,703.3 717.60,707.0 718.11,702.5 718.62,700.5 719.13,708.3 719.13,720.4 718.62,719.2 718.11,718.4 717.60,718.6 717.09,718.4 716.59,718.7 716.08,718.7 715.57,719.1 715.06,719.3 714.55,719.5 714.04,718.8 713.53,716.6 713.02,714.0 712.51,716.3 712.00,718.4 711.49,716.6 710.98,715.4 710.47,718.2 709.97,714.8 709.46,716.4 708.95,716.6 708.44,715.5 707.93,715.5 707.42,716.0 706.91,713.3 706.40,714.0 705.89,716.7 705.38,713.6 704.87,714.3 704.36,713.2 703.85,714.6 703.35,710.4 702.84,712.5 702.33,712.7 701.82,712.1 701.31,711.4 700.80,709.5 700.29,710.0 699.78,711.9 699.27,711.2 698.76,708.8 698.25,707.9 697.74,709.3 697.23,706.7 696.73,709.2 696.22,707.8 695.71,709.1 695.20,706.3 694.69,704.9 694.18,709.0 693.67,703.3 693.16,706.7 692.65,708.1 692.14,707.0 691.63,703.8 691.12,704.6 690.61,705.7 690.11,706.2 689.60,702.0 689.09,705.7 688.58,704.2 688.07,704.3 687.56,706.3 687.05,705.3 686.54,703.5 686.03,702.0 685.52,702.2 685.01,699.4 684.50,697.5 683.99,701.2 683.48,701.1 682.98,698.7 682.47,700.1 681.96,700.3 681.45,697.1 680.94,696.0 680.43,697.4 679.92,698.4 679.41,695.0 678.90,699.5 678.39,697.0 677.88,698.4 677.37,694.9 676.86,696.6 676.36,695.1 675.85,696.9 675.34,695.6 674.83,695.7 674.32,694.1 673.81,700.9 673.30,695.7 672.79,690.7 672.28,690.3 671.77,696.6 671.26,693.6 670.75,692.3 670.24,693.4 669.74,691.2 669.23,695.8 668.72,693.7 668.21,698.1 667.70,692.8 667.19,689.8 666.68,692.7 666.17,695.1 665.66,691.1 665.15,683.3 664.64,690.1 664.13,686.0 663.62,691.4 663.12,690.0 662.61,697.1 662.10,689.9 661.59,687.0 661.08,688.1 660.57,689.5 660.06,690.3 659.55,692.0 659.04,686.1 658.53,688.3 658.02,684.5 657.51,686.5 657.00,685.0 656.50,688.4 655.99,686.1 655.48,687.0 654.97,685.3 654.46,683.1 653.95,690.0 653.44,685.0 652.93,691.6 652.42,686.6 651.91,685.5 651.40,687.8 650.89,685.3 650.38,682.8 649.88,686.2 649.37,685.4 648.86,679.6 648.35,679.7 647.84,691.7 647.33,685.1 646.82,687.7 646.31,679.5 645.80,679.5 645.29,685.2 644.78,678.2 644.27,685.2 643.76,681.2 643.25,682.4 642.75,688.4 642.24,684.8 641.73,683.8 641.22,686.0 640.71,685.3 640.20,683.3 639.69,681.5 639.18,677.2 638.67,685.3 638.16,679.8 637.65,681.0 637.14,675.9 636.63,685.1 636.13,683.0 635.62,681.3 635.11,685.4 634.60,684.0 634.09,679.5 633.58,679.4 633.07,676.3 632.56,681.1 632.05,682.0 631.54,675.9 631.03,682.5 630.52,683.0 630.01,677.1 629.51,676.4 629.00,677.1 628.49,681.8 627.98,675.6 627.47,682.4 626.96,685.0 626.45,684.2 625.94,672.6 625.43,674.1 624.92,679.3 624.41,678.9 623.90,678.9 623.39,684.5 622.89,680.6 622.38,679.1 621.87,684.6 621.36,683.1 620.85,684.2 620.34,685.6 619.83,685.1 619.32,689.3 618.81,684.9 618.30,680.8 617.79,687.6 617.28,689.7 616.77,683.7 616.27,683.6 615.76,682.5 615.25,682.4 614.74,679.6 614.23,685.2 613.72,684.3 613.21,690.2 612.70,688.3 612.19,690.4 611.68,691.3 611.17,687.3 610.66,689.2 610.15,685.8 609.65,684.1 609.14,693.3 608.63,685.4 608.12,690.5 607.61,693.7 607.10,691.1 606.59,689.6 606.08,693.8 605.57,689.9 605.06,693.4 604.55,696.5 604.04,691.2 603.53,693.2 603.02,692.5 602.52,695.7 602.01,692.9 601.50,691.9 600.99,696.8 600.48,698.8 599.97,694.8 599.46,693.5 598.95,695.2 598.44,699.1 597.93,700.0 597.42,698.2 596.91,700.3 596.40,699.3 595.90,696.8 595.39,698.9 594.88,702.4 594.37,700.7 593.86,700.9 593.35,700.2 592.84,703.6 592.33,701.7 591.82,703.4 591.31,706.1 590.80,702.6 590.29,699.5 589.78,702.0 589.28,703.7 588.77,702.7 588.26,704.3 587.75,703.2 587.24,703.0 586.73,702.7 586.22,703.6 585.71,702.8 585.20,704.2 584.69,706.3 584.18,705.0 583.67,706.0 583.16,704.4 582.66,706.4 582.15,704.7 581.64,706.0 581.13,706.6 580.62,706.7 580.11,704.8 579.60,707.3 579.09,708.5 578.58,710.4 578.07,705.8 577.56,709.9 577.05,708.9 576.54,709.9 576.04,710.2 575.53,711.0 575.02,711.6 574.51,711.0 574.00,709.7 573.49,710.8 572.98,710.4 572.47,711.2 571.96,710.8 571.45,711.4 570.94,710.8 570.43,710.5 569.92,710.6 569.42,711.1 568.91,712.5 568.40,711.4 567.89,712.7 567.38,712.7 566.87,712.2 566.36,713.6 565.85,713.6 565.34,713.3 564.83,713.4 564.32,712.9 563.81,713.2 563.30,711.8 562.79,712.9 562.29,715.2 561.78,712.0 561.27,713.0 560.76,712.5 560.25,712.4 559.74,713.5 559.23,712.3 558.72,710.8 558.21,713.4 557.70,713.1 557.19,711.3 556.68,710.6 556.17,711.8 555.67,710.3 555.16,710.7 554.65,711.8 554.14,709.2 553.63,710.1 553.12,710.2 552.61,711.3 552.10,712.6 551.59,711.1 551.08,709.8 550.57,708.9 550.06,710.5 549.55,709.1 549.05,709.4 548.54,710.1 548.03,709.5 547.52,710.1 547.01,710.5 546.50,710.0 545.99,711.5 545.48,709.6 544.97,708.8 544.46,710.8 543.95,711.5 543.44,709.3 542.93,711.8 542.43,711.5 541.92,711.7 541.41,711.5 540.90,711.8 540.39,711.1 539.88,710.8 539.37,711.0 538.86,713.5 538.35,714.4 537.84,712.6 537.33,711.3 536.82,712.5 536.31,713.7 535.81,713.8 535.30,710.8 534.79,713.6 534.28,711.6 533.77,713.1" fill="#E0957B" fill-opacity="0.95"/>
<path d="M533.8 705.2h0M534.3 719.1h0M534.8 714.7h0M535.3 705.4h0M535.8 723.2h0M536.3 694.7h0M536.8 686.3h0M537.3 704.1h0M537.8 699.0h0M538.4 712.3h0M538.9 715.4h0M539.4 720.4h0M539.9 698.9h0M540.4 709.1h0M540.9 725.8h0M541.4 708.4h0M541.9 714.9h0M542.4 709.9h0M542.9 717.7h0M543.4 703.2h0M544.0 704.2h0M544.5 722.8h0M545.0 724.5h0M545.5 719.3h0M546.0 704.9h0M546.5 714.4h0M547.0 702.9h0M547.5 703.7h0M548.0 716.3h0M548.5 714.5h0M549.0 727.8h0M549.6 722.2h0M550.1 703.3h0M550.6 700.3h0M551.1 707.5h0M551.6 712.2h0M552.1 723.8h0M552.6 727.4h0M553.1 714.8h0M553.6 714.2h0M554.1 707.7h0M554.6 708.2h0M555.2 711.9h0M555.7 718.0h0M556.2 715.9h0M556.7 718.3h0M557.2 717.9h0M557.7 705.0h0M558.2 697.9h0M558.7 721.9h0M559.2 719.5h0M559.7 725.1h0M560.2 718.8h0M560.8 717.0h0M561.3 710.7h0M561.8 701.2h0M562.3 716.2h0M562.8 710.7h0M563.3 716.4h0M563.8 717.8h0M564.3 721.0h0M564.8 727.8h0M565.3 700.1h0M565.9 716.8h0M566.4 720.0h0M566.9 715.3h0M567.4 715.8h0M567.9 718.1h0M568.4 710.9h0M568.9 704.2h0M569.4 727.8h0M569.9 720.4h0M570.4 727.8h0M570.9 726.3h0M571.5 705.7h0M572.0 710.7h0M572.5 714.3h0M573.0 721.9h0M573.5 721.2h0M574.0 719.8h0M574.5 717.0h0M575.0 716.1h0M575.5 698.0h0M576.0 707.8h0M576.5 725.1h0M577.1 707.3h0M577.6 715.3h0M578.1 721.9h0M578.6 717.1h0M579.1 698.4h0M579.6 708.1h0M580.1 718.3h0M580.6 722.3h0M581.1 702.5h0M581.6 717.3h0M582.1 713.8h0M582.7 704.5h0M583.2 706.9h0M583.7 718.0h0M584.2 699.3h0M584.7 703.6h0M585.2 718.4h0M585.7 703.6h0M586.2 699.4h0M586.7 702.4h0M587.2 703.5h0M587.7 709.3h0M588.3 705.2h0M588.8 710.3h0M589.3 700.3h0M589.8 696.9h0M590.3 705.3h0M590.8 699.0h0M591.3 708.4h0M591.8 705.7h0M592.3 703.5h0M592.8 703.0h0M593.3 706.7h0M593.9 702.9h0M594.4 705.9h0M594.9 703.2h0M595.4 717.1h0M595.9 704.5h0M596.4 706.5h0M596.9 695.2h0M597.4 700.4h0M597.9 694.4h0M598.4 691.3h0M599.0 700.7h0M599.5 699.5h0M600.0 694.9h0M600.5 691.8h0M601.0 698.5h0M601.5 711.8h0M602.0 693.8h0M602.5 685.5h0M603.0 681.8h0M603.5 693.7h0M604.0 684.4h0M604.6 678.8h0M605.1 696.9h0M605.6 695.3h0M606.1 691.2h0M606.6 699.8h0M607.1 686.2h0M607.6 686.0h0M608.1 656.6h0M608.6 697.8h0M609.1 681.5h0M609.6 677.4h0M610.2 688.4h0M610.7 675.8h0M611.2 667.7h0M611.7 664.7h0M612.2 682.5h0M612.7 690.9h0M613.2 687.9h0M613.7 695.8h0M614.2 669.8h0M614.7 661.5h0M615.2 654.8h0M615.8 656.6h0M616.3 686.6h0M616.8 672.2h0M617.3 664.7h0M617.8 673.3h0M618.3 662.8h0M618.8 650.3h0M619.3 666.4h0M619.8 666.2h0M620.3 660.7h0M620.8 665.4h0M621.4 662.1h0M621.9 682.8h0M622.4 651.2h0M622.9 643.0h0M623.4 672.4h0M623.9 663.8h0M624.4 653.3h0M624.9 677.2h0M625.4 669.0h0M625.9 669.6h0M626.5 650.0h0M627.0 678.1h0M627.5 664.4h0M628.0 656.1h0M628.5 651.2h0M629.0 655.2h0M629.5 662.1h0M630.0 629.7h0M630.5 651.7h0M631.0 678.1h0M631.5 659.9h0M632.1 644.9h0M632.6 636.3h0M633.1 624.0h0M633.6 655.7h0M634.1 662.5h0M634.6 665.3h0M635.1 641.0h0M635.6 654.0h0M636.1 639.7h0M636.6 649.0h0M637.1 666.6h0M637.7 649.3h0M638.2 659.7h0M638.7 657.4h0M639.2 638.4h0M639.7 640.8h0M640.2 651.2h0M640.7 666.3h0M641.2 657.2h0M641.7 697.4h0M642.2 661.2h0M642.7 677.9h0M643.3 665.1h0M643.8 669.7h0M644.3 658.5h0M644.8 668.1h0M645.3 644.3h0M645.8 666.0h0M646.3 658.1h0M646.8 689.6h0M647.3 673.4h0M647.8 646.9h0M648.3 661.4h0M648.9 689.9h0M649.4 682.3h0M649.9 662.1h0M650.4 677.6h0M650.9 675.1h0M651.4 665.0h0M651.9 659.8h0M652.4 674.1h0M652.9 664.0h0M653.4 677.7h0M653.9 672.7h0M654.5 668.9h0M655.0 685.3h0M655.5 660.7h0M656.0 661.9h0M656.5 677.8h0M657.0 653.3h0M657.5 700.5h0M658.0 669.8h0M658.5 672.7h0M659.0 684.4h0M659.6 693.1h0M660.1 681.1h0M660.6 671.9h0M661.1 680.0h0M661.6 668.9h0M662.1 690.5h0M662.6 699.9h0M663.1 686.3h0M663.6 668.4h0M664.1 664.8h0M664.6 681.1h0M665.2 684.9h0M665.7 691.2h0M666.2 701.9h0M666.7 674.3h0M667.2 679.2h0M667.7 692.8h0M668.2 665.6h0M668.7 688.8h0M669.2 659.6h0M669.7 697.3h0M670.2 698.8h0M670.8 704.0h0M671.3 672.7h0M671.8 668.5h0M672.3 680.0h0M672.8 703.2h0M673.3 680.1h0M673.8 679.2h0M674.3 687.9h0M674.8 682.6h0M675.3 710.7h0M675.8 670.5h0M676.4 680.5h0M676.9 686.3h0M677.4 715.5h0M677.9 701.1h0M678.4 691.3h0M678.9 684.0h0M679.4 727.8h0M679.9 707.0h0M680.4 692.3h0M680.9 684.0h0M681.4 695.1h0M682.0 699.7h0M682.5 690.2h0M683.0 686.8h0M683.5 725.2h0M684.0 693.8h0M684.5 693.2h0M685.0 689.6h0M685.5 690.8h0M686.0 698.9h0M686.5 699.5h0M687.0 683.9h0M687.6 706.7h0M688.1 692.6h0M688.6 713.0h0M689.1 709.4h0M689.6 693.3h0M690.1 698.1h0M690.6 691.7h0M691.1 725.3h0M691.6 702.0h0M692.1 683.7h0M692.7 702.5h0M693.2 689.9h0M693.7 684.8h0M694.2 694.2h0M694.7 716.3h0M695.2 710.5h0M695.7 705.0h0M696.2 711.9h0M696.7 709.9h0M697.2 694.2h0M697.7 710.3h0M698.3 714.3h0M698.8 686.0h0M699.3 692.6h0M699.8 703.1h0M700.3 704.0h0M700.8 711.3h0M701.3 695.6h0M701.8 679.0h0M702.3 706.5h0M702.8 712.1h0M703.3 705.3h0M703.9 708.3h0M704.4 705.7h0M704.9 717.2h0M705.4 718.5h0M705.9 711.6h0M706.4 717.2h0M706.9 723.4h0M707.4 717.2h0M707.9 704.2h0M708.4 703.6h0M708.9 727.8h0M709.5 715.6h0M710.0 719.5h0M710.5 702.0h0M711.0 712.6h0M711.5 717.5h0M712.0 727.8h0M712.5 726.9h0M713.0 707.4h0M713.5 719.9h0M714.0 722.5h0M714.5 707.2h0M715.1 711.2h0M715.6 713.8h0M716.1 713.1h0M716.6 710.2h0M717.1 718.9h0M717.6 723.5h0M718.1 712.0h0M718.6 713.1h0M719.1 722.8h0M533.5 680.5h0M535.0 680.0h0M535.0 654.0h0M548.0 624.8h0M549.0 660.7h0M550.0 669.5h0M551.0 679.0h0M538.6 675.4h0M622.0 635.0h0M624.0 644.0h0M639.0 601.0h0M631.6 608.4h0M628.5 697.0h0M659.6 643.1h0M674.6 653.4h0M697.3 660.0h0M694.0 666.9h0M698.5 673.2h0M694.9 677.3h0M704.0 682.7h0M704.4 690.0h0M691.8 686.7h0M681.2 667.0h0M671.0 665.0h0M667.0 657.8h0" stroke="#111" stroke-opacity="0.95" stroke-width="4.10" stroke-linecap="round" fill="none"/>
<polygon points="54.01,914.4 54.49,915.6 54.97,915.0 55.46,915.8 55.94,915.1 56.42,912.0 56.90,913.1 57.38,915.2 57.86,915.8 58.34,916.7 58.83,915.0 59.31,914.7 59.79,910.0 60.27,912.9 60.75,915.8 61.23,915.4 61.71,914.0 62.20,914.8 62.68,916.5 63.16,910.2 63.64,911.2 64.12,916.3 64.60,915.2 65.08,915.3 65.56,916.0 66.05,916.6 66.53,910.6 67.01,911.4 67.49,914.3 67.97,912.3 68.45,916.0 68.93,914.5 69.42,915.0 69.90,912.1 70.38,909.8 70.86,915.6 71.34,913.5 71.82,914.0 72.30,914.7 72.79,916.1 73.27,911.8 73.75,912.8 74.23,916.3 74.71,915.1 75.19,915.4 75.67,915.0 76.16,915.0 76.64,910.8 77.12,909.9 77.60,912.3 78.08,915.9 78.56,917.7 79.04,914.3 79.53,918.2 80.01,912.8 80.49,911.9 80.97,915.5 81.45,914.5 81.93,914.2 82.41,914.3 82.89,916.4 83.38,912.9 83.86,913.1 84.34,915.8 84.82,914.2 85.30,916.5 85.78,914.4 86.26,915.4 86.75,911.8 87.23,913.0 87.71,915.3 88.19,915.7 88.67,915.4 89.15,915.3 89.63,915.9 90.12,912.2 90.60,911.7 91.08,915.2 91.56,916.6 92.04,916.1 92.52,914.6 93.00,917.4 93.49,912.2 93.97,911.8 94.45,915.6 94.93,915.7 95.41,916.3 95.89,915.3 96.37,914.9 96.86,911.7 97.34,912.1 97.82,915.2 98.30,915.6 98.78,915.5 99.26,915.2 99.74,914.3 100.23,911.8 100.71,912.8 101.19,915.8 101.67,915.0 102.15,915.3 102.63,915.0 103.11,914.5 103.59,914.1 104.08,912.1 104.56,915.6 105.04,915.4 105.52,914.5 106.00,915.8 106.48,916.3 106.96,912.7 107.45,912.4 107.93,914.7 108.41,915.7 108.89,916.0 109.37,915.3 109.85,916.2 110.33,911.8 110.82,912.2 111.30,915.5 111.78,916.4 112.26,914.3 112.74,915.9 113.22,915.0 113.70,912.8 114.19,912.7 114.67,915.8 115.15,915.2 115.63,917.0 116.11,915.5 116.59,913.8 117.07,911.6 117.56,912.1 118.04,915.6 118.52,915.5 119.00,915.2 119.48,915.4 119.96,916.2 120.44,911.0 120.93,910.7 121.41,915.9 121.89,916.6 122.37,915.5 122.85,912.1 123.33,913.8 123.81,911.0 124.29,908.4 124.78,914.4 125.26,912.3 125.74,913.7 126.22,914.9 126.70,912.5 127.18,906.9 127.66,906.3 128.15,914.1 128.63,913.4 129.11,911.4 129.59,914.5 130.07,913.6 130.55,904.8 131.03,907.1 131.52,911.0 132.00,913.3 132.48,911.1 132.96,915.4 133.44,913.5 133.92,906.8 134.40,904.1 134.89,913.1 135.37,912.7 135.85,911.2 136.33,912.0 136.81,914.3 137.29,905.3 137.77,906.3 138.26,909.3 138.74,912.6 139.22,913.5 139.70,915.5 140.18,909.8 140.66,906.7 141.14,907.0 141.62,911.8 142.11,911.6 142.59,910.0 143.07,909.7 143.55,913.0 144.03,904.0 144.51,908.0 144.99,912.3 145.48,913.7 145.96,912.9 146.44,910.5 146.92,908.7 147.40,906.3 147.88,905.6 148.36,913.1 148.85,910.1 149.33,910.3 149.81,911.5 150.29,908.8 150.77,905.8 151.25,904.9 151.73,910.7 152.22,908.5 152.70,906.1 153.18,907.4 153.66,905.6 154.14,898.8 154.62,896.7 155.10,902.8 155.59,905.2 156.07,892.2 156.55,903.9 157.03,898.0 157.51,885.0 157.99,893.3 158.47,890.9 158.96,877.3 159.44,880.2 159.92,886.3 160.40,875.5 160.88,864.0 161.36,848.6 161.84,872.6 162.32,871.5 162.81,879.2 163.29,890.8 163.77,865.7 164.25,847.3 164.73,857.7 165.21,856.6 165.69,857.2 166.18,866.8 166.66,853.6 167.14,858.4 167.62,836.9 168.10,833.0 168.58,857.4 169.06,864.3 169.55,852.9 170.03,840.3 170.51,848.6 170.99,828.1 171.47,794.2 171.95,846.2 172.43,829.8 172.92,823.3 173.40,810.5 173.88,841.2 174.36,798.6 174.84,787.4 175.32,824.5 175.80,808.4 176.29,815.4 176.77,814.9 177.25,843.9 177.73,786.3 178.21,786.3 178.69,808.8 179.17,818.7 179.66,830.3 180.14,802.8 180.62,815.2 181.10,791.6 181.58,812.4 182.06,832.7 182.54,800.2 183.02,841.7 183.51,788.8 183.99,838.2 184.47,796.8 184.95,820.7 185.43,849.8 185.91,833.0 186.39,822.0 186.88,841.0 187.36,806.9 187.84,817.2 188.32,801.0 188.80,827.9 189.28,842.2 189.76,840.9 190.25,841.0 190.73,844.3 191.21,846.7 191.69,819.7 192.17,862.7 192.65,869.1 193.13,856.3 193.62,868.1 194.10,881.5 194.58,857.8 195.06,865.3 195.54,888.7 196.02,890.3 196.50,886.4 196.99,884.3 197.47,890.8 197.95,886.1 198.43,884.2 198.91,894.5 199.39,899.5 199.87,895.8 200.36,901.1 200.84,898.6 201.32,894.6 201.80,896.5 202.28,899.5 202.76,902.2 203.24,901.0 203.72,901.7 204.21,904.0 204.69,897.3 205.17,899.4 205.65,900.8 206.13,903.0 206.61,904.8 207.09,901.6 207.58,904.0 208.06,899.2 208.54,898.5 209.02,906.4 209.50,904.7 209.98,905.6 210.46,906.8 210.95,904.3 211.43,905.8 211.91,901.1 212.39,904.9 212.87,906.8 213.35,907.4 213.83,905.8 214.32,907.2 214.80,904.0 215.28,903.9 215.76,909.6 216.24,909.0 216.72,907.6 217.20,908.9 217.69,909.1 218.17,906.5 218.65,907.3 219.13,909.0 219.61,911.9 220.09,909.8 220.57,913.0 221.05,911.1 221.54,909.8 222.02,907.6 222.50,912.8 222.98,910.0 223.46,914.2 223.94,913.8 224.42,912.3 224.91,909.1 225.39,910.0 225.87,913.9 226.35,912.6 226.83,914.1 227.31,914.1 227.79,915.8 228.28,911.0 228.76,912.7 229.24,917.4 229.24,917.6 228.76,917.4 228.28,917.6 227.79,916.8 227.31,917.4 226.83,917.7 226.35,917.6 225.87,917.0 225.39,916.6 224.91,916.7 224.42,915.9 223.94,915.3 223.46,916.5 222.98,914.7 222.50,915.2 222.02,914.8 221.54,916.0 221.05,914.7 220.57,915.6 220.09,913.6 219.61,914.9 219.13,914.8 218.65,915.0 218.17,914.5 217.69,914.0 217.20,914.0 216.72,913.4 216.24,913.2 215.76,912.4 215.28,913.7 214.80,914.0 214.32,912.9 213.83,911.8 213.35,913.6 212.87,913.1 212.39,911.8 211.91,912.0 211.43,911.2 210.95,912.9 210.46,911.4 209.98,912.1 209.50,912.7 209.02,910.4 208.54,912.2 208.06,910.0 207.58,911.0 207.09,910.9 206.61,910.7 206.13,910.3 205.65,911.4 205.17,910.0 204.69,908.3 204.21,909.6 203.72,907.1 203.24,909.7 202.76,908.7 202.28,908.7 201.80,908.9 201.32,909.2 200.84,908.3 200.36,909.3 199.87,906.7 199.39,905.0 198.91,907.1 198.43,902.1 197.95,903.8 197.47,904.2 196.99,901.8 196.50,901.3 196.02,898.4 195.54,902.9 195.06,897.1 194.58,891.7 194.10,893.0 193.62,889.5 193.13,885.4 192.65,886.2 192.17,894.4 191.69,881.4 191.21,890.7 190.73,886.3 190.25,891.4 189.76,870.6 189.28,878.0 188.80,878.1 188.32,878.1 187.84,872.1 187.36,875.8 186.88,874.4 186.39,856.6 185.91,878.6 185.43,874.7 184.95,869.5 184.47,865.6 183.99,871.0 183.51,863.5 183.02,852.0 182.54,866.5 182.06,876.1 181.58,877.5 181.10,850.3 180.62,861.4 180.14,867.1 179.66,867.2 179.17,876.3 178.69,857.8 178.21,880.2 177.73,870.2 177.25,879.8 176.77,872.0 176.29,886.9 175.80,864.4 175.32,857.4 174.84,895.6 174.36,880.4 173.88,861.4 173.40,889.4 172.92,882.0 172.43,870.7 171.95,878.3 171.47,901.9 170.99,888.8 170.51,895.1 170.03,898.0 169.55,889.2 169.06,897.0 168.58,902.5 168.10,886.5 167.62,898.9 167.14,895.7 166.66,906.0 166.18,901.2 165.69,886.3 165.21,891.9 164.73,902.8 164.25,892.0 163.77,902.9 163.29,897.8 162.81,899.3 162.32,913.9 161.84,911.9 161.36,898.1 160.88,910.1 160.40,908.0 159.92,906.9 159.44,909.2 158.96,906.7 158.47,912.4 157.99,911.4 157.51,912.1 157.03,913.6 156.55,910.1 156.07,914.1 155.59,913.1 155.10,911.2 154.62,915.2 154.14,911.3 153.66,912.8 153.18,914.4 152.70,914.1 152.22,915.6 151.73,913.8 151.25,915.4 150.77,915.4 150.29,915.3 149.81,915.1 149.33,916.0 148.85,914.6 148.36,915.4 147.88,915.4 147.40,917.0 146.92,916.8 146.44,916.6 145.96,915.4 145.48,915.4 144.99,916.4 144.51,916.9 144.03,915.4 143.55,915.3 143.07,916.1 142.59,917.2 142.11,915.9 141.62,917.1 141.14,916.5 140.66,917.8 140.18,917.5 139.70,917.4 139.22,917.9 138.74,916.4 138.26,915.7 137.77,916.1 137.29,916.1 136.81,918.3 136.33,916.6 135.85,914.4 135.37,917.3 134.89,915.8 134.40,915.3 133.92,917.7 133.44,915.9 132.96,916.5 132.48,916.8 132.00,917.1 131.52,916.3 131.03,917.2 130.55,916.6 130.07,916.9 129.59,918.0 129.11,917.5 128.63,916.9 128.15,916.2 127.66,916.8 127.18,918.0 126.70,917.5 126.22,918.5 125.74,918.0 125.26,918.3 124.78,917.0 124.29,918.3 123.81,917.3 123.33,917.8 122.85,917.8 122.37,917.1 121.89,917.7 121.41,917.8 120.93,918.1 120.44,917.8 119.96,918.1 119.48,918.1 119.00,917.6 118.52,917.8 118.04,918.4 117.56,917.4 117.07,918.2 116.59,917.8 116.11,917.7 115.63,917.7 115.15,918.6 114.67,917.1 114.19,918.5 113.70,918.0 113.22,917.5 112.74,918.2 112.26,918.8 111.78,919.4 111.30,918.1 110.82,917.8 110.33,918.8 109.85,918.2 109.37,918.2 108.89,919.5 108.41,917.4 107.93,918.7 107.45,918.7 106.96,918.0 106.48,917.6 106.00,918.1 105.52,916.9 105.04,919.1 104.56,918.0 104.08,917.4 103.59,918.5 103.11,917.5 102.63,918.0 102.15,918.8 101.67,918.4 101.19,918.6 100.71,918.1 100.23,918.9 99.74,916.9 99.26,918.3 98.78,919.1 98.30,917.8 97.82,918.4 97.34,918.9 96.86,918.6 96.37,918.2 95.89,917.4 95.41,918.5 94.93,919.4 94.45,917.8 93.97,919.8 93.49,918.1 93.00,918.0 92.52,916.6 92.04,917.6 91.56,917.6 91.08,918.8 90.60,918.6 90.12,918.3 89.63,917.8 89.15,918.3 88.67,918.1 88.19,918.7 87.71,919.3 87.23,918.2 86.75,918.2 86.26,918.1 85.78,918.9 85.30,917.9 84.82,919.0 84.34,918.4 83.86,918.8 83.38,918.9 82.89,918.4 82.41,919.4 81.93,918.4 81.45,917.7 80.97,918.0 80.49,919.8 80.01,919.0 79.53,918.5 79.04,919.0 78.56,919.1 78.08,918.3 77.60,918.8 77.12,918.5 76.64,919.6 76.16,918.6 75.67,917.5 75.19,918.5 74.71,918.8 74.23,918.5 73.75,919.4 73.27,918.2 72.79,919.2 72.30,918.5 71.82,918.6 71.34,918.5 70.86,918.2 70.38,919.3 69.90,918.6 69.42,918.8 68.93,918.7 68.45,919.1 67.97,918.6 67.49,918.5 67.01,918.7 66.53,919.0 66.05,918.7 65.56,918.7 65.08,918.6 64.60,918.7 64.12,919.7 63.64,918.7 63.16,919.7 62.68,919.6 62.20,918.3 61.71,919.1 61.23,918.8 60.75,919.2 60.27,918.4 59.79,918.5 59.31,919.0 58.83,920.2 58.34,919.7 57.86,919.1 57.38,917.8 56.90,918.9 56.42,919.7 55.94,918.7 55.46,919.6 54.97,918.6 54.49,918.7 54.01,920.1" fill="#E0957B" fill-opacity="0.78"/>
<path d="M54.0 910.8h0M54.5 910.9h0M55.0 912.0h0M55.5 908.0h0M55.9 905.6h0M56.4 910.5h0M56.9 914.5h0M57.4 916.0h0M57.9 913.0h0M58.3 916.0h0M58.8 913.5h0M59.3 916.9h0M59.8 914.8h0M60.3 913.6h0M60.8 913.3h0M61.2 913.5h0M61.7 915.4h0M62.2 917.1h0M62.7 911.6h0M63.2 917.1h0M63.6 914.3h0M64.1 915.6h0M64.6 919.3h0M65.1 909.3h0M65.6 915.4h0M66.0 914.0h0M66.5 918.0h0M67.0 917.4h0M67.5 916.0h0M68.0 919.1h0M68.5 916.1h0M68.9 916.1h0M69.4 915.7h0M69.9 914.4h0M70.4 916.2h0M70.9 916.5h0M71.3 913.5h0M71.8 919.5h0M72.3 916.4h0M72.8 913.0h0M73.3 917.8h0M73.7 917.0h0M74.2 916.3h0M74.7 917.5h0M75.2 918.6h0M75.7 917.9h0M76.2 917.1h0M76.6 919.1h0M77.1 917.5h0M77.6 913.7h0M78.1 919.8h0M78.6 919.1h0M79.0 919.4h0M79.5 913.0h0M80.0 917.4h0M80.5 919.5h0M81.0 915.4h0M81.5 919.3h0M81.9 917.6h0M82.4 918.8h0M82.9 918.4h0M83.4 913.4h0M83.9 917.8h0M84.3 919.3h0M84.8 917.3h0M85.3 916.1h0M85.8 919.2h0M86.3 917.2h0M86.7 917.3h0M87.2 918.0h0M87.7 918.9h0M88.2 915.7h0M88.7 915.0h0M89.2 916.3h0M89.6 914.1h0M90.1 916.5h0M90.6 919.0h0M91.1 915.9h0M91.6 914.0h0M92.0 915.4h0M92.5 915.0h0M93.0 918.1h0M93.5 913.6h0M94.0 912.0h0M94.4 915.3h0M94.9 911.9h0M95.4 910.0h0M95.9 916.6h0M96.4 907.7h0M96.9 914.8h0M97.3 913.3h0M97.8 914.8h0M98.3 910.7h0M98.8 912.3h0M99.3 915.8h0M99.7 911.4h0M100.2 911.1h0M100.7 910.3h0M101.2 910.8h0M101.7 911.5h0M102.2 908.5h0M102.6 917.0h0M103.1 914.9h0M103.6 911.0h0M104.1 913.4h0M104.6 913.7h0M105.0 912.8h0M105.5 912.5h0M106.0 911.7h0M106.5 918.4h0M107.0 916.1h0M107.4 914.8h0M107.9 912.2h0M108.4 910.8h0M108.9 911.4h0M109.4 911.7h0M109.9 915.2h0M110.3 912.9h0M110.8 914.7h0M111.3 912.3h0M111.8 915.4h0M112.3 904.5h0M112.7 911.7h0M113.2 912.3h0M113.7 916.7h0M114.2 911.3h0M114.7 913.3h0M115.1 910.1h0M115.6 913.3h0M116.1 915.3h0M116.6 915.0h0M117.1 916.6h0M117.6 914.8h0M118.0 918.0h0M118.5 915.5h0M119.0 915.6h0M119.5 919.2h0M120.0 918.0h0M120.4 917.1h0M120.9 915.4h0M121.4 918.8h0M121.9 918.5h0M122.4 910.8h0M122.9 915.8h0M123.3 911.0h0M123.8 916.1h0M124.3 913.7h0M124.8 916.9h0M125.3 916.3h0M125.7 916.7h0M126.2 913.4h0M126.7 916.0h0M127.2 915.9h0M127.7 911.7h0M128.1 913.0h0M128.6 917.0h0M129.1 913.1h0M129.6 912.2h0M130.1 917.7h0M130.6 919.2h0M131.0 916.5h0M131.5 917.7h0M132.0 915.7h0M132.5 913.8h0M133.0 918.1h0M133.4 916.5h0M133.9 915.9h0M134.4 919.8h0M134.9 917.0h0M135.4 918.3h0M135.8 915.6h0M136.3 913.5h0M136.8 918.0h0M137.3 916.6h0M137.8 914.2h0M138.3 917.6h0M138.7 918.1h0M139.2 916.3h0M139.7 915.8h0M140.2 918.2h0M140.7 916.8h0M141.1 913.5h0M141.6 919.8h0M142.1 918.0h0M142.6 917.8h0M143.1 913.9h0M143.6 918.1h0M144.0 913.5h0M144.5 915.7h0M145.0 915.2h0M145.5 915.0h0M146.0 918.1h0M146.4 911.8h0M146.9 919.8h0M147.4 917.3h0M147.9 919.8h0M148.4 918.9h0M148.8 914.4h0M149.3 916.4h0M149.8 916.5h0M150.3 916.7h0M150.8 915.3h0M151.3 917.3h0M151.7 913.9h0M152.2 914.9h0M152.7 916.3h0M153.2 915.9h0M153.7 918.2h0M154.1 917.4h0M154.6 917.2h0M155.1 908.8h0M155.6 912.3h0M156.1 912.1h0M156.5 910.4h0M157.0 912.1h0M157.5 912.5h0M158.0 912.9h0M158.5 906.4h0M159.0 902.7h0M159.4 912.2h0M159.9 913.0h0M160.4 908.8h0M160.9 907.7h0M161.4 907.6h0M161.8 901.2h0M162.3 905.3h0M162.8 911.8h0M163.3 908.6h0M163.8 910.5h0M164.3 907.8h0M164.7 898.1h0M165.2 900.1h0M165.7 897.4h0M166.2 895.9h0M166.7 895.4h0M167.1 893.6h0M167.6 902.3h0M168.1 893.8h0M168.6 893.6h0M169.1 887.4h0M169.5 884.9h0M170.0 892.2h0M170.5 888.3h0M171.0 885.5h0M171.5 874.3h0M172.0 894.2h0M172.4 887.6h0M172.9 888.2h0M173.4 874.6h0M173.9 877.2h0M174.4 865.3h0M174.8 867.0h0M175.3 878.1h0M175.8 882.8h0M176.3 872.9h0M176.8 888.3h0M177.2 874.9h0M177.7 848.2h0M178.2 851.0h0M178.7 868.6h0M179.2 859.1h0M179.7 872.9h0M180.1 873.5h0M180.6 892.0h0M181.1 846.5h0M181.6 838.8h0M182.1 882.7h0M182.5 880.7h0M183.0 881.4h0M183.5 877.3h0M184.0 876.0h0M184.5 859.3h0M185.0 848.2h0M185.4 883.4h0M185.9 876.7h0M186.4 872.4h0M186.9 872.3h0M187.4 885.4h0M187.8 861.4h0M188.3 869.1h0M188.8 873.1h0M189.3 875.8h0M189.8 874.0h0M190.2 891.1h0M190.7 872.4h0M191.2 877.9h0M191.7 882.3h0M192.2 890.4h0M192.7 878.7h0M193.1 889.3h0M193.6 904.2h0M194.1 900.6h0M194.6 884.2h0M195.1 916.0h0M195.5 895.2h0M196.0 919.8h0M196.5 886.5h0M197.0 909.3h0M197.5 919.8h0M197.9 902.8h0M198.4 916.2h0M198.9 901.4h0M199.4 909.7h0M199.9 903.9h0M200.4 913.4h0M200.8 896.3h0M201.3 910.0h0M201.8 911.1h0M202.3 912.8h0M202.8 893.2h0M203.2 908.6h0M203.7 904.3h0M204.2 916.1h0M204.7 911.8h0M205.2 914.8h0M205.7 910.8h0M206.1 915.9h0M206.6 911.0h0M207.1 914.0h0M207.6 905.0h0M208.1 918.7h0M208.5 914.1h0M209.0 908.0h0M209.5 908.9h0M210.0 919.8h0M210.5 904.2h0M210.9 907.4h0M211.4 913.5h0M211.9 906.3h0M212.4 917.7h0M212.9 912.1h0M213.4 917.6h0M213.8 907.3h0M214.3 906.7h0M214.8 913.1h0M215.3 919.8h0M215.8 909.5h0M216.2 906.0h0M216.7 916.7h0M217.2 917.0h0M217.7 911.8h0M218.2 909.9h0M218.6 919.8h0M219.1 907.7h0M219.6 913.7h0M220.1 919.7h0M220.6 904.2h0M221.1 919.8h0M221.5 917.2h0M222.0 917.5h0M222.5 912.8h0M223.0 914.2h0M223.5 910.8h0M223.9 915.8h0M224.4 914.7h0M224.9 912.4h0M225.4 916.0h0M225.9 914.7h0M226.4 917.2h0M226.8 918.4h0M227.3 913.6h0M227.8 915.2h0M228.3 916.8h0M228.8 919.2h0M229.2 911.5h0M188.0 907.7h0" stroke="#111" stroke-opacity="0.95" stroke-width="4.10" stroke-linecap="round" fill="none"/>
<polygon points="294.02,905.4 294.51,905.6 295.01,906.3 295.50,903.4 296.00,908.4 296.50,898.8 296.99,903.2 297.49,904.9 297.98,906.2 298.48,906.8 298.97,907.6 299.47,908.0 299.96,899.4 300.46,905.1 300.96,906.8 301.45,908.2 301.95,906.3 302.44,906.7 302.94,906.0 303.43,901.9 303.93,892.9 304.42,902.6 304.92,905.5 305.41,908.1 305.91,908.9 306.41,906.5 306.90,899.2 307.40,898.3 307.89,903.5 308.39,901.0 308.88,905.2 309.38,909.1 309.87,906.0 310.37,900.7 310.87,897.4 311.36,907.9 311.86,905.0 312.35,904.4 312.85,906.4 313.34,902.0 313.84,899.1 314.33,900.1 314.83,904.8 315.32,905.2 315.82,903.0 316.32,908.1 316.81,904.4 317.31,899.7 317.80,900.3 318.30,905.7 318.79,903.1 319.29,903.9 319.78,906.5 320.28,908.0 320.78,897.6 321.27,899.1 321.77,908.7 322.26,904.6 322.76,904.8 323.25,904.3 323.75,899.0 324.24,902.6 324.74,901.4 325.23,906.5 325.73,904.4 326.23,904.4 326.72,907.9 327.22,902.8 327.71,901.9 328.21,898.9 328.70,904.6 329.20,908.1 329.69,907.8 330.19,902.4 330.69,904.2 331.18,898.6 331.68,898.5 332.17,903.1 332.67,904.0 333.16,905.3 333.66,903.0 334.15,901.5 334.65,899.1 335.15,896.9 335.64,904.4 336.14,903.0 336.63,898.5 337.13,904.3 337.62,898.6 338.12,898.9 338.61,895.2 339.11,900.8 339.60,898.6 340.10,900.0 340.60,903.4 341.09,900.2 341.59,897.0 342.08,897.1 342.58,896.6 343.07,899.3 343.57,896.8 344.06,897.4 344.56,898.1 345.06,889.9 345.55,890.9 346.05,893.5 346.54,895.9 347.04,898.4 347.53,895.0 348.03,894.8 348.52,884.4 349.02,885.9 349.51,896.1 350.01,895.9 350.51,893.0 351.00,897.4 351.50,890.1 351.99,878.5 352.49,884.1 352.98,891.5 353.48,887.1 353.97,887.2 354.47,892.2 354.97,886.2 355.46,879.9 355.96,880.4 356.45,888.5 356.95,893.0 357.44,888.5 357.94,887.7 358.43,893.9 358.93,877.9 359.42,880.3 359.92,889.2 360.42,887.4 360.91,889.9 361.41,888.0 361.90,889.7 362.40,882.0 362.89,882.1 363.39,885.7 363.88,888.0 364.38,891.0 364.88,888.5 365.37,889.8 365.87,881.9 366.36,881.3 366.86,890.5 367.35,892.7 367.85,889.4 368.34,893.1 368.84,887.5 369.33,881.4 369.83,879.9 370.33,892.5 370.82,894.3 371.32,888.1 371.81,889.8 372.31,888.7 372.80,879.1 373.30,882.1 373.79,886.4 374.29,891.2 374.79,888.9 375.28,890.6 375.78,887.0 376.27,881.0 376.77,875.6 377.26,889.0 377.76,889.4 378.25,890.5 378.75,888.5 379.24,891.9 379.74,883.8 380.24,880.0 380.73,887.9 381.23,885.6 381.72,885.6 382.22,889.5 382.71,892.5 383.21,874.5 383.70,882.6 384.20,888.9 384.70,895.9 385.19,887.8 385.69,893.9 386.18,886.6 386.68,876.6 387.17,880.0 387.67,886.4 388.16,887.1 388.66,890.0 389.16,891.1 389.65,889.5 390.15,882.6 390.64,880.9 391.14,892.0 391.63,884.1 392.13,888.9 392.62,886.9 393.12,890.7 393.61,880.5 394.11,876.4 394.61,887.5 395.10,897.0 395.60,887.8 396.09,888.9 396.59,884.8 397.08,874.3 397.58,882.4 398.07,878.2 398.57,884.5 399.07,876.7 399.56,875.5 400.06,878.1 400.55,870.4 401.05,874.3 401.54,883.3 402.04,872.3 402.53,865.9 403.03,868.5 403.52,872.0 404.02,856.9 404.52,851.6 405.01,864.4 405.51,866.6 406.00,855.0 406.50,859.9 406.99,857.0 407.49,847.9 407.98,830.5 408.48,859.2 408.98,845.8 409.47,846.9 409.97,849.0 410.46,841.5 410.96,821.5 411.45,813.9 411.95,848.3 412.44,835.6 412.94,812.7 413.43,827.1 413.93,825.0 414.43,790.6 414.92,811.2 415.42,815.3 415.91,810.5 416.41,820.4 416.90,804.2 417.40,824.9 417.89,808.0 418.39,812.6 418.89,819.9 419.38,815.4 419.88,807.9 420.37,793.8 420.87,807.9 421.36,795.5 421.86,786.3 422.35,798.6 422.85,792.3 423.34,792.3 423.84,802.3 424.34,795.1 424.83,798.7 425.33,798.8 425.82,802.7 426.32,801.8 426.81,802.5 427.31,794.2 427.80,801.3 428.30,802.2 428.80,801.1 429.29,798.8 429.79,812.4 430.28,820.6 430.78,810.1 431.27,816.5 431.77,802.8 432.26,820.5 432.76,824.0 433.25,825.3 433.75,832.9 434.25,827.9 434.74,834.5 435.24,819.3 435.73,830.7 436.23,841.2 436.72,837.5 437.22,845.9 437.71,838.7 438.21,846.8 438.71,828.5 439.20,833.3 439.70,865.9 440.19,855.1 440.69,867.7 441.18,862.1 441.68,861.4 442.17,866.1 442.67,859.4 443.17,872.9 443.66,868.6 444.16,870.8 444.65,875.7 445.15,876.6 445.64,872.5 446.14,872.4 446.63,882.4 447.13,882.0 447.62,881.7 448.12,886.6 448.62,884.4 449.11,879.4 449.61,877.7 450.10,886.2 450.60,885.0 451.09,890.2 451.59,891.2 452.08,891.7 452.58,882.8 453.08,885.3 453.57,892.3 454.07,895.2 454.56,891.2 455.06,895.5 455.55,888.3 456.05,886.1 456.54,887.2 457.04,895.3 457.53,897.1 458.03,892.2 458.53,893.6 459.02,893.9 459.52,888.7 460.01,888.2 460.51,894.0 461.00,897.2 461.50,895.5 461.99,895.0 462.49,901.0 462.99,892.9 463.48,894.2 463.98,897.4 464.47,897.9 464.97,897.3 465.46,898.7 465.96,899.4 466.45,895.5 466.95,895.7 467.44,902.1 467.94,902.4 468.44,901.4 468.93,905.6 469.43,900.6 469.92,898.7 470.42,897.5 470.91,903.4 471.41,903.7 471.90,903.8 472.40,905.2 472.90,904.1 473.39,900.1 473.89,902.4 474.38,905.1 474.38,911.2 473.89,912.6 473.39,913.2 472.90,911.5 472.40,911.3 471.90,908.7 471.41,909.1 470.91,910.8 470.42,909.8 469.92,909.6 469.43,909.0 468.93,910.1 468.44,907.1 467.94,907.9 467.44,907.8 466.95,907.3 466.45,906.0 465.96,906.1 465.46,905.9 464.97,905.4 464.47,903.3 463.98,903.4 463.48,906.2 462.99,903.5 462.49,903.6 461.99,904.7 461.50,903.1 461.00,902.6 460.51,901.1 460.01,901.7 459.52,901.2 459.02,901.7 458.53,901.8 458.03,900.1 457.53,899.7 457.04,899.4 456.54,899.3 456.05,898.5 455.55,899.6 455.06,897.8 454.56,898.6 454.07,898.1 453.57,896.6 453.08,898.4 452.58,896.8 452.08,897.8 451.59,895.7 451.09,894.8 450.60,896.1 450.10,894.2 449.61,893.9 449.11,892.3 448.62,893.1 448.12,891.5 447.62,891.0 447.13,889.6 446.63,889.6 446.14,886.0 445.64,887.1 445.15,887.2 444.65,885.4 444.16,884.1 443.66,880.8 443.17,882.6 442.67,879.7 442.17,879.4 441.68,876.5 441.18,873.1 440.69,872.3 440.19,870.5 439.70,870.9 439.20,867.9 438.71,865.2 438.21,863.0 437.71,867.2 437.22,864.4 436.72,856.2 436.23,857.4 435.73,853.6 435.24,855.1 434.74,851.6 434.25,855.9 433.75,853.3 433.25,844.7 432.76,844.6 432.26,844.6 431.77,850.6 431.27,845.2 430.78,837.1 430.28,840.7 429.79,839.8 429.29,840.0 428.80,843.4 428.30,836.6 427.80,846.5 427.31,839.8 426.81,833.8 426.32,838.1 425.82,825.6 425.33,830.7 424.83,834.3 424.34,830.5 423.84,832.9 423.34,843.4 422.85,833.9 422.35,830.7 421.86,828.0 421.36,844.4 420.87,834.5 420.37,841.0 419.88,838.0 419.38,842.7 418.89,845.1 418.39,837.4 417.89,840.4 417.40,845.4 416.90,849.4 416.41,842.1 415.91,846.5 415.42,851.3 414.92,853.4 414.43,859.7 413.93,852.9 413.43,846.8 412.94,862.3 412.44,854.8 411.95,860.4 411.45,857.9 410.96,867.7 410.46,874.5 409.97,863.8 409.47,871.1 408.98,870.5 408.48,880.7 407.98,868.8 407.49,877.2 406.99,884.6 406.50,880.9 406.00,885.9 405.51,884.2 405.01,880.1 404.52,888.9 404.02,889.6 403.52,888.4 403.03,892.7 402.53,886.2 402.04,890.0 401.54,892.6 401.05,891.8 400.55,890.6 400.06,895.4 399.56,893.5 399.07,897.4 398.57,897.3 398.07,895.0 397.58,901.0 397.08,897.5 396.59,900.9 396.09,901.8 395.60,899.7 395.10,899.1 394.61,898.8 394.11,896.1 393.61,897.3 393.12,895.7 392.62,899.8 392.13,898.8 391.63,900.0 391.14,897.3 390.64,898.3 390.15,899.7 389.65,894.0 389.16,901.9 388.66,897.3 388.16,898.3 387.67,898.4 387.17,902.5 386.68,900.6 386.18,897.7 385.69,897.6 385.19,897.8 384.70,899.8 384.20,903.1 383.70,898.7 383.21,898.8 382.71,899.7 382.22,895.2 381.72,897.6 381.23,899.8 380.73,898.5 380.24,898.2 379.74,899.5 379.24,901.2 378.75,902.3 378.25,898.3 377.76,898.5 377.26,898.5 376.77,899.8 376.27,900.7 375.78,898.0 375.28,894.7 374.79,900.5 374.29,899.6 373.79,898.5 373.30,896.4 372.80,899.0 372.31,898.1 371.81,901.8 371.32,896.0 370.82,898.3 370.33,897.6 369.83,900.7 369.33,903.0 368.84,898.4 368.34,899.3 367.85,898.8 367.35,898.0 366.86,897.9 366.36,899.5 365.87,897.8 365.37,898.1 364.88,898.7 364.38,898.7 363.88,902.2 363.39,897.9 362.89,900.1 362.40,895.0 361.90,899.2 361.41,897.2 360.91,898.7 360.42,900.4 359.92,900.7 359.42,899.1 358.93,896.2 358.43,900.6 357.94,899.7 357.44,899.5 356.95,898.3 356.45,898.9 355.96,899.4 355.46,900.2 354.97,901.6 354.47,899.6 353.97,900.8 353.48,898.3 352.98,901.8 352.49,901.2 351.99,903.1 351.50,903.3 351.00,900.8 350.51,901.7 350.01,903.2 349.51,900.8 349.02,901.9 348.52,905.1 348.03,903.3 347.53,904.4 347.04,904.4 346.54,904.6 346.05,904.6 345.55,906.4 345.06,907.3 344.56,905.1 344.06,907.1 343.57,906.7 343.07,906.5 342.58,908.3 342.08,906.6 341.59,905.5 341.09,908.4 340.60,905.0 340.10,907.0 339.60,910.6 339.11,908.1 338.61,911.1 338.12,908.2 337.62,908.5 337.13,910.4 336.63,909.2 336.14,910.6 335.64,910.8 335.15,909.6 334.65,912.8 334.15,910.9 333.66,909.8 333.16,910.0 332.67,912.6 332.17,910.5 331.68,912.3 331.18,914.0 330.69,912.9 330.19,911.4 329.69,912.8 329.20,914.9 328.70,912.0 328.21,911.2 327.71,914.5 327.22,913.4 326.72,911.4 326.23,911.8 325.73,914.0 325.23,910.9 324.74,916.2 324.24,914.1 323.75,913.3 323.25,912.6 322.76,912.5 322.26,913.8 321.77,913.8 321.27,913.1 320.78,912.0 320.28,912.6 319.78,911.9 319.29,913.4 318.79,912.5 318.30,910.1 317.80,912.2 317.31,913.7 316.81,914.1 316.32,914.1 315.82,915.3 315.32,913.6 314.83,912.7 314.33,913.7 313.84,912.4 313.34,912.1 312.85,910.4 312.35,912.8 311.86,916.9 311.36,914.1 310.87,912.0 310.37,914.4 309.87,912.6 309.38,912.2 308.88,916.0 308.39,914.0 307.89,914.6 307.40,913.8 306.90,912.4 306.41,914.8 305.91,913.1 305.41,913.3 304.92,913.8 304.42,914.2 303.93,911.4 303.43,914.0 302.94,914.2 302.44,914.6 301.95,913.6 301.45,914.5 300.96,914.4 300.46,914.1 299.96,912.9 299.47,914.3 298.97,911.9 298.48,913.3 297.98,915.0 297.49,912.2 296.99,915.4 296.50,912.9 296.00,913.4 295.50,914.0 295.01,913.7 294.51,915.0 294.02,911.3" fill="#E0957B" fill-opacity="0.85"/>
<path d="M294.0 885.3h0M294.5 881.9h0M295.0 888.2h0M295.5 891.0h0M296.0 894.8h0M296.5 905.6h0M297.0 893.5h0M297.5 903.0h0M298.0 905.5h0M298.5 907.6h0M299.0 893.5h0M299.5 906.1h0M300.0 892.1h0M300.5 896.4h0M301.0 905.6h0M301.5 906.0h0M301.9 904.3h0M302.4 913.5h0M302.9 899.9h0M303.4 895.9h0M303.9 887.3h0M304.4 906.5h0M304.9 894.8h0M305.4 910.5h0M305.9 900.6h0M306.4 912.9h0M306.9 901.9h0M307.4 896.9h0M307.9 903.2h0M308.4 911.7h0M308.9 916.2h0M309.4 907.4h0M309.9 914.0h0M310.4 900.3h0M310.9 899.7h0M311.4 891.4h0M311.9 909.6h0M312.4 896.7h0M312.8 901.7h0M313.3 916.9h0M313.8 902.1h0M314.3 897.6h0M314.8 919.6h0M315.3 908.6h0M315.8 911.0h0M316.3 907.0h0M316.8 918.6h0M317.3 908.9h0M317.8 905.6h0M318.3 896.7h0M318.8 904.6h0M319.3 918.9h0M319.8 913.8h0M320.3 902.3h0M320.8 906.5h0M321.3 905.7h0M321.8 908.4h0M322.3 903.6h0M322.8 908.6h0M323.3 910.2h0M323.7 904.1h0M324.2 913.6h0M324.7 895.2h0M325.2 907.8h0M325.7 909.5h0M326.2 915.2h0M326.7 911.7h0M327.2 908.4h0M327.7 915.8h0M328.2 903.8h0M328.7 919.2h0M329.2 907.4h0M329.7 908.4h0M330.2 904.7h0M330.7 915.2h0M331.2 902.3h0M331.7 906.9h0M332.2 903.6h0M332.7 917.0h0M333.2 910.4h0M333.7 904.4h0M334.2 920.1h0M334.6 905.3h0M335.1 916.6h0M335.6 921.0h0M336.1 906.3h0M336.6 900.7h0M337.1 911.2h0M337.6 909.0h0M338.1 902.2h0M338.6 902.5h0M339.1 902.0h0M339.6 910.1h0M340.1 896.8h0M340.6 902.5h0M341.1 907.4h0M341.6 908.4h0M342.1 903.6h0M342.6 902.5h0M343.1 904.0h0M343.6 903.3h0M344.1 902.7h0M344.6 895.9h0M345.1 907.1h0M345.6 888.7h0M346.0 906.7h0M346.5 898.6h0M347.0 901.3h0M347.5 902.7h0M348.0 899.8h0M348.5 896.8h0M349.0 897.8h0M349.5 900.0h0M350.0 894.0h0M350.5 893.8h0M351.0 895.4h0M351.5 908.7h0M352.0 891.6h0M352.5 902.9h0M353.0 889.3h0M353.5 894.5h0M354.0 902.5h0M354.5 887.5h0M355.0 902.3h0M355.5 897.8h0M356.0 896.3h0M356.5 899.9h0M356.9 903.2h0M357.4 889.4h0M357.9 902.2h0M358.4 893.6h0M358.9 898.0h0M359.4 900.6h0M359.9 894.7h0M360.4 890.6h0M360.9 909.9h0M361.4 891.1h0M361.9 909.2h0M362.4 891.9h0M362.9 900.7h0M363.4 901.7h0M363.9 890.0h0M364.4 906.6h0M364.9 895.8h0M365.4 897.6h0M365.9 902.7h0M366.4 896.6h0M366.9 890.5h0M367.4 897.5h0M367.8 900.0h0M368.3 900.7h0M368.8 912.7h0M369.3 905.1h0M369.8 910.4h0M370.3 906.6h0M370.8 897.4h0M371.3 897.1h0M371.8 896.2h0M372.3 900.8h0M372.8 896.5h0M373.3 906.5h0M373.8 910.1h0M374.3 906.6h0M374.8 910.8h0M375.3 896.5h0M375.8 911.3h0M376.3 896.2h0M376.8 900.4h0M377.3 900.9h0M377.8 902.4h0M378.3 897.4h0M378.7 906.7h0M379.2 905.8h0M379.7 910.0h0M380.2 878.6h0M380.7 897.3h0M381.2 904.1h0M381.7 903.8h0M382.2 893.0h0M382.7 911.5h0M383.2 893.7h0M383.7 904.0h0M384.2 897.7h0M384.7 898.5h0M385.2 906.3h0M385.7 899.7h0M386.2 900.4h0M386.7 907.4h0M387.2 905.9h0M387.7 910.6h0M388.2 898.9h0M388.7 901.6h0M389.2 909.5h0M389.7 908.4h0M390.1 898.2h0M390.6 911.5h0M391.1 907.0h0M391.6 907.9h0M392.1 905.0h0M392.6 897.8h0M393.1 901.0h0M393.6 908.0h0M394.1 899.4h0M394.6 910.1h0M395.1 903.0h0M395.6 896.6h0M396.1 909.0h0M396.6 911.4h0M397.1 905.0h0M397.6 902.6h0M398.1 888.9h0M398.6 895.8h0M399.1 896.6h0M399.6 900.6h0M400.1 895.0h0M400.6 900.5h0M401.0 911.7h0M401.5 897.0h0M402.0 888.5h0M402.5 890.1h0M403.0 868.6h0M403.5 877.6h0M404.0 881.7h0M404.5 887.8h0M405.0 876.4h0M405.5 878.4h0M406.0 882.6h0M406.5 876.8h0M407.0 870.0h0M407.5 876.2h0M408.0 876.8h0M408.5 877.0h0M409.0 866.4h0M409.5 869.4h0M410.0 878.8h0M410.5 873.0h0M411.0 857.4h0M411.5 875.1h0M411.9 869.2h0M412.4 857.0h0M412.9 867.2h0M413.4 848.6h0M413.9 849.2h0M414.4 842.1h0M414.9 843.6h0M415.4 850.6h0M415.9 835.1h0M416.4 842.6h0M416.9 840.6h0M417.4 833.3h0M417.9 847.0h0M418.4 835.1h0M418.9 842.0h0M419.4 834.7h0M419.9 849.5h0M420.4 832.2h0M420.9 823.6h0M421.4 849.8h0M421.9 851.4h0M422.4 827.4h0M422.8 831.6h0M423.3 827.5h0M423.8 842.4h0M424.3 812.9h0M424.8 858.3h0M425.3 847.3h0M425.8 842.7h0M426.3 838.4h0M426.8 831.7h0M427.3 870.5h0M427.8 844.7h0M428.3 853.0h0M428.8 834.9h0M429.3 839.4h0M429.8 830.3h0M430.3 856.2h0M430.8 842.3h0M431.3 868.6h0M431.8 841.1h0M432.3 859.2h0M432.8 842.4h0M433.3 845.8h0M433.8 867.1h0M434.2 853.0h0M434.7 856.3h0M435.2 844.6h0M435.7 844.2h0M436.2 860.2h0M436.7 870.2h0M437.2 869.8h0M437.7 873.5h0M438.2 844.2h0M438.7 860.1h0M439.2 875.8h0M439.7 885.1h0M440.2 857.7h0M440.7 886.2h0M441.2 874.4h0M441.7 852.2h0M442.2 879.5h0M442.7 880.3h0M443.2 867.6h0M443.7 881.6h0M444.2 880.2h0M444.7 873.4h0M445.1 889.2h0M445.6 876.5h0M446.1 869.8h0M446.6 873.7h0M447.1 907.3h0M447.6 875.7h0M448.1 864.7h0M448.6 903.2h0M449.1 871.7h0M449.6 894.9h0M450.1 889.9h0M450.6 895.4h0M451.1 883.1h0M451.6 893.3h0M452.1 865.5h0M452.6 893.6h0M453.1 876.8h0M453.6 883.9h0M454.1 878.5h0M454.6 888.5h0M455.1 889.8h0M455.6 892.6h0M456.0 907.7h0M456.5 897.4h0M457.0 900.8h0M457.5 900.1h0M458.0 882.2h0M458.5 901.6h0M459.0 892.3h0M459.5 882.8h0M460.0 900.7h0M460.5 896.6h0M461.0 891.9h0M461.5 906.7h0M462.0 887.1h0M462.5 888.1h0M463.0 899.1h0M463.5 900.7h0M464.0 895.4h0M464.5 909.3h0M465.0 912.3h0M465.5 909.6h0M466.0 904.9h0M466.5 907.6h0M466.9 899.7h0M467.4 887.8h0M467.9 898.5h0M468.4 913.2h0M468.9 905.3h0M469.4 897.8h0M469.9 906.8h0M470.4 899.2h0M470.9 919.6h0M471.4 906.2h0M471.9 897.3h0M472.4 907.1h0M472.9 893.1h0M473.4 904.0h0M473.9 911.8h0M474.4 907.2h0M296.0 885.0h0M428.5 815.0h0M429.0 880.0h0M432.0 891.6h0" stroke="#111" stroke-opacity="0.95" stroke-width="4.10" stroke-linecap="round" fill="none"/>
<polygon points="533.77,896.0 534.28,898.1 534.79,895.1 535.30,897.8 535.81,896.1 536.31,889.7 536.82,885.7 537.33,898.7 537.84,898.5 538.35,895.4 538.86,901.6 539.37,898.6 539.88,891.2 540.39,890.8 540.90,899.5 541.41,899.2 541.92,895.1 542.43,897.0 542.93,899.5 543.44,889.9 543.95,892.2 544.46,897.4 544.97,896.9 545.48,898.3 545.99,899.4 546.50,897.2 547.01,889.9 547.52,889.5 548.03,899.6 548.54,899.4 549.05,895.2 549.55,896.6 550.06,900.6 550.57,891.0 551.08,887.0 551.59,897.3 552.10,899.2 552.61,902.6 553.12,899.5 553.63,900.0 554.14,890.8 554.65,888.6 555.16,898.4 555.67,899.1 556.17,901.6 556.68,899.6 557.19,896.8 557.70,890.2 558.21,885.4 558.72,896.2 559.23,896.9 559.74,896.6 560.25,898.9 560.76,895.5 561.27,890.2 561.78,888.9 562.29,898.3 562.79,898.7 563.30,899.6 563.81,898.6 564.32,900.8 564.83,892.7 565.34,891.5 565.85,895.1 566.36,898.0 566.87,896.1 567.38,899.5 567.89,899.8 568.40,888.8 568.91,887.3 569.42,896.8 569.92,894.0 570.43,898.0 570.94,901.2 571.45,896.5 571.96,887.3 572.47,888.7 572.98,898.7 573.49,895.9 574.00,897.1 574.51,900.3 575.02,898.6 575.53,892.9 576.04,886.2 576.54,899.8 577.05,902.2 577.56,899.7 578.07,899.3 578.58,896.9 579.09,891.8 579.60,886.1 580.11,895.0 580.62,899.0 581.13,898.9 581.64,895.9 582.15,895.9 582.66,886.0 583.16,891.9 583.67,900.1 584.18,896.0 584.69,896.0 585.20,899.0 585.71,898.3 586.22,892.2 586.73,889.3 587.24,897.7 587.75,896.5 588.26,897.3 588.77,897.7 589.28,900.5 589.78,889.2 590.29,887.6 590.80,897.1 591.31,896.2 591.82,896.6 592.33,896.0 592.84,896.9 593.35,886.3 593.86,889.5 594.37,898.6 594.88,898.7 595.39,894.5 595.90,899.6 596.40,897.4 596.91,888.3 597.42,890.8 597.93,898.1 598.44,899.1 598.95,897.7 599.46,898.9 599.97,898.8 600.48,890.4 600.99,887.5 601.50,898.8 602.01,898.2 602.52,897.7 603.02,900.1 603.53,896.5 604.04,889.1 604.55,890.4 605.06,898.2 605.57,897.0 606.08,900.1 606.59,900.0 607.10,900.0 607.61,888.5 608.12,889.1 608.63,901.3 609.14,897.2 609.65,898.4 610.15,897.3 610.66,896.1 611.17,887.6 611.68,888.8 612.19,900.9 612.70,898.1 613.21,897.3 613.72,897.3 614.23,898.9 614.74,892.0 615.25,887.6 615.76,898.7 616.27,896.9 616.77,898.1 617.28,898.5 617.79,897.4 618.30,891.0 618.81,887.3 619.32,901.0 619.83,896.8 620.34,897.6 620.85,901.0 621.36,897.1 621.87,891.9 622.38,888.2 622.89,898.2 623.39,898.7 623.90,898.3 624.41,898.0 624.92,899.7 625.43,892.3 625.94,888.7 626.45,900.6 626.96,900.8 627.47,897.3 627.98,898.3 628.49,893.9 629.00,889.2 629.51,891.6 630.01,894.5 630.52,896.7 631.03,896.5 631.54,894.2 632.05,898.2 632.56,885.4 633.07,889.3 633.58,896.6 634.09,895.8 634.60,898.8 635.11,897.1 635.62,893.6 636.13,885.4 636.63,882.8 637.14,890.8 637.65,889.4 638.16,888.5 638.67,887.5 639.18,884.4 639.69,881.1 640.20,878.6 640.71,883.8 641.22,880.3 641.73,881.7 642.24,880.8 642.75,878.9 643.25,862.6 643.76,862.8 644.27,875.4 644.78,871.0 645.29,872.6 645.80,873.7 646.31,865.0 646.82,859.4 647.33,859.1 647.84,869.8 648.35,867.1 648.86,866.3 649.37,864.0 649.88,855.9 650.38,846.8 650.89,850.0 651.40,851.5 651.91,856.3 652.42,851.1 652.93,858.3 653.44,854.9 653.95,835.6 654.46,843.7 654.97,840.5 655.48,842.9 655.99,835.5 656.50,842.7 657.00,841.7 657.51,820.9 658.02,819.9 658.53,830.6 659.04,836.2 659.55,824.1 660.06,820.1 660.57,825.5 661.08,809.4 661.59,812.4 662.10,828.1 662.61,833.2 663.12,823.4 663.62,827.5 664.13,829.3 664.64,809.0 665.15,806.1 665.66,835.9 666.17,832.4 666.68,830.5 667.19,833.2 667.70,832.4 668.21,817.4 668.72,820.7 669.23,835.7 669.74,834.1 670.24,835.8 670.75,829.9 671.26,830.5 671.77,825.4 672.28,830.1 672.79,835.1 673.30,841.5 673.81,838.9 674.32,841.1 674.83,833.9 675.34,820.7 675.85,823.1 676.36,846.7 676.86,844.4 677.37,843.2 677.88,852.1 678.39,850.9 678.90,834.6 679.41,842.1 679.92,854.4 680.43,848.5 680.94,856.6 681.45,853.5 681.96,857.5 682.47,847.4 682.98,854.0 683.48,862.5 683.99,859.9 684.50,866.8 685.01,867.2 685.52,866.5 686.03,861.2 686.54,861.4 687.05,866.0 687.56,877.3 688.07,876.8 688.58,873.4 689.09,872.8 689.60,872.2 690.11,874.0 690.61,879.7 691.12,877.7 691.63,879.9 692.14,879.0 692.65,883.3 693.16,874.2 693.67,876.2 694.18,880.6 694.69,879.8 695.20,880.0 695.71,882.4 696.22,878.4 696.73,877.1 697.23,875.0 697.74,889.1 698.25,889.1 698.76,888.6 699.27,886.0 699.78,888.6 700.29,885.0 700.80,882.9 701.31,886.0 701.82,889.5 702.33,887.5 702.84,889.1 703.35,886.9 703.85,877.5 704.36,880.8 704.87,889.7 705.38,888.0 705.89,888.6 706.40,892.4 706.91,894.3 707.42,889.2 707.93,887.9 708.44,895.5 708.95,896.3 709.46,894.9 709.97,893.3 710.47,896.9 710.98,887.9 711.49,889.8 712.00,894.3 712.51,895.4 713.02,896.4 713.53,894.4 714.04,898.6 714.55,894.1 715.06,890.1 715.57,898.0 716.08,905.0 716.59,897.3 717.09,899.7 717.60,899.5 718.11,895.4 718.62,896.2 719.13,899.5 719.13,913.4 718.62,913.9 718.11,913.1 717.60,915.1 717.09,911.2 716.59,909.5 716.08,912.6 715.57,912.5 715.06,910.5 714.55,910.1 714.04,910.8 713.53,908.9 713.02,910.6 712.51,911.0 712.00,908.6 711.49,911.2 710.98,910.3 710.47,908.2 709.97,908.6 709.46,908.6 708.95,909.7 708.44,908.8 707.93,906.5 707.42,904.9 706.91,906.8 706.40,905.2 705.89,906.6 705.38,907.9 704.87,906.1 704.36,905.8 703.85,903.4 703.35,903.6 702.84,905.3 702.33,906.1 701.82,903.3 701.31,905.3 700.80,900.9 700.29,903.3 699.78,904.3 699.27,902.5 698.76,901.4 698.25,903.4 697.74,903.9 697.23,898.5 696.73,899.7 696.22,899.1 695.71,895.8 695.20,895.8 694.69,898.7 694.18,897.6 693.67,895.6 693.16,897.5 692.65,895.7 692.14,893.6 691.63,894.9 691.12,892.7 690.61,894.4 690.11,892.5 689.60,892.5 689.09,892.6 688.58,892.5 688.07,889.8 687.56,890.9 687.05,890.6 686.54,889.6 686.03,886.6 685.52,887.6 685.01,890.2 684.50,885.8 683.99,885.4 683.48,880.5 682.98,884.5 682.47,882.9 681.96,880.0 681.45,879.6 680.94,876.2 680.43,880.0 679.92,877.7 679.41,877.8 678.90,876.2 678.39,877.6 677.88,874.6 677.37,875.0 676.86,870.9 676.36,873.0 675.85,874.6 675.34,872.8 674.83,870.7 674.32,873.0 673.81,869.1 673.30,868.8 672.79,866.8 672.28,867.1 671.77,867.5 671.26,866.4 670.75,867.0 670.24,866.5 669.74,868.6 669.23,865.5 668.72,865.1 668.21,863.7 667.70,861.4 667.19,862.5 666.68,853.9 666.17,853.9 665.66,859.7 665.15,859.0 664.64,862.6 664.13,853.8 663.62,855.1 663.12,859.7 662.61,861.8 662.10,865.2 661.59,858.0 661.08,863.9 660.57,856.8 660.06,860.4 659.55,866.3 659.04,861.1 658.53,866.1 658.02,867.7 657.51,864.1 657.00,867.0 656.50,875.5 655.99,867.9 655.48,869.4 654.97,872.1 654.46,874.7 653.95,876.9 653.44,879.2 652.93,878.7 652.42,880.8 651.91,886.5 651.40,886.3 650.89,895.0 650.38,883.2 649.88,887.9 649.37,894.9 648.86,896.5 648.35,891.7 647.84,894.9 647.33,900.4 646.82,900.4 646.31,895.5 645.80,895.5 645.29,898.6 644.78,899.6 644.27,903.9 643.76,898.9 643.25,899.1 642.75,898.0 642.24,901.9 641.73,901.4 641.22,899.1 640.71,900.4 640.20,901.5 639.69,903.2 639.18,905.5 638.67,904.4 638.16,906.7 637.65,903.3 637.14,904.5 636.63,906.3 636.13,907.9 635.62,906.9 635.11,907.3 634.60,907.8 634.09,908.5 633.58,907.0 633.07,908.9 632.56,907.7 632.05,908.8 631.54,909.6 631.03,910.6 630.52,908.1 630.01,908.4 629.51,908.5 629.00,909.8 628.49,910.6 627.98,909.1 627.47,908.5 626.96,910.0 626.45,909.3 625.94,910.5 625.43,909.4 624.92,911.2 624.41,908.7 623.90,909.5 623.39,910.0 622.89,911.1 622.38,908.8 621.87,911.6 621.36,910.6 620.85,908.7 620.34,911.6 619.83,909.8 619.32,909.1 618.81,909.7 618.30,910.6 617.79,909.8 617.28,909.8 616.77,908.8 616.27,909.2 615.76,909.1 615.25,910.9 614.74,910.4 614.23,909.1 613.72,909.8 613.21,910.1 612.70,911.2 612.19,909.9 611.68,910.1 611.17,909.9 610.66,909.5 610.15,910.9 609.65,909.6 609.14,908.7 608.63,908.1 608.12,910.0 607.61,910.1 607.10,910.6 606.59,911.3 606.08,909.6 605.57,908.1 605.06,912.2 604.55,910.4 604.04,911.3 603.53,911.0 603.02,912.2 602.52,911.0 602.01,908.8 601.50,909.3 600.99,906.8 600.48,909.3 599.97,910.8 599.46,910.6 598.95,911.2 598.44,910.4 597.93,908.7 597.42,909.0 596.91,909.2 596.40,908.8 595.90,909.3 595.39,909.9 594.88,910.4 594.37,909.3 593.86,908.8 593.35,910.9 592.84,909.4 592.33,910.7 591.82,910.4 591.31,910.7 590.80,907.7 590.29,909.3 589.78,910.0 589.28,910.5 588.77,909.8 588.26,910.1 587.75,909.4 587.24,911.8 586.73,909.1 586.22,909.4 585.71,911.3 585.20,910.4 584.69,912.0 584.18,908.9 583.67,909.0 583.16,909.7 582.66,910.4 582.15,911.0 581.64,911.1 581.13,911.4 580.62,908.0 580.11,910.4 579.60,910.1 579.09,912.0 578.58,908.8 578.07,910.6 577.56,909.7 577.05,911.1 576.54,910.7 576.04,909.4 575.53,911.4 575.02,909.7 574.51,909.6 574.00,909.7 573.49,909.1 572.98,909.6 572.47,910.0 571.96,911.6 571.45,910.9 570.94,909.6 570.43,909.0 569.92,910.2 569.42,911.6 568.91,911.0 568.40,908.6 567.89,912.4 567.38,909.7 566.87,909.4 566.36,910.1 565.85,910.6 565.34,910.3 564.83,909.0 564.32,908.8 563.81,912.2 563.30,913.0 562.79,910.9 562.29,910.1 561.78,909.1 561.27,911.1 560.76,909.3 560.25,910.3 559.74,909.0 559.23,909.4 558.72,909.6 558.21,909.1 557.70,908.6 557.19,911.1 556.68,909.1 556.17,910.3 555.67,910.7 555.16,909.9 554.65,912.2 554.14,910.4 553.63,910.4 553.12,909.4 552.61,909.5 552.10,912.8 551.59,909.8 551.08,910.8 550.57,911.3 550.06,908.7 549.55,908.9 549.05,910.1 548.54,906.4 548.03,909.1 547.52,911.4 547.01,909.6 546.50,910.4 545.99,908.5 545.48,908.5 544.97,910.4 544.46,909.5 543.95,909.6 543.44,910.1 542.93,910.8 542.43,913.6 541.92,910.0 541.41,910.1 540.90,911.0 540.39,910.4 539.88,910.6 539.37,910.4 538.86,910.9 538.35,912.1 537.84,909.3 537.33,909.2 536.82,911.0 536.31,909.2 535.81,910.0 535.30,911.7 534.79,909.9 534.28,910.5 533.77,911.5" fill="#E0957B" fill-opacity="0.8"/>
<path d="M533.8 906.3h0M534.3 894.1h0M534.8 914.8h0M535.3 919.0h0M535.8 912.1h0M536.3 914.1h0M536.8 920.8h0M537.3 890.9h0M537.8 896.2h0M538.4 908.8h0M538.9 913.5h0M539.4 890.1h0M539.9 920.8h0M540.4 919.5h0M540.9 913.3h0M541.4 870.2h0M541.9 903.6h0M542.4 904.7h0M542.9 905.6h0M543.4 896.2h0M544.0 887.9h0M544.5 902.8h0M545.0 900.1h0M545.5 906.4h0M546.0 898.2h0M546.5 913.9h0M547.0 911.5h0M547.5 869.5h0M548.0 902.2h0M548.5 916.7h0M549.0 902.7h0M549.6 910.1h0M550.1 904.4h0M550.6 897.8h0M551.1 898.0h0M551.6 907.9h0M552.1 915.3h0M552.6 912.7h0M553.1 912.8h0M553.6 905.4h0M554.1 899.7h0M554.6 905.9h0M555.2 887.5h0M555.7 911.6h0M556.2 884.2h0M556.7 894.0h0M557.2 912.6h0M557.7 903.2h0M558.2 891.6h0M558.7 896.8h0M559.2 902.6h0M559.7 915.4h0M560.2 901.6h0M560.8 900.9h0M561.3 907.3h0M561.8 907.7h0M562.3 862.1h0M562.8 909.2h0M563.3 914.1h0M563.8 892.2h0M564.3 920.4h0M564.8 905.3h0M565.3 918.5h0M565.9 918.9h0M566.4 901.0h0M566.9 896.5h0M567.4 905.4h0M567.9 888.1h0M568.4 903.8h0M568.9 895.8h0M569.4 897.0h0M569.9 882.8h0M570.4 892.3h0M570.9 910.3h0M571.5 892.0h0M572.0 900.7h0M572.5 920.8h0M573.0 911.8h0M573.5 899.3h0M574.0 902.4h0M574.5 879.8h0M575.0 904.6h0M575.5 914.0h0M576.0 896.0h0M576.5 906.5h0M577.1 898.5h0M577.6 920.8h0M578.1 885.8h0M578.6 897.1h0M579.1 892.3h0M579.6 905.3h0M580.1 888.8h0M580.6 900.9h0M581.1 883.2h0M581.6 919.3h0M582.1 906.2h0M582.7 917.5h0M583.2 900.9h0M583.7 913.3h0M584.2 917.2h0M584.7 900.0h0M585.2 920.8h0M585.7 887.3h0M586.2 888.7h0M586.7 919.3h0M587.2 894.9h0M587.7 912.4h0M588.3 892.5h0M588.8 908.4h0M589.3 905.8h0M589.8 920.8h0M590.3 916.7h0M590.8 914.7h0M591.3 892.6h0M591.8 886.9h0M592.3 897.7h0M592.8 890.0h0M593.3 907.0h0M593.9 909.8h0M594.4 900.2h0M594.9 885.4h0M595.4 904.0h0M595.9 912.0h0M596.4 909.8h0M596.9 909.5h0M597.4 909.6h0M597.9 903.9h0M598.4 897.7h0M599.0 920.4h0M599.5 907.7h0M600.0 916.2h0M600.5 906.3h0M601.0 903.0h0M601.5 913.6h0M602.0 888.0h0M602.5 910.4h0M603.0 920.8h0M603.5 913.5h0M604.0 920.8h0M604.6 914.8h0M605.1 917.4h0M605.6 911.0h0M606.1 906.4h0M606.6 912.7h0M607.1 887.3h0M607.6 900.7h0M608.1 890.0h0M608.6 901.4h0M609.1 907.7h0M609.6 893.4h0M610.2 901.2h0M610.7 886.3h0M611.2 888.8h0M611.7 911.9h0M612.2 916.8h0M612.7 916.7h0M613.2 907.9h0M613.7 901.1h0M614.2 868.9h0M614.7 901.9h0M615.2 914.6h0M615.8 908.3h0M616.3 884.6h0M616.8 915.1h0M617.3 895.0h0M617.8 920.8h0M618.3 902.9h0M618.8 893.4h0M619.3 885.4h0M619.8 890.8h0M620.3 888.9h0M620.8 910.5h0M621.4 915.8h0M621.9 908.5h0M622.4 904.4h0M622.9 910.2h0M623.4 912.3h0M623.9 894.6h0M624.4 897.0h0M624.9 896.6h0M625.4 903.7h0M625.9 915.5h0M626.5 891.1h0M627.0 889.9h0M627.5 901.4h0M628.0 899.1h0M628.5 896.6h0M629.0 920.8h0M629.5 889.9h0M630.0 902.6h0M630.5 906.0h0M631.0 904.1h0M631.5 909.0h0M632.1 900.3h0M632.6 913.3h0M633.1 909.8h0M633.6 914.6h0M634.1 898.4h0M634.6 907.7h0M635.1 920.3h0M635.6 917.3h0M636.1 887.6h0M636.6 886.1h0M637.1 897.5h0M637.7 913.6h0M638.2 917.6h0M638.7 920.8h0M639.2 904.4h0M639.7 901.9h0M640.2 898.3h0M640.7 901.5h0M641.2 908.3h0M641.7 893.2h0M642.2 897.7h0M642.7 894.0h0M643.3 909.1h0M643.8 910.5h0M644.3 897.1h0M644.8 907.4h0M645.3 901.7h0M645.8 892.9h0M646.3 902.5h0M646.8 894.4h0M647.3 886.5h0M647.8 891.2h0M648.3 890.2h0M648.9 902.6h0M649.4 896.4h0M649.9 899.8h0M650.4 893.0h0M650.9 893.2h0M651.4 880.4h0M651.9 886.0h0M652.4 875.2h0M652.9 883.0h0M653.4 877.4h0M653.9 881.1h0M654.5 881.1h0M655.0 864.4h0M655.5 880.0h0M656.0 870.1h0M656.5 881.8h0M657.0 850.9h0M657.5 869.6h0M658.0 861.3h0M658.5 857.9h0M659.0 856.9h0M659.6 843.5h0M660.1 854.1h0M660.6 863.7h0M661.1 856.4h0M661.6 857.7h0M662.1 854.0h0M662.6 855.3h0M663.1 868.8h0M663.6 874.5h0M664.1 849.5h0M664.6 827.5h0M665.2 822.8h0M665.7 857.0h0M666.2 842.0h0M666.7 825.5h0M667.2 850.8h0M667.7 832.7h0M668.2 850.7h0M668.7 850.7h0M669.2 838.3h0M669.7 839.9h0M670.2 830.2h0M670.8 845.8h0M671.3 828.0h0M671.8 845.4h0M672.3 831.3h0M672.8 811.3h0M673.3 843.2h0M673.8 841.2h0M674.3 856.4h0M674.8 848.6h0M675.3 843.5h0M675.8 856.6h0M676.4 823.1h0M676.9 866.3h0M677.4 829.5h0M677.9 871.8h0M678.4 859.8h0M678.9 853.5h0M679.4 869.6h0M679.9 854.6h0M680.4 867.3h0M680.9 877.6h0M681.4 876.6h0M682.0 867.0h0M682.5 875.3h0M683.0 872.2h0M683.5 831.9h0M684.0 866.1h0M684.5 863.6h0M685.0 865.5h0M685.5 858.7h0M686.0 856.1h0M686.5 888.4h0M687.0 871.8h0M687.6 880.9h0M688.1 878.8h0M688.6 882.9h0M689.1 874.9h0M689.6 879.9h0M690.1 854.8h0M690.6 865.4h0M691.1 872.3h0M691.6 889.5h0M692.1 872.2h0M692.7 895.4h0M693.2 868.3h0M693.7 897.6h0M694.2 868.3h0M694.7 878.1h0M695.2 876.7h0M695.7 871.8h0M696.2 919.6h0M696.7 886.1h0M697.2 891.2h0M697.7 893.9h0M698.3 880.0h0M698.8 910.5h0M699.3 885.1h0M699.8 872.1h0M700.3 881.0h0M700.8 902.8h0M701.3 893.9h0M701.8 900.0h0M702.3 882.2h0M702.8 889.7h0M703.3 898.6h0M703.9 888.4h0M704.4 875.3h0M704.9 899.0h0M705.4 898.4h0M705.9 903.4h0M706.4 889.1h0M706.9 878.9h0M707.4 884.9h0M707.9 891.3h0M708.4 877.7h0M708.9 888.1h0M709.5 894.4h0M710.0 896.2h0M710.5 902.3h0M711.0 905.6h0M711.5 891.5h0M712.0 887.3h0M712.5 901.9h0M713.0 898.5h0M713.5 901.8h0M714.0 896.7h0M714.5 905.5h0M715.1 912.6h0M715.6 887.2h0M716.1 883.3h0M716.6 902.7h0M717.1 902.3h0M717.6 893.7h0M718.1 904.8h0M718.6 899.0h0M719.1 917.6h0M533.5 855.0h0M537.2 850.5h0M561.4 848.6h0M565.8 848.6h0M577.0 826.8h0M576.0 858.3h0M535.4 869.6h0M538.7 870.3h0M541.3 872.8h0M534.0 881.0h0M535.7 878.0h0M538.0 877.0h0M568.7 877.0h0M574.3 875.0h0M578.0 881.0h0M587.8 880.6h0M590.7 882.0h0M618.9 877.2h0M638.7 869.6h0M658.5 811.0h0M659.0 814.0h0M668.0 805.0h0M674.6 792.6h0M673.0 801.4h0M676.7 821.0h0M680.0 834.0h0M683.0 837.0h0M710.0 866.0h0M713.0 918.7h0M715.0 918.0h0" stroke="#111" stroke-opacity="0.95" stroke-width="4.10" stroke-linecap="round" fill="none"/>
<path d="M51.00 18.90V158.30M50.50 158.30H238.00" stroke="#000" stroke-width="1.1" fill="none"/><path d="M48.20 158.10H51.00M48.20 120.90H51.00M48.20 83.60H51.00M48.20 46.30H51.00M59.50 158.30V161.10M101.07 158.30V161.10M143.57 158.30V161.10M186.53 158.30V161.10M229.03 158.30V161.10" stroke="#111" stroke-width="1.1" fill="none"/><text x="45.90" y="161.65" font-size="10" fill="#000" stroke="#000" stroke-width="0.18" text-anchor="end">0</text><text x="45.90" y="124.45" font-size="10" fill="#000" stroke="#000" stroke-width="0.18" text-anchor="end">10000</text><text x="45.90" y="87.15" font-size="10" fill="#000" stroke="#000" stroke-width="0.18" text-anchor="end">20000</text><text x="45.90" y="49.85" font-size="10" fill="#000" stroke="#000" stroke-width="0.18" text-anchor="end">30000</text><text x="59.50" y="170.90" font-size="10" fill="#000" stroke="#000" stroke-width="0.18" text-anchor="middle">01−jan</text><text x="101.07" y="170.90" font-size="10" fill="#000" stroke="#000" stroke-width="0.18" text-anchor="middle">31−mar</text><text x="143.57" y="170.90" font-size="10" fill="#000" stroke="#000" stroke-width="0.18" text-anchor="middle">30−jun</text><text x="186.53" y="170.90" font-size="10" fill="#000" stroke="#000" stroke-width="0.18" text-anchor="middle">30−sep</text><text x="229.03" y="170.90" font-size="10" fill="#000" stroke="#000" stroke-width="0.18" text-anchor="middle">30−dec</text>
<path d="M290.70 18.90V158.30M290.20 158.30H483.40" stroke="#000" stroke-width="1.1" fill="none"/><path d="M287.90 120.35H290.70M287.90 73.65H290.70M287.90 26.95H290.70M299.46 158.30V161.10M342.29 158.30V161.10M386.09 158.30V161.10M430.36 158.30V161.10M474.16 158.30V161.10" stroke="#111" stroke-width="1.1" fill="none"/><text x="285.60" y="123.90" font-size="10" fill="#000" stroke="#000" stroke-width="0.18" text-anchor="end">1000</text><text x="285.60" y="77.20" font-size="10" fill="#000" stroke="#000" stroke-width="0.18" text-anchor="end">2000</text><text x="285.60" y="30.50" font-size="10" fill="#000" stroke="#000" stroke-width="0.18" text-anchor="end">3000</text><text x="299.46" y="170.90" font-size="10" fill="#000" stroke="#000" stroke-width="0.18" text-anchor="middle">01−jan</text><text x="342.29" y="170.90" font-size="10" fill="#000" stroke="#000" stroke-width="0.18" text-anchor="middle">31−mar</text><text x="386.09" y="170.90" font-size="10" fill="#000" stroke="#000" stroke-width="0.18" text-anchor="middle">30−jun</text><text x="430.36" y="170.90" font-size="10" fill="#000" stroke="#000" stroke-width="0.18" text-anchor="middle">30−sep</text><text x="474.16" y="170.90" font-size="10" fill="#000" stroke="#000" stroke-width="0.18" text-anchor="middle">30−dec</text>
<path d="M524.40 18.90V158.30M523.90 158.30H728.40" stroke="#000" stroke-width="1.1" fill="none"/><path d="M521.60 155.90H524.40M521.60 120.70H524.40M521.60 85.60H524.40M521.60 50.40H524.40M533.67 158.30V161.10M579.02 158.30V161.10M625.38 158.30V161.10M672.25 158.30V161.10M718.62 158.30V161.10" stroke="#111" stroke-width="1.1" fill="none"/><text x="519.30" y="159.45" font-size="10" fill="#000" stroke="#000" stroke-width="0.18" text-anchor="end">3</text><text x="519.30" y="124.25" font-size="10" fill="#000" stroke="#000" stroke-width="0.18" text-anchor="end">6</text><text x="519.30" y="89.15" font-size="10" fill="#000" stroke="#000" stroke-width="0.18" text-anchor="end">9</text><text x="519.30" y="53.95" font-size="10" fill="#000" stroke="#000" stroke-width="0.18" text-anchor="end">12</text><text x="533.67" y="170.90" font-size="10" fill="#000" stroke="#000" stroke-width="0.18" text-anchor="middle">01−jan</text><text x="579.02" y="170.90" font-size="10" fill="#000" stroke="#000" stroke-width="0.18" text-anchor="middle">31−mar</text><text x="625.38" y="170.90" font-size="10" fill="#000" stroke="#000" stroke-width="0.18" text-anchor="middle">30−jun</text><text x="672.25" y="170.90" font-size="10" fill="#000" stroke="#000" stroke-width="0.18" text-anchor="middle">30−sep</text><text x="718.62" y="170.90" font-size="10" fill="#000" stroke="#000" stroke-width="0.18" text-anchor="middle">30−dec</text>
<path d="M45.25 210.70V350.10M44.75 350.10H238.00" stroke="#000" stroke-width="1.1" fill="none"/><path d="M42.45 344.00H45.25M42.45 318.75H45.25M42.45 293.50H45.25M42.45 268.25H45.25M42.45 243.00H45.25M42.45 217.75H45.25M54.01 350.10V352.90M96.86 350.10V352.90M140.66 350.10V352.90M184.95 350.10V352.90M228.76 350.10V352.90" stroke="#111" stroke-width="1.1" fill="none"/><text x="40.15" y="347.55" font-size="10" fill="#000" stroke="#000" stroke-width="0.18" text-anchor="end">0</text><text x="40.15" y="322.30" font-size="10" fill="#000" stroke="#000" stroke-width="0.18" text-anchor="end">500</text><text x="40.15" y="297.05" font-size="10" fill="#000" stroke="#000" stroke-width="0.18" text-anchor="end">1000</text><text x="40.15" y="271.80" font-size="10" fill="#000" stroke="#000" stroke-width="0.18" text-anchor="end">1500</text><text x="40.15" y="246.55" font-size="10" fill="#000" stroke="#000" stroke-width="0.18" text-anchor="end">2000</text><text x="40.15" y="221.30" font-size="10" fill="#000" stroke="#000" stroke-width="0.18" text-anchor="end">2500</text><text x="54.01" y="362.70" font-size="10" fill="#000" stroke="#000" stroke-width="0.18" text-anchor="middle">01−jan</text><text x="96.86" y="362.70" font-size="10" fill="#000" stroke="#000" stroke-width="0.18" text-anchor="middle">31−mar</text><text x="140.66" y="362.70" font-size="10" fill="#000" stroke="#000" stroke-width="0.18" text-anchor="middle">30−jun</text><text x="184.95" y="362.70" font-size="10" fill="#000" stroke="#000" stroke-width="0.18" text-anchor="middle">30−sep</text><text x="228.76" y="362.70" font-size="10" fill="#000" stroke="#000" stroke-width="0.18" text-anchor="middle">30−dec</text>
<path d="M285.00 210.70V350.10M284.50 350.10H483.40" stroke="#000" stroke-width="1.1" fill="none"/><path d="M282.20 344.00H285.00M282.20 312.25H285.00M282.20 280.50H285.00M282.20 248.75H285.00M282.20 217.00H285.00M294.02 350.10V352.90M338.12 350.10V352.90M383.21 350.10V352.90M428.80 350.10V352.90M473.89 350.10V352.90" stroke="#111" stroke-width="1.1" fill="none"/><text x="279.90" y="347.55" font-size="10" fill="#000" stroke="#000" stroke-width="0.18" text-anchor="end">0</text><text x="279.90" y="315.80" font-size="10" fill="#000" stroke="#000" stroke-width="0.18" text-anchor="end">100</text><text x="279.90" y="284.05" font-size="10" fill="#000" stroke="#000" stroke-width="0.18" text-anchor="end">200</text><text x="279.90" y="252.30" font-size="10" fill="#000" stroke="#000" stroke-width="0.18" text-anchor="end">300</text><text x="279.90" y="220.55" font-size="10" fill="#000" stroke="#000" stroke-width="0.18" text-anchor="end">400</text><text x="294.02" y="362.70" font-size="10" fill="#000" stroke="#000" stroke-width="0.18" text-anchor="middle">01−jan</text><text x="338.12" y="362.70" font-size="10" fill="#000" stroke="#000" stroke-width="0.18" text-anchor="middle">31−mar</text><text x="383.21" y="362.70" font-size="10" fill="#000" stroke="#000" stroke-width="0.18" text-anchor="middle">30−jun</text><text x="428.80" y="362.70" font-size="10" fill="#000" stroke="#000" stroke-width="0.18" text-anchor="middle">30−sep</text><text x="473.89" y="362.70" font-size="10" fill="#000" stroke="#000" stroke-width="0.18" text-anchor="middle">30−dec</text>
<path d="M532.75 210.70V350.10M532.25 350.10H728.40" stroke="#000" stroke-width="1.1" fill="none"/><path d="M529.95 340.00H532.75M529.95 310.50H532.75M529.95 281.00H532.75M529.95 251.50H532.75M529.95 222.00H532.75M541.64 350.10V352.90M585.13 350.10V352.90M629.60 350.10V352.90M674.55 350.10V352.90M719.02 350.10V352.90" stroke="#111" stroke-width="1.1" fill="none"/><text x="527.65" y="343.55" font-size="10" fill="#000" stroke="#000" stroke-width="0.18" text-anchor="end">0.0</text><text x="527.65" y="314.05" font-size="10" fill="#000" stroke="#000" stroke-width="0.18" text-anchor="end">2.5</text><text x="527.65" y="284.55" font-size="10" fill="#000" stroke="#000" stroke-width="0.18" text-anchor="end">5.0</text><text x="527.65" y="255.05" font-size="10" fill="#000" stroke="#000" stroke-width="0.18" text-anchor="end">7.5</text><text x="527.65" y="225.55" font-size="10" fill="#000" stroke="#000" stroke-width="0.18" text-anchor="end">10.0</text><text x="541.64" y="362.70" font-size="10" fill="#000" stroke="#000" stroke-width="0.18" text-anchor="middle">01−jan</text><text x="585.13" y="362.70" font-size="10" fill="#000" stroke="#000" stroke-width="0.18" text-anchor="middle">31−mar</text><text x="629.60" y="362.70" font-size="10" fill="#000" stroke="#000" stroke-width="0.18" text-anchor="middle">30−jun</text><text x="674.55" y="362.70" font-size="10" fill="#000" stroke="#000" stroke-width="0.18" text-anchor="middle">30−sep</text><text x="719.02" y="362.70" font-size="10" fill="#000" stroke="#000" stroke-width="0.18" text-anchor="middle">30−dec</text>
<path d="M39.50 402.50V541.90M39.00 541.90H238.00" stroke="#000" stroke-width="1.1" fill="none"/><path d="M36.70 535.75H39.50M36.70 499.50H39.50M36.70 463.25H39.50M36.70 427.00H39.50M48.52 541.90V544.70M92.64 541.90V544.70M137.76 541.90V544.70M183.37 541.90V544.70M228.48 541.90V544.70" stroke="#111" stroke-width="1.1" fill="none"/><text x="34.40" y="539.30" font-size="10" fill="#000" stroke="#000" stroke-width="0.18" text-anchor="end">0</text><text x="34.40" y="503.05" font-size="10" fill="#000" stroke="#000" stroke-width="0.18" text-anchor="end">250</text><text x="34.40" y="466.80" font-size="10" fill="#000" stroke="#000" stroke-width="0.18" text-anchor="end">500</text><text x="34.40" y="430.55" font-size="10" fill="#000" stroke="#000" stroke-width="0.18" text-anchor="end">750</text><text x="48.52" y="554.50" font-size="10" fill="#000" stroke="#000" stroke-width="0.18" text-anchor="middle">01−jan</text><text x="92.64" y="554.50" font-size="10" fill="#000" stroke="#000" stroke-width="0.18" text-anchor="middle">31−mar</text><text x="137.76" y="554.50" font-size="10" fill="#000" stroke="#000" stroke-width="0.18" text-anchor="middle">30−jun</text><text x="183.37" y="554.50" font-size="10" fill="#000" stroke="#000" stroke-width="0.18" text-anchor="middle">30−sep</text><text x="228.48" y="554.50" font-size="10" fill="#000" stroke="#000" stroke-width="0.18" text-anchor="middle">30−dec</text>
<path d="M285.00 402.50V541.90M284.50 541.90H483.40" stroke="#000" stroke-width="1.1" fill="none"/><path d="M282.20 535.75H285.00M282.20 500.25H285.00M282.20 464.75H285.00M282.20 429.25H285.00M294.02 541.90V544.70M338.12 541.90V544.70M383.21 541.90V544.70M428.80 541.90V544.70M473.89 541.90V544.70" stroke="#111" stroke-width="1.1" fill="none"/><text x="279.90" y="539.30" font-size="10" fill="#000" stroke="#000" stroke-width="0.18" text-anchor="end">0</text><text x="279.90" y="503.80" font-size="10" fill="#000" stroke="#000" stroke-width="0.18" text-anchor="end">50</text><text x="279.90" y="468.30" font-size="10" fill="#000" stroke="#000" stroke-width="0.18" text-anchor="end">100</text><text x="279.90" y="432.80" font-size="10" fill="#000" stroke="#000" stroke-width="0.18" text-anchor="end">150</text><text x="294.02" y="554.50" font-size="10" fill="#000" stroke="#000" stroke-width="0.18" text-anchor="middle">01−jan</text><text x="338.12" y="554.50" font-size="10" fill="#000" stroke="#000" stroke-width="0.18" text-anchor="middle">31−mar</text><text x="383.21" y="554.50" font-size="10" fill="#000" stroke="#000" stroke-width="0.18" text-anchor="middle">30−jun</text><text x="428.80" y="554.50" font-size="10" fill="#000" stroke="#000" stroke-width="0.18" text-anchor="middle">30−sep</text><text x="473.89" y="554.50" font-size="10" fill="#000" stroke="#000" stroke-width="0.18" text-anchor="middle">30−dec</text>
<path d="M518.75 402.50V541.90M518.25 541.90H728.40" stroke="#000" stroke-width="1.1" fill="none"/><path d="M515.95 535.75H518.75M515.95 502.75H518.75M515.95 469.75H518.75M515.95 436.75H518.75M515.95 403.75H518.75M528.28 541.90V544.70M574.88 541.90V544.70M622.53 541.90V544.70M670.70 541.90V544.70M718.35 541.90V544.70" stroke="#111" stroke-width="1.1" fill="none"/><text x="513.65" y="539.30" font-size="10" fill="#000" stroke="#000" stroke-width="0.18" text-anchor="end">0</text><text x="513.65" y="506.30" font-size="10" fill="#000" stroke="#000" stroke-width="0.18" text-anchor="end">2</text><text x="513.65" y="473.30" font-size="10" fill="#000" stroke="#000" stroke-width="0.18" text-anchor="end">4</text><text x="513.65" y="440.30" font-size="10" fill="#000" stroke="#000" stroke-width="0.18" text-anchor="end">6</text><text x="513.65" y="407.30" font-size="10" fill="#000" stroke="#000" stroke-width="0.18" text-anchor="end">8</text><text x="528.28" y="554.50" font-size="10" fill="#000" stroke="#000" stroke-width="0.18" text-anchor="middle">01−jan</text><text x="574.88" y="554.50" font-size="10" fill="#000" stroke="#000" stroke-width="0.18" text-anchor="middle">31−mar</text><text x="622.53" y="554.50" font-size="10" fill="#000" stroke="#000" stroke-width="0.18" text-anchor="middle">30−jun</text><text x="670.70" y="554.50" font-size="10" fill="#000" stroke="#000" stroke-width="0.18" text-anchor="middle">30−sep</text><text x="718.35" y="554.50" font-size="10" fill="#000" stroke="#000" stroke-width="0.18" text-anchor="middle">30−dec</text>
<path d="M45.25 594.40V733.80M44.75 733.80H238.00" stroke="#000" stroke-width="1.1" fill="none"/><path d="M42.45 727.50H45.25M42.45 685.20H45.25M42.45 642.90H45.25M42.45 600.60H45.25M54.01 733.80V736.60M96.86 733.80V736.60M140.66 733.80V736.60M184.95 733.80V736.60M228.76 733.80V736.60" stroke="#111" stroke-width="1.1" fill="none"/><text x="40.15" y="731.05" font-size="10" fill="#000" stroke="#000" stroke-width="0.18" text-anchor="end">0</text><text x="40.15" y="688.75" font-size="10" fill="#000" stroke="#000" stroke-width="0.18" text-anchor="end">2000</text><text x="40.15" y="646.45" font-size="10" fill="#000" stroke="#000" stroke-width="0.18" text-anchor="end">4000</text><text x="40.15" y="604.15" font-size="10" fill="#000" stroke="#000" stroke-width="0.18" text-anchor="end">6000</text><text x="54.01" y="746.40" font-size="10" fill="#000" stroke="#000" stroke-width="0.18" text-anchor="middle">01−jan</text><text x="96.86" y="746.40" font-size="10" fill="#000" stroke="#000" stroke-width="0.18" text-anchor="middle">31−mar</text><text x="140.66" y="746.40" font-size="10" fill="#000" stroke="#000" stroke-width="0.18" text-anchor="middle">30−jun</text><text x="184.95" y="746.40" font-size="10" fill="#000" stroke="#000" stroke-width="0.18" text-anchor="middle">30−sep</text><text x="228.76" y="746.40" font-size="10" fill="#000" stroke="#000" stroke-width="0.18" text-anchor="middle">30−dec</text>
<path d="M285.00 594.40V733.80M284.50 733.80H483.40" stroke="#000" stroke-width="1.1" fill="none"/><path d="M282.20 728.00H285.00M282.20 683.80H285.00M282.20 639.60H285.00M282.20 595.40H285.00M294.02 733.80V736.60M338.12 733.80V736.60M383.21 733.80V736.60M428.80 733.80V736.60M473.89 733.80V736.60" stroke="#111" stroke-width="1.1" fill="none"/><text x="279.90" y="731.55" font-size="10" fill="#000" stroke="#000" stroke-width="0.18" text-anchor="end">0</text><text x="279.90" y="687.35" font-size="10" fill="#000" stroke="#000" stroke-width="0.18" text-anchor="end">100</text><text x="279.90" y="643.15" font-size="10" fill="#000" stroke="#000" stroke-width="0.18" text-anchor="end">200</text><text x="279.90" y="598.95" font-size="10" fill="#000" stroke="#000" stroke-width="0.18" text-anchor="end">300</text><text x="294.02" y="746.40" font-size="10" fill="#000" stroke="#000" stroke-width="0.18" text-anchor="middle">01−jan</text><text x="338.12" y="746.40" font-size="10" fill="#000" stroke="#000" stroke-width="0.18" text-anchor="middle">31−mar</text><text x="383.21" y="746.40" font-size="10" fill="#000" stroke="#000" stroke-width="0.18" text-anchor="middle">30−jun</text><text x="428.80" y="746.40" font-size="10" fill="#000" stroke="#000" stroke-width="0.18" text-anchor="middle">30−sep</text><text x="473.89" y="746.40" font-size="10" fill="#000" stroke="#000" stroke-width="0.18" text-anchor="middle">30−dec</text>
<path d="M524.50 594.40V733.80M524.00 733.80H728.40" stroke="#000" stroke-width="1.1" fill="none"/><path d="M521.70 727.50H524.50M521.70 684.20H524.50M521.70 640.90H524.50M521.70 597.60H524.50M533.77 733.80V736.60M579.09 733.80V736.60M625.43 733.80V736.60M672.28 733.80V736.60M718.62 733.80V736.60" stroke="#111" stroke-width="1.1" fill="none"/><text x="519.40" y="731.05" font-size="10" fill="#000" stroke="#000" stroke-width="0.18" text-anchor="end">0</text><text x="519.40" y="687.75" font-size="10" fill="#000" stroke="#000" stroke-width="0.18" text-anchor="end">10</text><text x="519.40" y="644.45" font-size="10" fill="#000" stroke="#000" stroke-width="0.18" text-anchor="end">20</text><text x="519.40" y="601.15" font-size="10" fill="#000" stroke="#000" stroke-width="0.18" text-anchor="end">30</text><text x="533.77" y="746.40" font-size="10" fill="#000" stroke="#000" stroke-width="0.18" text-anchor="middle">01−jan</text><text x="579.09" y="746.40" font-size="10" fill="#000" stroke="#000" stroke-width="0.18" text-anchor="middle">31−mar</text><text x="625.43" y="746.40" font-size="10" fill="#000" stroke="#000" stroke-width="0.18" text-anchor="middle">30−jun</text><text x="672.28" y="746.40" font-size="10" fill="#000" stroke="#000" stroke-width="0.18" text-anchor="middle">30−sep</text><text x="718.62" y="746.40" font-size="10" fill="#000" stroke="#000" stroke-width="0.18" text-anchor="middle">30−dec</text>
<path d="M45.25 786.30V925.70M44.75 925.70H238.00" stroke="#000" stroke-width="1.1" fill="none"/><path d="M42.45 919.50H45.25M42.45 871.25H45.25M42.45 823.00H45.25M54.01 925.70V928.50M96.86 925.70V928.50M140.66 925.70V928.50M184.95 925.70V928.50M228.76 925.70V928.50" stroke="#111" stroke-width="1.1" fill="none"/><text x="40.15" y="923.05" font-size="10" fill="#000" stroke="#000" stroke-width="0.18" text-anchor="end">0</text><text x="40.15" y="874.80" font-size="10" fill="#000" stroke="#000" stroke-width="0.18" text-anchor="end">1000</text><text x="40.15" y="826.55" font-size="10" fill="#000" stroke="#000" stroke-width="0.18" text-anchor="end">2000</text><text x="54.01" y="938.30" font-size="10" fill="#000" stroke="#000" stroke-width="0.18" text-anchor="middle">01−jan</text><text x="96.86" y="938.30" font-size="10" fill="#000" stroke="#000" stroke-width="0.18" text-anchor="middle">31−mar</text><text x="140.66" y="938.30" font-size="10" fill="#000" stroke="#000" stroke-width="0.18" text-anchor="middle">30−jun</text><text x="184.95" y="938.30" font-size="10" fill="#000" stroke="#000" stroke-width="0.18" text-anchor="middle">30−sep</text><text x="228.76" y="938.30" font-size="10" fill="#000" stroke="#000" stroke-width="0.18" text-anchor="middle">30−dec</text>
<path d="M285.00 786.30V925.70M284.50 925.70H483.40" stroke="#000" stroke-width="1.1" fill="none"/><path d="M282.20 920.75H285.00M282.20 881.90H285.00M282.20 843.05H285.00M282.20 804.20H285.00M294.02 925.70V928.50M338.12 925.70V928.50M383.21 925.70V928.50M428.80 925.70V928.50M473.89 925.70V928.50" stroke="#111" stroke-width="1.1" fill="none"/><text x="279.90" y="924.30" font-size="10" fill="#000" stroke="#000" stroke-width="0.18" text-anchor="end">0</text><text x="279.90" y="885.45" font-size="10" fill="#000" stroke="#000" stroke-width="0.18" text-anchor="end">50</text><text x="279.90" y="846.60" font-size="10" fill="#000" stroke="#000" stroke-width="0.18" text-anchor="end">100</text><text x="279.90" y="807.75" font-size="10" fill="#000" stroke="#000" stroke-width="0.18" text-anchor="end">150</text><text x="294.02" y="938.30" font-size="10" fill="#000" stroke="#000" stroke-width="0.18" text-anchor="middle">01−jan</text><text x="338.12" y="938.30" font-size="10" fill="#000" stroke="#000" stroke-width="0.18" text-anchor="middle">31−mar</text><text x="383.21" y="938.30" font-size="10" fill="#000" stroke="#000" stroke-width="0.18" text-anchor="middle">30−jun</text><text x="428.80" y="938.30" font-size="10" fill="#000" stroke="#000" stroke-width="0.18" text-anchor="middle">30−sep</text><text x="473.89" y="938.30" font-size="10" fill="#000" stroke="#000" stroke-width="0.18" text-anchor="middle">30−dec</text>
<path d="M524.50 786.30V925.70M524.00 925.70H728.40" stroke="#000" stroke-width="1.1" fill="none"/><path d="M521.70 920.50H524.50M521.70 880.50H524.50M521.70 840.50H524.50M521.70 800.50H524.50M533.77 925.70V928.50M579.09 925.70V928.50M625.43 925.70V928.50M672.28 925.70V928.50M718.62 925.70V928.50" stroke="#111" stroke-width="1.1" fill="none"/><text x="519.40" y="924.05" font-size="10" fill="#000" stroke="#000" stroke-width="0.18" text-anchor="end">0</text><text x="519.40" y="884.05" font-size="10" fill="#000" stroke="#000" stroke-width="0.18" text-anchor="end">5</text><text x="519.40" y="844.05" font-size="10" fill="#000" stroke="#000" stroke-width="0.18" text-anchor="end">10</text><text x="519.40" y="804.05" font-size="10" fill="#000" stroke="#000" stroke-width="0.18" text-anchor="end">15</text><text x="533.77" y="938.30" font-size="10" fill="#000" stroke="#000" stroke-width="0.18" text-anchor="middle">01−jan</text><text x="579.09" y="938.30" font-size="10" fill="#000" stroke="#000" stroke-width="0.18" text-anchor="middle">31−mar</text><text x="625.43" y="938.30" font-size="10" fill="#000" stroke="#000" stroke-width="0.18" text-anchor="middle">30−jun</text><text x="672.28" y="938.30" font-size="10" fill="#000" stroke="#000" stroke-width="0.18" text-anchor="middle">30−sep</text><text x="718.62" y="938.30" font-size="10" fill="#000" stroke="#000" stroke-width="0.18" text-anchor="middle">30−dec</text>
<text x="4.85" y="17.0" font-size="17.3" fill="#000" textLength="37.10" lengthAdjust="spacingAndGlyphs">birds</text>
<text x="0.66" y="198.75" font-size="17.3" fill="#000" textLength="77.29" lengthAdjust="spacingAndGlyphs">butterflies</text>
<text x="-1.20" y="397.3" font-size="17.3" fill="#000" textLength="54.90" lengthAdjust="spacingAndGlyphs">beetles</text>
<text x="0.70" y="586.3" font-size="17.3" fill="#000" textLength="46.50" lengthAdjust="spacingAndGlyphs">plants</text>
<text x="-0.10" y="778.6" font-size="17.3" fill="#000" textLength="40.30" lengthAdjust="spacingAndGlyphs">fungi</text>
<text x="113.34" y="13.3" font-size="16.8" fill="#000" textLength="65.36" lengthAdjust="spacingAndGlyphs">#records</text>
<text x="356.10" y="13.5" font-size="16.8" fill="#000" textLength="82.60" lengthAdjust="spacingAndGlyphs">#observers</text>
<text x="555.40" y="13.1" font-size="16.8" fill="#000" textLength="128.80" lengthAdjust="spacingAndGlyphs">records/observer</text>
<text x="141.62" y="952.5" font-size="11.1" fill="#000" text-anchor="middle">day of year (2018)</text>
<text x="384.20" y="952.5" font-size="11.1" fill="#000" text-anchor="middle">day of year (2018)</text>
<text x="626.45" y="952.5" font-size="11.1" fill="#000" text-anchor="middle">day of year (2018)</text>
</g></svg></body></html>
